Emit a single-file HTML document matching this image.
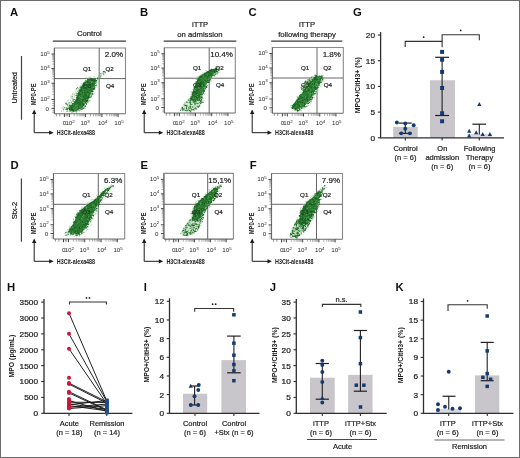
<!DOCTYPE html>
<html><head><meta charset="utf-8"><style>
html,body{margin:0;padding:0;background:#fff;}
#fig{position:absolute;left:0;top:0;width:520px;height:458px;box-sizing:border-box;border:1px solid #6c6c6c;background:#fff;overflow:hidden;}
svg{position:absolute;left:-1px;top:-1px;filter:blur(0.35px);}
text{font-family:"Liberation Sans", sans-serif;}
</style></head><body>
<div id="fig"><svg width="520" height="458" viewBox="0 0 520 458">
<text transform="translate(10.00,15.80)" font-size="11.3" text-anchor="start" font-weight="bold" fill="#111">A</text>
<text transform="translate(140.00,16.00)" font-size="11.3" text-anchor="start" font-weight="bold" fill="#111">B</text>
<text transform="translate(248.60,16.00)" font-size="11.3" text-anchor="start" font-weight="bold" fill="#111">C</text>
<text transform="translate(353.00,16.30)" font-size="11.3" text-anchor="start" font-weight="bold" fill="#111">G</text>
<text transform="translate(10.60,168.50)" font-size="11.3" text-anchor="start" font-weight="bold" fill="#111">D</text>
<text transform="translate(140.60,168.50)" font-size="11.3" text-anchor="start" font-weight="bold" fill="#111">E</text>
<text transform="translate(249.80,168.50)" font-size="11.3" text-anchor="start" font-weight="bold" fill="#111">F</text>
<text transform="translate(7.00,291.40)" font-size="11.3" text-anchor="start" font-weight="bold" fill="#111">H</text>
<text transform="translate(143.80,291.40)" font-size="11.3" text-anchor="start" font-weight="bold" fill="#111">I</text>
<text transform="translate(269.80,291.40)" font-size="11.3" text-anchor="start" font-weight="bold" fill="#111">J</text>
<text transform="translate(395.60,291.40)" font-size="11.3" text-anchor="start" font-weight="bold" fill="#111">K</text>
<path d="M54.40,113.80V48.00H125.50V113.80" fill="none" stroke="#8a8a8a" stroke-width="1.1"/>
<path d="M54.40,48.00L54.40,113.80" stroke="#6a6a6a" stroke-width="1.1"/>
<path d="M54.40,113.80L125.50,113.80" stroke="#6a6a6a" stroke-width="1.1"/>
<path d="M99.20,48.00L99.20,113.80" stroke="#666" stroke-width="1.0"/>
<path d="M54.40,78.60L125.50,78.60" stroke="#666" stroke-width="1.0"/>
<path d="M60.0,111.0L60.0,111.0L68.0,111.5L68.0,111.5L68.0,111.5L71.0,104.1L71.0,103.9L75.0,97.0L75.0,97.0L79.0,89.1L79.0,88.9L83.0,83.0L83.0,83.0L83.0,83.0L78.0,86.0L78.0,86.0L78.0,86.0L66.0,102.0L66.0,102.0L60.0,111.0L60.0,111.0Z" fill="#9ccc9c" opacity="0.12"/><path d="M95.2 84.8h0.8v0.8h-0.8zM80.8 83.2h0.8v0.8h-0.8zM67.7 105.4h0.8v0.8h-0.8zM91.4 97.5h0.8v0.8h-0.8zM71.2 103.2h0.8v0.8h-0.8zM79.1 89.2h0.8v0.8h-0.8zM84.5 105.6h0.8v0.8h-0.8zM91.2 96.5h0.8v0.8h-0.8zM67.0 111.3h0.8v0.8h-0.8zM68.6 111.3h0.8v0.8h-0.8zM84.0 81.5h0.8v0.8h-0.8zM72.5 112.0h0.8v0.8h-0.8zM88.8 76.4h0.8v0.8h-0.8zM80.9 86.6h0.8v0.8h-0.8zM92.3 93.0h0.8v0.8h-0.8zM92.9 93.2h0.8v0.8h-0.8zM90.2 100.4h0.8v0.8h-0.8zM81.5 83.8h0.8v0.8h-0.8zM71.7 112.5h0.8v0.8h-0.8zM88.3 76.8h0.8v0.8h-0.8zM69.9 103.8h0.8v0.8h-0.8zM75.6 112.0h0.8v0.8h-0.8zM81.8 109.1h0.8v0.8h-0.8zM93.0 94.1h0.8v0.8h-0.8zM86.3 77.8h0.8v0.8h-0.8zM80.6 110.4h0.8v0.8h-0.8zM94.2 89.1h0.8v0.8h-0.8zM72.8 100.1h0.8v0.8h-0.8zM86.9 77.6h0.8v0.8h-0.8zM74.0 99.1h0.8v0.8h-0.8zM85.6 80.4h0.8v0.8h-0.8zM75.9 97.0h0.8v0.8h-0.8zM93.9 93.2h0.8v0.8h-0.8zM93.4 90.8h0.8v0.8h-0.8zM71.5 104.3h0.8v0.8h-0.8zM96.1 81.9h0.8v0.8h-0.8zM67.8 106.2h0.8v0.8h-0.8zM97.0 77.8h0.8v0.8h-0.8zM79.1 87.2h0.8v0.8h-0.8zM67.8 107.8h0.8v0.8h-0.8zM71.7 111.7h0.8v0.8h-0.8zM68.3 105.8h0.8v0.8h-0.8zM94.4 89.1h0.8v0.8h-0.8zM91.4 96.2h0.8v0.8h-0.8zM82.8 82.3h0.8v0.8h-0.8zM97.9 81.2h0.8v0.8h-0.8zM80.0 85.6h0.8v0.8h-0.8zM71.0 111.9h0.8v0.8h-0.8zM86.4 106.5h0.8v0.8h-0.8zM98.3 81.4h0.8v0.8h-0.8zM75.6 93.3h0.8v0.8h-0.8zM79.7 87.4h0.8v0.8h-0.8zM87.4 102.7h0.8v0.8h-0.8zM83.3 108.5h0.8v0.8h-0.8zM76.6 94.4h0.8v0.8h-0.8zM92.3 94.6h0.8v0.8h-0.8zM89.0 77.1h0.8v0.8h-0.8zM96.8 83.4h0.8v0.8h-0.8zM97.8 78.8h0.8v0.8h-0.8zM84.1 82.1h0.8v0.8h-0.8zM96.9 80.2h0.8v0.8h-0.8zM73.5 111.2h0.8v0.8h-0.8zM74.1 101.2h0.8v0.8h-0.8zM93.3 76.3h0.8v0.8h-0.8zM76.5 112.4h0.8v0.8h-0.8zM67.4 109.6h0.8v0.8h-0.8zM88.3 102.2h0.8v0.8h-0.8zM85.2 79.4h0.8v0.8h-0.8zM79.3 86.5h0.8v0.8h-0.8zM87.3 102.3h0.8v0.8h-0.8zM82.3 83.8h0.8v0.8h-0.8zM68.5 107.4h0.8v0.8h-0.8zM84.7 80.1h0.8v0.8h-0.8zM96.9 85.0h0.8v0.8h-0.8zM73.7 100.7h0.8v0.8h-0.8zM88.1 102.4h0.8v0.8h-0.8zM69.3 105.5h0.8v0.8h-0.8zM80.2 86.7h0.8v0.8h-0.8zM69.6 111.2h0.8v0.8h-0.8zM90.9 77.5h0.8v0.8h-0.8zM94.4 76.6h0.8v0.8h-0.8zM79.0 110.6h0.8v0.8h-0.8zM84.5 81.3h0.8v0.8h-0.8zM77.9 89.1h0.8v0.8h-0.8zM94.3 87.0h0.8v0.8h-0.8zM96.4 86.8h0.8v0.8h-0.8zM88.8 77.8h0.8v0.8h-0.8zM98.1 79.0h0.8v0.8h-0.8zM78.0 90.2h0.8v0.8h-0.8zM95.9 78.1h0.8v0.8h-0.8zM88.5 100.0h0.8v0.8h-0.8zM85.4 108.1h0.8v0.8h-0.8zM88.7 100.3h0.8v0.8h-0.8zM68.9 104.5h0.8v0.8h-0.8zM80.8 110.6h0.8v0.8h-0.8zM92.9 91.1h0.8v0.8h-0.8zM67.5 110.6h0.8v0.8h-0.8zM97.5 81.8h0.8v0.8h-0.8zM77.0 110.6h0.8v0.8h-0.8zM94.7 86.8h0.8v0.8h-0.8zM76.5 111.3h0.8v0.8h-0.8zM78.9 90.5h0.8v0.8h-0.8zM78.3 87.7h0.8v0.8h-0.8zM76.1 112.1h0.8v0.8h-0.8zM68.4 104.8h0.8v0.8h-0.8zM90.3 76.4h0.8v0.8h-0.8zM84.7 80.5h0.8v0.8h-0.8zM94.3 77.5h0.8v0.8h-0.8zM95.3 86.7h0.8v0.8h-0.8zM72.2 103.0h0.8v0.8h-0.8zM74.0 93.5h0.8v0.8h-0.8zM72.9 101.1h0.8v0.8h-0.8zM66.7 105.2h0.8v0.8h-0.8zM79.6 87.5h0.8v0.8h-0.8zM64.9 109.0h0.8v0.8h-0.8zM76.2 92.0h0.8v0.8h-0.8zM73.6 94.8h0.8v0.8h-0.8zM62.8 110.6h0.8v0.8h-0.8zM66.9 111.2h0.8v0.8h-0.8zM74.0 96.2h0.8v0.8h-0.8zM68.4 103.0h0.8v0.8h-0.8zM76.8 91.1h0.8v0.8h-0.8zM79.7 86.9h0.8v0.8h-0.8zM68.2 103.2h0.8v0.8h-0.8zM70.1 100.5h0.8v0.8h-0.8zM70.4 96.6h0.8v0.8h-0.8zM74.5 95.3h0.8v0.8h-0.8zM69.7 103.2h0.8v0.8h-0.8zM75.5 89.4h0.8v0.8h-0.8zM70.6 95.6h0.8v0.8h-0.8zM68.0 99.8h0.8v0.8h-0.8zM69.5 103.3h0.8v0.8h-0.8zM77.2 90.7h0.8v0.8h-0.8zM72.2 93.9h0.8v0.8h-0.8zM61.2 111.0h0.8v0.8h-0.8zM64.8 108.0h0.8v0.8h-0.8zM64.6 108.1h0.8v0.8h-0.8zM66.0 111.0h0.8v0.8h-0.8zM63.3 109.2h0.8v0.8h-0.8zM71.9 99.8h0.8v0.8h-0.8zM77.8 88.5h0.8v0.8h-0.8zM65.8 102.5h0.8v0.8h-0.8zM72.4 93.1h0.8v0.8h-0.8zM71.0 104.3h0.8v0.8h-0.8zM71.7 101.6h0.8v0.8h-0.8zM82.8 83.7h0.8v0.8h-0.8zM61.8 107.8h0.8v0.8h-0.8zM67.5 100.1h0.8v0.8h-0.8zM60.9 110.8h0.8v0.8h-0.8zM63.6 107.7h0.8v0.8h-0.8zM75.2 91.5h0.8v0.8h-0.8zM69.2 105.0h0.8v0.8h-0.8zM73.4 94.2h0.8v0.8h-0.8zM72.2 94.4h0.8v0.8h-0.8zM78.6 88.6h0.8v0.8h-0.8zM68.8 105.3h0.8v0.8h-0.8zM63.1 110.4h0.8v0.8h-0.8zM78.8 88.3h0.8v0.8h-0.8zM66.6 106.9h0.8v0.8h-0.8zM71.3 97.8h0.8v0.8h-0.8zM77.9 89.0h0.8v0.8h-0.8zM67.2 105.5h0.8v0.8h-0.8zM80.4 85.4h0.8v0.8h-0.8zM76.1 93.6h0.8v0.8h-0.8zM62.4 107.0h0.8v0.8h-0.8zM71.6 97.4h0.8v0.8h-0.8zM68.8 102.7h0.8v0.8h-0.8zM66.4 107.7h0.8v0.8h-0.8zM65.8 104.1h0.8v0.8h-0.8zM63.4 105.9h0.8v0.8h-0.8zM97.9 75.6h0.8v0.8h-0.8zM105.0 71.8h0.8v0.8h-0.8zM102.3 73.2h0.8v0.8h-0.8zM98.7 76.1h0.8v0.8h-0.8zM101.0 73.7h0.8v0.8h-0.8zM103.9 71.6h0.8v0.8h-0.8zM101.2 74.9h0.8v0.8h-0.8zM100.3 73.8h0.8v0.8h-0.8zM96.9 78.9h0.8v0.8h-0.8zM98.0 77.5h0.8v0.8h-0.8zM102.1 72.9h0.8v0.8h-0.8zM100.0 76.3h0.8v0.8h-0.8zM96.8 79.3h0.8v0.8h-0.8zM100.3 75.1h0.8v0.8h-0.8zM102.5 71.5h0.8v0.8h-0.8zM98.1 78.0h0.8v0.8h-0.8zM101.7 73.6h0.8v0.8h-0.8zM103.7 73.9h0.8v0.8h-0.8zM98.0 74.9h0.8v0.8h-0.8zM100.3 76.0h0.8v0.8h-0.8zM96.7 79.1h0.8v0.8h-0.8zM95.6 77.8h0.8v0.8h-0.8zM97.6 77.0h0.8v0.8h-0.8zM98.3 76.8h0.8v0.8h-0.8zM96.8 78.8h0.8v0.8h-0.8zM101.9 71.8h0.8v0.8h-0.8zM99.4 77.3h0.8v0.8h-0.8zM100.5 73.6h0.8v0.8h-0.8zM98.6 77.9h0.8v0.8h-0.8zM103.1 71.5h0.8v0.8h-0.8zM100.4 74.1h0.8v0.8h-0.8zM99.9 73.7h0.8v0.8h-0.8zM97.9 75.0h0.8v0.8h-0.8zM102.9 74.6h0.8v0.8h-0.8zM99.6 75.2h0.8v0.8h-0.8z" fill="#86c286" opacity="0.75"/><path d="M68.5,108.3L69.3,110.1L75.9,110.4L82.8,107.4L87.7,99.9L87.8,99.9L91.7,91.9L91.7,91.9L94.7,85.0L94.7,85.0L96.1,79.7L93.0,78.4L88.3,78.9L84.4,82.4L80.5,88.3L75.5,100.1L75.5,100.3L75.4,100.4L75.3,100.4L71.3,105.3L71.3,105.4L68.5,108.3Z" fill="#287c2f"/><path d="M71.7 109.7h0.9v0.9h-0.9zM92.1 91.3h0.9v0.9h-0.9zM89.9 95.7h0.9v0.9h-0.9zM72.2 110.5h0.9v0.9h-0.9zM86.0 103.9h0.9v0.9h-0.9zM71.8 105.3h0.9v0.9h-0.9zM73.1 104.7h0.9v0.9h-0.9zM86.6 101.9h0.9v0.9h-0.9zM92.2 79.5h0.9v0.9h-0.9zM83.6 84.0h0.9v0.9h-0.9zM78.6 91.7h0.9v0.9h-0.9zM84.9 106.0h0.9v0.9h-0.9zM80.8 89.9h0.9v0.9h-0.9zM76.7 97.0h0.9v0.9h-0.9zM83.1 82.4h0.9v0.9h-0.9zM86.0 101.0h0.9v0.9h-0.9zM79.2 109.5h0.9v0.9h-0.9zM73.4 111.1h0.9v0.9h-0.9zM78.8 94.5h0.9v0.9h-0.9zM78.5 93.6h0.9v0.9h-0.9zM69.6 110.2h0.9v0.9h-0.9zM72.1 109.9h0.9v0.9h-0.9zM81.2 107.5h0.9v0.9h-0.9zM92.0 79.4h0.9v0.9h-0.9zM70.1 110.2h0.9v0.9h-0.9zM87.4 101.0h0.9v0.9h-0.9zM69.3 110.3h0.9v0.9h-0.9zM92.4 79.2h0.9v0.9h-0.9zM79.3 109.7h0.9v0.9h-0.9zM73.7 103.9h0.9v0.9h-0.9zM92.2 79.1h0.9v0.9h-0.9zM71.0 110.3h0.9v0.9h-0.9zM78.0 109.6h0.9v0.9h-0.9zM91.7 93.3h0.9v0.9h-0.9zM77.0 95.8h0.9v0.9h-0.9zM79.3 89.3h0.9v0.9h-0.9zM93.3 79.0h0.9v0.9h-0.9zM76.6 94.9h0.9v0.9h-0.9zM83.3 82.7h0.9v0.9h-0.9zM84.5 81.8h0.9v0.9h-0.9zM88.7 96.3h0.9v0.9h-0.9zM80.0 108.7h0.9v0.9h-0.9zM72.1 103.2h0.9v0.9h-0.9zM76.0 110.2h0.9v0.9h-0.9zM75.3 101.7h0.9v0.9h-0.9zM78.6 92.9h0.9v0.9h-0.9zM76.7 95.5h0.9v0.9h-0.9zM72.4 102.9h0.9v0.9h-0.9zM81.4 107.1h0.9v0.9h-0.9zM77.2 98.1h0.9v0.9h-0.9zM77.1 109.6h0.9v0.9h-0.9zM88.7 100.4h0.9v0.9h-0.9zM88.9 97.0h0.9v0.9h-0.9zM90.9 94.5h0.9v0.9h-0.9zM76.3 99.0h0.9v0.9h-0.9zM70.1 105.8h0.9v0.9h-0.9zM82.2 84.4h0.9v0.9h-0.9zM78.8 94.5h0.9v0.9h-0.9zM95.1 85.3h0.9v0.9h-0.9zM94.1 86.6h0.9v0.9h-0.9zM84.7 105.1h0.9v0.9h-0.9zM81.6 87.4h0.9v0.9h-0.9zM95.2 82.9h0.9v0.9h-0.9zM78.1 95.9h0.9v0.9h-0.9zM80.3 107.6h0.9v0.9h-0.9zM80.2 86.8h0.9v0.9h-0.9zM80.3 86.7h0.9v0.9h-0.9zM95.9 80.2h0.9v0.9h-0.9zM68.7 107.0h0.9v0.9h-0.9zM93.1 90.7h0.9v0.9h-0.9zM85.9 103.0h0.9v0.9h-0.9zM75.5 100.0h0.9v0.9h-0.9zM95.0 78.8h0.9v0.9h-0.9zM91.3 91.0h0.9v0.9h-0.9zM80.8 108.9h0.9v0.9h-0.9zM71.8 110.6h0.9v0.9h-0.9zM94.4 78.1h0.9v0.9h-0.9zM73.1 110.1h0.9v0.9h-0.9zM91.4 93.1h0.9v0.9h-0.9zM75.3 110.3h0.9v0.9h-0.9zM69.2 105.9h0.9v0.9h-0.9zM80.4 87.0h0.9v0.9h-0.9zM71.4 104.9h0.9v0.9h-0.9zM87.5 99.7h0.9v0.9h-0.9zM82.9 85.9h0.9v0.9h-0.9zM77.5 109.0h0.9v0.9h-0.9zM93.0 87.8h0.9v0.9h-0.9zM86.1 100.7h0.9v0.9h-0.9zM74.3 110.0h0.9v0.9h-0.9zM77.3 93.1h0.9v0.9h-0.9zM90.9 79.2h0.9v0.9h-0.9zM78.3 95.0h0.9v0.9h-0.9zM90.0 78.9h0.9v0.9h-0.9zM95.8 84.4h0.9v0.9h-0.9zM81.6 108.8h0.9v0.9h-0.9zM93.2 87.7h0.9v0.9h-0.9zM77.0 98.1h0.9v0.9h-0.9zM79.2 108.1h0.9v0.9h-0.9zM92.9 88.1h0.9v0.9h-0.9zM79.8 89.9h0.9v0.9h-0.9zM92.0 92.7h0.9v0.9h-0.9zM82.9 83.6h0.9v0.9h-0.9zM74.5 101.4h0.9v0.9h-0.9zM87.0 78.7h0.9v0.9h-0.9zM78.5 92.0h0.9v0.9h-0.9zM75.7 110.8h0.9v0.9h-0.9zM77.4 93.9h0.9v0.9h-0.9zM81.3 107.6h0.9v0.9h-0.9zM90.0 97.2h0.9v0.9h-0.9zM87.2 79.5h0.9v0.9h-0.9zM78.6 93.9h0.9v0.9h-0.9zM91.0 78.0h0.9v0.9h-0.9zM88.3 79.3h0.9v0.9h-0.9zM70.5 106.5h0.9v0.9h-0.9zM95.5 85.4h0.9v0.9h-0.9zM77.6 109.5h0.9v0.9h-0.9zM95.6 82.5h0.9v0.9h-0.9zM90.8 95.8h0.9v0.9h-0.9zM86.6 100.1h0.9v0.9h-0.9zM93.2 88.6h0.9v0.9h-0.9zM80.4 87.5h0.9v0.9h-0.9zM90.7 77.9h0.9v0.9h-0.9zM90.1 93.2h0.9v0.9h-0.9zM78.1 94.2h0.9v0.9h-0.9zM84.8 102.5h0.9v0.9h-0.9zM73.2 110.9h0.9v0.9h-0.9zM83.8 83.7h0.9v0.9h-0.9zM82.9 82.9h0.9v0.9h-0.9zM90.2 77.7h0.9v0.9h-0.9zM84.6 105.5h0.9v0.9h-0.9zM86.7 101.9h0.9v0.9h-0.9zM80.8 88.9h0.9v0.9h-0.9zM96.3 80.9h0.9v0.9h-0.9zM80.9 85.8h0.9v0.9h-0.9zM83.3 106.9h0.9v0.9h-0.9zM89.2 79.3h0.9v0.9h-0.9zM71.8 104.7h0.9v0.9h-0.9zM67.7 108.1h0.9v0.9h-0.9zM79.5 90.0h0.9v0.9h-0.9zM70.5 110.4h0.9v0.9h-0.9zM76.3 95.7h0.9v0.9h-0.9zM94.5 87.6h0.9v0.9h-0.9zM76.9 98.6h0.9v0.9h-0.9zM75.8 110.1h0.9v0.9h-0.9zM87.2 100.6h0.9v0.9h-0.9zM95.4 82.5h0.9v0.9h-0.9zM93.9 88.1h0.9v0.9h-0.9zM85.4 101.9h0.9v0.9h-0.9zM82.7 85.1h0.9v0.9h-0.9zM76.9 96.5h0.9v0.9h-0.9zM68.7 107.3h0.9v0.9h-0.9zM95.9 79.9h0.9v0.9h-0.9zM78.5 93.0h0.9v0.9h-0.9zM91.3 78.2h0.9v0.9h-0.9zM74.4 110.7h0.9v0.9h-0.9zM94.7 82.7h0.9v0.9h-0.9zM79.3 92.8h0.9v0.9h-0.9zM84.6 105.4h0.9v0.9h-0.9zM91.9 90.5h0.9v0.9h-0.9zM77.2 109.4h0.9v0.9h-0.9zM74.5 110.3h0.9v0.9h-0.9zM84.5 106.2h0.9v0.9h-0.9zM80.1 90.8h0.9v0.9h-0.9zM91.9 93.8h0.9v0.9h-0.9zM92.6 88.6h0.9v0.9h-0.9zM83.9 82.4h0.9v0.9h-0.9zM77.0 96.5h0.9v0.9h-0.9zM87.0 100.2h0.9v0.9h-0.9zM78.1 92.2h0.9v0.9h-0.9zM92.6 88.9h0.9v0.9h-0.9zM94.0 88.5h0.9v0.9h-0.9zM71.5 105.7h0.9v0.9h-0.9zM72.2 105.7h0.9v0.9h-0.9zM95.6 85.3h0.9v0.9h-0.9zM88.3 79.2h0.9v0.9h-0.9zM93.3 89.0h0.9v0.9h-0.9zM82.1 85.2h0.9v0.9h-0.9zM75.6 99.6h0.9v0.9h-0.9zM88.2 97.9h0.9v0.9h-0.9zM85.4 80.3h0.9v0.9h-0.9zM68.6 107.6h0.9v0.9h-0.9zM91.9 78.8h0.9v0.9h-0.9zM70.0 110.5h0.9v0.9h-0.9zM96.1 80.0h0.9v0.9h-0.9zM82.5 108.0h0.9v0.9h-0.9zM93.7 85.6h0.9v0.9h-0.9zM83.8 107.6h0.9v0.9h-0.9zM75.9 97.2h0.9v0.9h-0.9zM72.4 109.9h0.9v0.9h-0.9zM78.9 90.1h0.9v0.9h-0.9zM94.6 78.4h0.9v0.9h-0.9zM82.8 108.1h0.9v0.9h-0.9zM95.6 80.2h0.9v0.9h-0.9zM77.9 93.2h0.9v0.9h-0.9zM84.0 84.6h0.9v0.9h-0.9zM76.8 95.3h0.9v0.9h-0.9zM74.9 102.3h0.9v0.9h-0.9zM88.5 98.4h0.9v0.9h-0.9zM83.3 83.5h0.9v0.9h-0.9zM76.3 100.8h0.9v0.9h-0.9zM76.0 88.3h0.9v0.9h-0.9zM69.9 106.4h0.9v0.9h-0.9zM66.9 109.0h0.9v0.9h-0.9zM77.0 87.3h0.9v0.9h-0.9zM69.9 104.8h0.9v0.9h-0.9zM66.4 103.8h0.9v0.9h-0.9zM75.9 93.4h0.9v0.9h-0.9zM67.2 104.5h0.9v0.9h-0.9zM66.6 110.7h0.9v0.9h-0.9zM65.6 109.1h0.9v0.9h-0.9zM77.7 90.9h0.9v0.9h-0.9zM66.3 107.6h0.9v0.9h-0.9zM69.7 106.3h0.9v0.9h-0.9zM69.2 109.0h0.9v0.9h-0.9zM71.8 96.3h0.9v0.9h-0.9zM75.5 95.2h0.9v0.9h-0.9zM72.5 98.6h0.9v0.9h-0.9zM66.7 108.1h0.9v0.9h-0.9zM68.8 108.9h0.9v0.9h-0.9zM66.3 108.7h0.9v0.9h-0.9zM69.1 104.8h0.9v0.9h-0.9zM65.4 102.8h0.9v0.9h-0.9zM65.7 103.3h0.9v0.9h-0.9zM64.3 106.9h0.9v0.9h-0.9zM72.7 100.5h0.9v0.9h-0.9zM63.0 108.7h0.9v0.9h-0.9zM68.7 102.2h0.9v0.9h-0.9zM73.6 99.0h0.9v0.9h-0.9zM69.8 105.5h0.9v0.9h-0.9zM70.8 101.8h0.9v0.9h-0.9zM103.3 71.6h0.9v0.9h-0.9zM100.3 76.5h0.9v0.9h-0.9zM97.4 77.6h0.9v0.9h-0.9zM94.3 80.1h0.9v0.9h-0.9zM100.3 73.2h0.9v0.9h-0.9zM103.1 71.1h0.9v0.9h-0.9zM104.7 72.3h0.9v0.9h-0.9zM104.3 71.0h0.9v0.9h-0.9zM97.0 78.0h0.9v0.9h-0.9zM103.2 73.5h0.9v0.9h-0.9z" fill="#1c6523"/><path d="M86.2 94.8h1.0v1.0h-1.0zM79.2 104.2h1.0v1.0h-1.0zM92.0 83.7h1.0v1.0h-1.0zM79.8 103.5h1.0v1.0h-1.0zM82.4 103.2h1.0v1.0h-1.0zM77.8 99.1h1.0v1.0h-1.0zM71.2 109.0h1.0v1.0h-1.0zM86.4 99.9h1.0v1.0h-1.0zM88.8 93.9h1.0v1.0h-1.0zM88.7 89.7h1.0v1.0h-1.0zM76.6 99.7h1.0v1.0h-1.0zM79.2 102.9h1.0v1.0h-1.0zM83.4 90.2h1.0v1.0h-1.0zM93.7 84.6h1.0v1.0h-1.0zM94.2 79.9h1.0v1.0h-1.0zM76.4 101.4h1.0v1.0h-1.0zM84.7 86.8h1.0v1.0h-1.0zM92.7 80.8h1.0v1.0h-1.0zM77.6 106.7h1.0v1.0h-1.0zM82.8 95.8h1.0v1.0h-1.0zM86.1 100.5h1.0v1.0h-1.0zM85.4 93.5h1.0v1.0h-1.0zM84.1 85.2h1.0v1.0h-1.0zM78.1 105.9h1.0v1.0h-1.0zM91.5 79.9h1.0v1.0h-1.0zM82.3 100.0h1.0v1.0h-1.0zM94.7 80.9h1.0v1.0h-1.0zM70.7 109.3h1.0v1.0h-1.0zM87.6 82.2h1.0v1.0h-1.0zM86.5 98.9h1.0v1.0h-1.0zM88.2 96.0h1.0v1.0h-1.0zM86.8 97.3h1.0v1.0h-1.0zM70.8 108.3h1.0v1.0h-1.0zM83.7 89.2h1.0v1.0h-1.0zM78.0 97.7h1.0v1.0h-1.0zM76.7 102.9h1.0v1.0h-1.0zM81.6 91.6h1.0v1.0h-1.0zM82.8 104.9h1.0v1.0h-1.0zM82.9 104.0h1.0v1.0h-1.0zM88.2 85.2h1.0v1.0h-1.0zM89.5 82.1h1.0v1.0h-1.0zM80.5 96.3h1.0v1.0h-1.0zM83.3 98.0h1.0v1.0h-1.0zM83.4 88.5h1.0v1.0h-1.0zM84.1 88.3h1.0v1.0h-1.0zM85.4 98.7h1.0v1.0h-1.0zM86.9 81.3h1.0v1.0h-1.0zM84.1 94.5h1.0v1.0h-1.0zM93.7 80.4h1.0v1.0h-1.0zM89.3 89.9h1.0v1.0h-1.0zM76.4 103.3h1.0v1.0h-1.0zM93.5 83.0h1.0v1.0h-1.0zM89.1 83.7h1.0v1.0h-1.0zM84.2 98.8h1.0v1.0h-1.0zM85.8 99.7h1.0v1.0h-1.0zM88.3 96.6h1.0v1.0h-1.0zM89.1 93.3h1.0v1.0h-1.0zM76.1 102.9h1.0v1.0h-1.0zM84.5 95.4h1.0v1.0h-1.0zM87.9 92.6h1.0v1.0h-1.0zM84.3 92.3h1.0v1.0h-1.0zM80.3 94.6h1.0v1.0h-1.0zM83.6 96.9h1.0v1.0h-1.0zM92.1 82.4h1.0v1.0h-1.0zM90.4 87.2h1.0v1.0h-1.0zM72.2 109.0h1.0v1.0h-1.0zM78.4 101.9h1.0v1.0h-1.0zM83.4 86.3h1.0v1.0h-1.0zM82.4 102.6h1.0v1.0h-1.0zM82.8 99.2h1.0v1.0h-1.0zM91.7 84.5h1.0v1.0h-1.0zM70.2 109.3h1.0v1.0h-1.0zM90.0 89.1h1.0v1.0h-1.0zM78.5 100.1h1.0v1.0h-1.0zM84.2 100.6h1.0v1.0h-1.0zM89.8 93.2h1.0v1.0h-1.0zM81.4 105.7h1.0v1.0h-1.0zM91.7 89.8h1.0v1.0h-1.0zM92.3 83.8h1.0v1.0h-1.0zM87.9 97.0h1.0v1.0h-1.0zM71.7 107.1h1.0v1.0h-1.0zM87.1 91.8h1.0v1.0h-1.0zM92.0 79.5h1.0v1.0h-1.0zM73.1 104.9h1.0v1.0h-1.0zM77.5 102.0h1.0v1.0h-1.0zM86.1 94.3h1.0v1.0h-1.0zM80.3 100.4h1.0v1.0h-1.0zM84.6 86.2h1.0v1.0h-1.0zM79.9 98.1h1.0v1.0h-1.0zM84.1 85.1h1.0v1.0h-1.0z" fill="#15521b" opacity="0.8"/><path d="M80.9 98.2h0.9v0.9h-0.9zM79.5 106.0h0.9v0.9h-0.9zM84.0 103.1h0.9v0.9h-0.9zM74.3 106.9h0.9v0.9h-0.9zM89.3 94.2h0.9v0.9h-0.9zM78.5 99.4h0.9v0.9h-0.9zM83.7 87.4h0.9v0.9h-0.9zM84.0 101.7h0.9v0.9h-0.9zM89.6 88.5h0.9v0.9h-0.9zM85.7 87.0h0.9v0.9h-0.9zM85.7 88.0h0.9v0.9h-0.9zM82.5 89.7h0.9v0.9h-0.9zM84.3 102.1h0.9v0.9h-0.9zM81.5 105.5h0.9v0.9h-0.9zM89.3 84.7h0.9v0.9h-0.9zM80.0 97.3h0.9v0.9h-0.9zM73.0 104.6h0.9v0.9h-0.9zM88.4 93.0h0.9v0.9h-0.9zM78.6 96.1h0.9v0.9h-0.9zM83.4 94.5h0.9v0.9h-0.9zM88.4 89.3h0.9v0.9h-0.9zM91.0 82.0h0.9v0.9h-0.9zM75.0 104.8h0.9v0.9h-0.9zM87.0 94.6h0.9v0.9h-0.9zM87.6 98.8h0.9v0.9h-0.9zM88.8 90.7h0.9v0.9h-0.9zM77.0 104.8h0.9v0.9h-0.9zM75.7 107.9h0.9v0.9h-0.9zM90.5 81.2h0.9v0.9h-0.9zM80.6 107.6h0.9v0.9h-0.9zM92.0 81.6h0.9v0.9h-0.9zM91.6 87.0h0.9v0.9h-0.9zM86.1 87.1h0.9v0.9h-0.9zM81.0 93.4h0.9v0.9h-0.9zM75.6 104.9h0.9v0.9h-0.9zM91.8 81.2h0.9v0.9h-0.9zM73.2 108.1h0.9v0.9h-0.9zM83.9 99.8h0.9v0.9h-0.9zM80.8 95.7h0.9v0.9h-0.9zM79.6 96.8h0.9v0.9h-0.9zM93.6 82.5h0.9v0.9h-0.9zM86.3 83.1h0.9v0.9h-0.9zM84.0 86.5h0.9v0.9h-0.9zM82.8 101.6h0.9v0.9h-0.9zM77.3 104.6h0.9v0.9h-0.9zM80.5 91.9h0.9v0.9h-0.9zM85.1 86.0h0.9v0.9h-0.9zM76.4 102.5h0.9v0.9h-0.9zM74.7 106.9h0.9v0.9h-0.9zM80.7 100.1h0.9v0.9h-0.9zM91.3 85.4h0.9v0.9h-0.9zM81.0 97.8h0.9v0.9h-0.9zM84.5 102.4h0.9v0.9h-0.9zM80.8 95.3h0.9v0.9h-0.9zM81.4 96.7h0.9v0.9h-0.9zM90.1 93.6h0.9v0.9h-0.9zM86.7 85.9h0.9v0.9h-0.9zM81.8 96.7h0.9v0.9h-0.9zM75.7 105.9h0.9v0.9h-0.9zM90.2 92.2h0.9v0.9h-0.9zM83.0 91.1h0.9v0.9h-0.9zM82.9 92.7h0.9v0.9h-0.9zM76.9 107.0h0.9v0.9h-0.9zM79.5 106.6h0.9v0.9h-0.9zM86.6 93.5h0.9v0.9h-0.9zM83.1 102.5h0.9v0.9h-0.9zM82.7 98.1h0.9v0.9h-0.9zM75.4 109.1h0.9v0.9h-0.9zM85.9 99.0h0.9v0.9h-0.9zM83.8 89.1h0.9v0.9h-0.9z" fill="#63aa63" opacity="0.8"/>
<path d="M51.40,54.00L54.40,54.00" stroke="#444" stroke-width="1.0"/>
<path d="M51.40,68.50L54.40,68.50" stroke="#444" stroke-width="1.0"/>
<path d="M51.40,83.30L54.40,83.30" stroke="#444" stroke-width="1.0"/>
<path d="M51.40,99.50L54.40,99.50" stroke="#444" stroke-width="1.0"/>
<path d="M51.40,108.30L54.40,108.30" stroke="#444" stroke-width="1.0"/>
<path d="M52.20,64.14L54.40,64.14" stroke="#777" stroke-width="0.6"/>
<path d="M52.20,61.58L54.40,61.58" stroke="#777" stroke-width="0.6"/>
<path d="M52.20,59.77L54.40,59.77" stroke="#777" stroke-width="0.6"/>
<path d="M52.20,58.36L54.40,58.36" stroke="#777" stroke-width="0.6"/>
<path d="M52.20,57.22L54.40,57.22" stroke="#777" stroke-width="0.6"/>
<path d="M52.20,56.25L54.40,56.25" stroke="#777" stroke-width="0.6"/>
<path d="M52.20,55.41L54.40,55.41" stroke="#777" stroke-width="0.6"/>
<path d="M52.20,54.66L54.40,54.66" stroke="#777" stroke-width="0.6"/>
<path d="M52.20,78.84L54.40,78.84" stroke="#777" stroke-width="0.6"/>
<path d="M52.20,76.24L54.40,76.24" stroke="#777" stroke-width="0.6"/>
<path d="M52.20,74.39L54.40,74.39" stroke="#777" stroke-width="0.6"/>
<path d="M52.20,72.96L54.40,72.96" stroke="#777" stroke-width="0.6"/>
<path d="M52.20,71.78L54.40,71.78" stroke="#777" stroke-width="0.6"/>
<path d="M52.20,70.79L54.40,70.79" stroke="#777" stroke-width="0.6"/>
<path d="M52.20,69.93L54.40,69.93" stroke="#777" stroke-width="0.6"/>
<path d="M52.20,69.18L54.40,69.18" stroke="#777" stroke-width="0.6"/>
<path d="M52.20,94.62L54.40,94.62" stroke="#777" stroke-width="0.6"/>
<path d="M52.20,91.77L54.40,91.77" stroke="#777" stroke-width="0.6"/>
<path d="M52.20,89.75L54.40,89.75" stroke="#777" stroke-width="0.6"/>
<path d="M52.20,88.18L54.40,88.18" stroke="#777" stroke-width="0.6"/>
<path d="M52.20,86.89L54.40,86.89" stroke="#777" stroke-width="0.6"/>
<path d="M52.20,85.81L54.40,85.81" stroke="#777" stroke-width="0.6"/>
<path d="M52.20,84.87L54.40,84.87" stroke="#777" stroke-width="0.6"/>
<path d="M52.20,84.04L54.40,84.04" stroke="#777" stroke-width="0.6"/>
<path d="M52.20,101.50L54.40,101.50" stroke="#777" stroke-width="0.6"/>
<path d="M52.20,103.50L54.40,103.50" stroke="#777" stroke-width="0.6"/>
<path d="M52.20,105.50L54.40,105.50" stroke="#777" stroke-width="0.6"/>
<path d="M52.20,110.80L54.40,110.80" stroke="#777" stroke-width="0.6"/>
<path d="M52.20,112.60L54.40,112.60" stroke="#777" stroke-width="0.6"/>
<path d="M64.40,113.80L64.40,117.00" stroke="#444" stroke-width="1.0"/>
<path d="M69.40,113.80L69.40,117.00" stroke="#444" stroke-width="1.0"/>
<path d="M85.60,113.80L85.60,117.00" stroke="#444" stroke-width="1.0"/>
<path d="M101.90,113.80L101.90,117.00" stroke="#444" stroke-width="1.0"/>
<path d="M118.10,113.80L118.10,117.00" stroke="#444" stroke-width="1.0"/>
<path d="M74.28,113.80L74.28,116.40" stroke="#777" stroke-width="0.6"/>
<path d="M77.13,113.80L77.13,116.40" stroke="#777" stroke-width="0.6"/>
<path d="M79.15,113.80L79.15,116.40" stroke="#777" stroke-width="0.6"/>
<path d="M80.72,113.80L80.72,116.40" stroke="#777" stroke-width="0.6"/>
<path d="M82.01,113.80L82.01,116.40" stroke="#777" stroke-width="0.6"/>
<path d="M83.09,113.80L83.09,116.40" stroke="#777" stroke-width="0.6"/>
<path d="M84.03,113.80L84.03,116.40" stroke="#777" stroke-width="0.6"/>
<path d="M84.86,113.80L84.86,116.40" stroke="#777" stroke-width="0.6"/>
<path d="M90.51,113.80L90.51,116.40" stroke="#777" stroke-width="0.6"/>
<path d="M93.38,113.80L93.38,116.40" stroke="#777" stroke-width="0.6"/>
<path d="M95.41,113.80L95.41,116.40" stroke="#777" stroke-width="0.6"/>
<path d="M96.99,113.80L96.99,116.40" stroke="#777" stroke-width="0.6"/>
<path d="M98.28,113.80L98.28,116.40" stroke="#777" stroke-width="0.6"/>
<path d="M99.38,113.80L99.38,116.40" stroke="#777" stroke-width="0.6"/>
<path d="M100.32,113.80L100.32,116.40" stroke="#777" stroke-width="0.6"/>
<path d="M101.15,113.80L101.15,116.40" stroke="#777" stroke-width="0.6"/>
<path d="M106.78,113.80L106.78,116.40" stroke="#777" stroke-width="0.6"/>
<path d="M109.63,113.80L109.63,116.40" stroke="#777" stroke-width="0.6"/>
<path d="M111.65,113.80L111.65,116.40" stroke="#777" stroke-width="0.6"/>
<path d="M113.22,113.80L113.22,116.40" stroke="#777" stroke-width="0.6"/>
<path d="M114.51,113.80L114.51,116.40" stroke="#777" stroke-width="0.6"/>
<path d="M115.59,113.80L115.59,116.40" stroke="#777" stroke-width="0.6"/>
<path d="M116.53,113.80L116.53,116.40" stroke="#777" stroke-width="0.6"/>
<path d="M117.36,113.80L117.36,116.40" stroke="#777" stroke-width="0.6"/>
<path d="M56.30,113.80L56.30,116.40" stroke="#666" stroke-width="0.7"/>
<path d="M59.80,113.80L59.80,116.40" stroke="#666" stroke-width="0.7"/>
<path d="M66.20,113.80L66.20,116.40" stroke="#666" stroke-width="0.7"/>
<path d="M67.60,113.80L67.60,116.40" stroke="#666" stroke-width="0.7"/>
<text transform="translate(49.70,55.90) scale(1.14,1)" font-size="5.5" text-anchor="end" fill="#1e1e1e">10<tspan font-size="3.9" dy="-2.3">5</tspan></text>
<text transform="translate(49.70,70.40) scale(1.14,1)" font-size="5.5" text-anchor="end" fill="#1e1e1e">10<tspan font-size="3.9" dy="-2.3">4</tspan></text>
<text transform="translate(49.70,85.20) scale(1.14,1)" font-size="5.5" text-anchor="end" fill="#1e1e1e">10<tspan font-size="3.9" dy="-2.3">3</tspan></text>
<text transform="translate(49.70,101.40) scale(1.14,1)" font-size="5.5" text-anchor="end" fill="#1e1e1e">10<tspan font-size="3.9" dy="-2.3">2</tspan></text>
<text transform="translate(49.10,110.50) scale(1.14,1)" font-size="5.5" text-anchor="end" fill="#1e1e1e">0</text>
<text transform="translate(62.80,125.10) scale(1.14,1)" font-size="5.5" fill="#1e1e1e">0</text>
<text transform="translate(65.40,125.10) scale(1.14,1)" font-size="5.5" text-anchor="start" fill="#1e1e1e">10<tspan font-size="3.9" dy="-2.3">2</tspan></text>
<text transform="translate(80.40,125.10) scale(1.14,1)" font-size="5.5" text-anchor="start" fill="#1e1e1e">10<tspan font-size="3.9" dy="-2.3">3</tspan></text>
<text transform="translate(97.90,125.10) scale(1.14,1)" font-size="5.5" text-anchor="start" fill="#1e1e1e">10<tspan font-size="3.9" dy="-2.3">4</tspan></text>
<text transform="translate(114.20,125.10) scale(1.14,1)" font-size="5.5" text-anchor="start" fill="#1e1e1e">10<tspan font-size="3.9" dy="-2.3">5</tspan></text>
<text transform="translate(83.00,70.50) scale(1.08,1.0)" font-size="5.8" text-anchor="start" fill="#1c1c1c" stroke="#1c1c1c" stroke-width="0.2">Q1</text>
<text transform="translate(105.40,70.50) scale(1.08,1.0)" font-size="5.8" text-anchor="start" fill="#1c1c1c" stroke="#1c1c1c" stroke-width="0.2">Q2</text>
<text transform="translate(105.90,87.50) scale(1.08,1.0)" font-size="5.8" text-anchor="start" fill="#1c1c1c" stroke="#1c1c1c" stroke-width="0.2">Q4</text>
<text transform="translate(83.00,87.50) scale(1.08,1.0)" font-size="5.8" text-anchor="start" fill="#1a3d1c" stroke="#1a3d1c" stroke-width="0.2">Q3</text>
<text transform="translate(123.10,57.30)" font-size="8.0" text-anchor="end" fill="#1c1c1c" stroke="#1c1c1c" stroke-width="0.2">2.0%</text>
<path d="M34.20,112.50L34.20,132.70" stroke="#1a1a1a" stroke-width="1.0"/>
<path d="M34.20,132.70L51.30,132.70" stroke="#1a1a1a" stroke-width="1.0"/>
<path d="M32.00,113.90L34.20,109.50L36.40,113.90Z" fill="#1a1a1a"/>
<path d="M49.20,130.60L53.60,132.70L49.20,134.80Z" fill="#1a1a1a"/>
<text transform="translate(56.80,135.40) scale(0.77,1.05)" font-size="7.0" text-anchor="start" font-weight="bold" fill="#222">H3Cit-alexa488</text>
<text transform="translate(36.10,94.30) rotate(-90) scale(0.98,1.18)" font-size="6.0" text-anchor="middle" font-weight="bold" fill="#222">MP0-PE</text>
<path d="M164.40,113.00V47.80H235.30V113.00" fill="none" stroke="#8a8a8a" stroke-width="1.1"/>
<path d="M164.40,47.80L164.40,113.00" stroke="#6a6a6a" stroke-width="1.1"/>
<path d="M164.40,113.00L235.30,113.00" stroke="#6a6a6a" stroke-width="1.1"/>
<path d="M209.20,47.80L209.20,113.00" stroke="#666" stroke-width="1.0"/>
<path d="M164.40,78.20L235.30,78.20" stroke="#666" stroke-width="1.0"/>
<path d="M180.0,110.0L180.0,110.0L190.0,111.5L190.0,111.5L190.0,111.5L198.0,108.0L198.0,108.0L198.0,108.0L203.0,102.0L203.0,102.0L203.0,102.0L202.0,96.0L202.0,96.0L202.0,96.0L196.0,95.0L196.0,95.0L196.0,95.0L189.0,98.0L189.0,98.0L189.0,98.0L183.0,104.0L183.0,104.0L183.0,104.0L180.0,110.0L180.0,110.0Z" fill="#9ccc9c" opacity="0.45"/><path d="M189.3 98.6h0.8v0.8h-0.8zM204.5 93.1h0.8v0.8h-0.8zM202.3 95.3h0.8v0.8h-0.8zM190.0 96.8h0.8v0.8h-0.8zM191.5 93.8h0.8v0.8h-0.8zM195.6 101.4h0.8v0.8h-0.8zM200.8 98.0h0.8v0.8h-0.8zM199.9 74.4h0.8v0.8h-0.8zM213.7 68.1h0.8v0.8h-0.8zM189.0 100.6h0.8v0.8h-0.8zM201.2 96.7h0.8v0.8h-0.8zM190.8 96.3h0.8v0.8h-0.8zM189.9 98.7h0.8v0.8h-0.8zM211.0 80.6h0.8v0.8h-0.8zM219.6 70.4h0.8v0.8h-0.8zM192.9 101.6h0.8v0.8h-0.8zM190.1 101.1h0.8v0.8h-0.8zM194.6 82.9h0.8v0.8h-0.8zM208.5 82.9h0.8v0.8h-0.8zM209.3 82.7h0.8v0.8h-0.8zM218.0 72.3h0.8v0.8h-0.8zM194.9 101.5h0.8v0.8h-0.8zM201.1 97.3h0.8v0.8h-0.8zM199.3 99.5h0.8v0.8h-0.8zM211.0 78.3h0.8v0.8h-0.8zM191.4 101.4h0.8v0.8h-0.8zM198.0 101.4h0.8v0.8h-0.8zM216.6 73.0h0.8v0.8h-0.8zM194.9 84.3h0.8v0.8h-0.8zM192.9 102.6h0.8v0.8h-0.8zM200.3 99.1h0.8v0.8h-0.8zM191.8 93.6h0.8v0.8h-0.8zM199.5 98.1h0.8v0.8h-0.8zM197.8 76.3h0.8v0.8h-0.8zM211.3 77.3h0.8v0.8h-0.8zM191.1 95.5h0.8v0.8h-0.8zM219.5 67.5h0.8v0.8h-0.8zM214.5 74.3h0.8v0.8h-0.8zM217.2 67.1h0.8v0.8h-0.8zM202.3 72.8h0.8v0.8h-0.8zM189.0 98.6h0.8v0.8h-0.8zM214.7 75.3h0.8v0.8h-0.8zM211.3 78.6h0.8v0.8h-0.8zM190.0 96.9h0.8v0.8h-0.8zM203.8 94.2h0.8v0.8h-0.8zM207.1 86.9h0.8v0.8h-0.8zM201.4 73.4h0.8v0.8h-0.8zM214.0 74.2h0.8v0.8h-0.8zM214.7 74.3h0.8v0.8h-0.8zM217.5 71.9h0.8v0.8h-0.8zM202.5 71.8h0.8v0.8h-0.8zM198.5 100.5h0.8v0.8h-0.8zM210.3 78.6h0.8v0.8h-0.8zM212.8 75.2h0.8v0.8h-0.8zM198.6 75.0h0.8v0.8h-0.8zM211.8 76.4h0.8v0.8h-0.8zM217.2 74.1h0.8v0.8h-0.8zM208.7 81.1h0.8v0.8h-0.8zM203.0 93.5h0.8v0.8h-0.8zM215.3 66.6h0.8v0.8h-0.8zM203.3 92.3h0.8v0.8h-0.8zM196.4 78.4h0.8v0.8h-0.8zM205.5 69.7h0.8v0.8h-0.8zM199.1 74.9h0.8v0.8h-0.8zM209.9 81.3h0.8v0.8h-0.8zM215.6 68.1h0.8v0.8h-0.8zM208.7 68.9h0.8v0.8h-0.8zM218.0 72.6h0.8v0.8h-0.8zM203.9 93.8h0.8v0.8h-0.8zM194.4 81.9h0.8v0.8h-0.8zM215.7 74.1h0.8v0.8h-0.8zM192.9 101.2h0.8v0.8h-0.8zM190.5 92.3h0.8v0.8h-0.8zM189.9 96.9h0.8v0.8h-0.8zM217.4 71.7h0.8v0.8h-0.8zM201.0 99.4h0.8v0.8h-0.8zM196.8 76.3h0.8v0.8h-0.8zM216.4 66.2h0.8v0.8h-0.8zM205.6 70.2h0.8v0.8h-0.8zM200.4 75.2h0.8v0.8h-0.8zM194.9 79.3h0.8v0.8h-0.8zM198.3 101.7h0.8v0.8h-0.8zM188.7 99.7h0.8v0.8h-0.8zM216.1 72.7h0.8v0.8h-0.8zM217.5 65.9h0.8v0.8h-0.8zM199.1 99.4h0.8v0.8h-0.8zM191.8 94.0h0.8v0.8h-0.8zM190.0 94.2h0.8v0.8h-0.8zM200.3 97.6h0.8v0.8h-0.8zM217.6 67.5h0.8v0.8h-0.8zM196.3 79.1h0.8v0.8h-0.8zM202.5 94.5h0.8v0.8h-0.8zM214.5 75.8h0.8v0.8h-0.8zM208.9 82.3h0.8v0.8h-0.8zM214.3 75.1h0.8v0.8h-0.8zM212.4 76.5h0.8v0.8h-0.8zM190.7 91.3h0.8v0.8h-0.8zM213.7 76.3h0.8v0.8h-0.8zM204.4 89.5h0.8v0.8h-0.8zM203.5 91.0h0.8v0.8h-0.8zM197.8 100.0h0.8v0.8h-0.8zM211.4 80.2h0.8v0.8h-0.8zM204.1 91.5h0.8v0.8h-0.8zM217.2 73.3h0.8v0.8h-0.8zM190.6 99.6h0.8v0.8h-0.8zM192.3 89.2h0.8v0.8h-0.8zM218.9 72.0h0.8v0.8h-0.8zM195.4 82.8h0.8v0.8h-0.8zM190.8 90.7h0.8v0.8h-0.8zM194.7 102.1h0.8v0.8h-0.8zM190.2 104.7h0.8v0.8h-0.8zM196.8 102.6h0.8v0.8h-0.8zM194.6 102.4h0.8v0.8h-0.8zM190.2 107.0h0.8v0.8h-0.8zM193.5 108.4h0.8v0.8h-0.8zM183.8 109.1h0.8v0.8h-0.8zM188.6 109.6h0.8v0.8h-0.8zM189.1 102.5h0.8v0.8h-0.8zM183.0 104.2h0.8v0.8h-0.8zM191.3 99.0h0.8v0.8h-0.8zM195.4 95.0h0.8v0.8h-0.8zM190.2 104.3h0.8v0.8h-0.8zM192.2 101.9h0.8v0.8h-0.8zM200.7 99.7h0.8v0.8h-0.8zM189.0 107.7h0.8v0.8h-0.8zM199.6 104.0h0.8v0.8h-0.8zM189.8 104.2h0.8v0.8h-0.8zM188.5 110.6h0.8v0.8h-0.8zM182.3 108.2h0.8v0.8h-0.8zM193.8 110.0h0.8v0.8h-0.8zM202.5 100.6h0.8v0.8h-0.8zM191.8 97.2h0.8v0.8h-0.8zM185.7 102.0h0.8v0.8h-0.8zM197.3 104.0h0.8v0.8h-0.8zM199.8 102.3h0.8v0.8h-0.8zM187.6 106.1h0.8v0.8h-0.8zM192.6 108.9h0.8v0.8h-0.8zM188.1 100.1h0.8v0.8h-0.8zM196.4 101.9h0.8v0.8h-0.8zM192.9 105.5h0.8v0.8h-0.8zM190.1 110.4h0.8v0.8h-0.8zM196.1 107.7h0.8v0.8h-0.8zM190.0 103.5h0.8v0.8h-0.8zM184.0 106.7h0.8v0.8h-0.8zM191.6 97.4h0.8v0.8h-0.8zM198.5 101.3h0.8v0.8h-0.8zM194.9 100.7h0.8v0.8h-0.8zM195.4 104.1h0.8v0.8h-0.8zM193.3 108.1h0.8v0.8h-0.8zM197.0 100.0h0.8v0.8h-0.8zM192.3 102.1h0.8v0.8h-0.8zM192.5 96.8h0.8v0.8h-0.8zM194.5 105.4h0.8v0.8h-0.8zM197.6 105.2h0.8v0.8h-0.8zM186.6 108.2h0.8v0.8h-0.8zM197.7 100.1h0.8v0.8h-0.8zM194.6 106.7h0.8v0.8h-0.8zM194.3 105.7h0.8v0.8h-0.8zM193.3 101.6h0.8v0.8h-0.8zM193.9 108.5h0.8v0.8h-0.8zM198.2 103.1h0.8v0.8h-0.8zM181.8 109.5h0.8v0.8h-0.8zM190.3 103.0h0.8v0.8h-0.8zM188.1 107.1h0.8v0.8h-0.8zM185.2 104.4h0.8v0.8h-0.8zM191.4 102.4h0.8v0.8h-0.8zM182.8 109.0h0.8v0.8h-0.8zM198.3 102.2h0.8v0.8h-0.8zM187.7 100.3h0.8v0.8h-0.8zM192.6 102.6h0.8v0.8h-0.8zM186.6 105.3h0.8v0.8h-0.8zM196.0 96.6h0.8v0.8h-0.8zM198.0 106.0h0.8v0.8h-0.8zM184.2 102.7h0.8v0.8h-0.8zM195.9 105.4h0.8v0.8h-0.8zM198.5 100.8h0.8v0.8h-0.8zM186.3 109.2h0.8v0.8h-0.8zM196.6 95.6h0.8v0.8h-0.8zM198.9 105.6h0.8v0.8h-0.8zM188.6 103.3h0.8v0.8h-0.8zM198.4 103.0h0.8v0.8h-0.8zM193.3 109.0h0.8v0.8h-0.8zM196.8 98.5h0.8v0.8h-0.8zM195.2 97.0h0.8v0.8h-0.8zM191.4 103.7h0.8v0.8h-0.8zM189.8 111.1h0.8v0.8h-0.8zM200.1 99.9h0.8v0.8h-0.8zM184.5 102.9h0.8v0.8h-0.8zM187.7 101.9h0.8v0.8h-0.8zM187.4 107.5h0.8v0.8h-0.8zM198.8 104.6h0.8v0.8h-0.8zM183.5 108.8h0.8v0.8h-0.8zM199.6 96.8h0.8v0.8h-0.8zM194.7 104.6h0.8v0.8h-0.8zM197.2 99.4h0.8v0.8h-0.8zM200.5 96.5h0.8v0.8h-0.8zM203.0 100.4h0.8v0.8h-0.8zM203.0 102.0h0.8v0.8h-0.8zM194.7 108.1h0.8v0.8h-0.8zM190.7 99.2h0.8v0.8h-0.8z" fill="#86c286" opacity="0.75"/><path d="M191.2,100.4L195.8,100.8L199.8,97.1L204.4,88.1L204.4,88.1L210.3,76.8L210.4,76.7L210.5,76.6L210.6,76.5L210.7,76.4L216.9,71.0L217.7,69.2L216.8,68.3L212.2,69.2L206.4,72.0L198.6,77.5L193.7,88.6L191.4,97.6L191.2,100.4Z" fill="#287c2f"/><path d="M197.6 77.5h0.9v0.9h-0.9zM206.2 72.4h0.9v0.9h-0.9zM202.5 90.4h0.9v0.9h-0.9zM203.6 91.2h0.9v0.9h-0.9zM208.6 81.3h0.9v0.9h-0.9zM204.9 87.8h0.9v0.9h-0.9zM210.0 78.9h0.9v0.9h-0.9zM201.8 74.0h0.9v0.9h-0.9zM207.4 71.1h0.9v0.9h-0.9zM190.7 96.1h0.9v0.9h-0.9zM204.1 88.7h0.9v0.9h-0.9zM203.2 90.4h0.9v0.9h-0.9zM212.9 69.0h0.9v0.9h-0.9zM207.9 80.5h0.9v0.9h-0.9zM217.8 68.7h0.9v0.9h-0.9zM193.5 100.8h0.9v0.9h-0.9zM208.5 79.7h0.9v0.9h-0.9zM210.1 70.2h0.9v0.9h-0.9zM203.6 87.6h0.9v0.9h-0.9zM197.6 81.8h0.9v0.9h-0.9zM192.0 95.9h0.9v0.9h-0.9zM217.7 67.6h0.9v0.9h-0.9zM210.6 75.4h0.9v0.9h-0.9zM192.3 93.0h0.9v0.9h-0.9zM195.6 83.6h0.9v0.9h-0.9zM207.3 82.3h0.9v0.9h-0.9zM196.4 99.8h0.9v0.9h-0.9zM200.1 96.6h0.9v0.9h-0.9zM202.8 91.8h0.9v0.9h-0.9zM210.9 70.8h0.9v0.9h-0.9zM203.9 90.0h0.9v0.9h-0.9zM203.1 92.2h0.9v0.9h-0.9zM200.7 75.6h0.9v0.9h-0.9zM192.8 92.5h0.9v0.9h-0.9zM201.9 94.2h0.9v0.9h-0.9zM207.6 72.1h0.9v0.9h-0.9zM207.9 71.7h0.9v0.9h-0.9zM190.5 98.6h0.9v0.9h-0.9zM209.9 70.8h0.9v0.9h-0.9zM196.4 82.9h0.9v0.9h-0.9zM208.7 70.4h0.9v0.9h-0.9zM200.8 76.2h0.9v0.9h-0.9zM202.3 91.7h0.9v0.9h-0.9zM211.1 76.9h0.9v0.9h-0.9zM195.9 85.1h0.9v0.9h-0.9zM209.2 70.0h0.9v0.9h-0.9zM194.1 99.9h0.9v0.9h-0.9zM192.9 95.3h0.9v0.9h-0.9zM199.3 77.2h0.9v0.9h-0.9zM209.4 76.8h0.9v0.9h-0.9zM216.2 71.1h0.9v0.9h-0.9zM206.5 82.1h0.9v0.9h-0.9zM214.9 68.2h0.9v0.9h-0.9zM205.1 72.8h0.9v0.9h-0.9zM190.2 99.8h0.9v0.9h-0.9zM194.2 100.0h0.9v0.9h-0.9zM210.0 70.5h0.9v0.9h-0.9zM193.3 87.6h0.9v0.9h-0.9zM195.5 82.7h0.9v0.9h-0.9zM207.4 71.0h0.9v0.9h-0.9zM191.4 94.5h0.9v0.9h-0.9zM204.2 90.7h0.9v0.9h-0.9zM195.6 101.4h0.9v0.9h-0.9zM194.3 86.9h0.9v0.9h-0.9zM200.9 76.2h0.9v0.9h-0.9zM208.2 82.0h0.9v0.9h-0.9zM194.5 89.0h0.9v0.9h-0.9zM197.5 81.0h0.9v0.9h-0.9zM208.5 81.7h0.9v0.9h-0.9zM197.5 99.3h0.9v0.9h-0.9zM193.9 91.0h0.9v0.9h-0.9zM201.2 95.3h0.9v0.9h-0.9zM207.7 71.0h0.9v0.9h-0.9zM198.1 79.4h0.9v0.9h-0.9zM192.4 99.9h0.9v0.9h-0.9zM215.2 71.8h0.9v0.9h-0.9zM195.1 85.1h0.9v0.9h-0.9zM195.8 84.9h0.9v0.9h-0.9zM216.6 71.2h0.9v0.9h-0.9zM194.5 84.4h0.9v0.9h-0.9zM201.7 75.4h0.9v0.9h-0.9zM209.1 81.4h0.9v0.9h-0.9zM214.9 73.9h0.9v0.9h-0.9zM217.4 71.5h0.9v0.9h-0.9zM195.6 81.5h0.9v0.9h-0.9zM209.7 79.7h0.9v0.9h-0.9zM197.7 99.3h0.9v0.9h-0.9zM206.3 86.3h0.9v0.9h-0.9zM204.6 72.4h0.9v0.9h-0.9zM213.0 74.6h0.9v0.9h-0.9zM203.1 74.9h0.9v0.9h-0.9zM203.5 73.6h0.9v0.9h-0.9zM206.1 87.0h0.9v0.9h-0.9zM194.1 86.5h0.9v0.9h-0.9zM207.5 82.1h0.9v0.9h-0.9zM200.1 75.4h0.9v0.9h-0.9zM196.0 101.4h0.9v0.9h-0.9zM191.0 99.0h0.9v0.9h-0.9zM194.0 86.8h0.9v0.9h-0.9zM211.2 68.8h0.9v0.9h-0.9zM205.6 84.0h0.9v0.9h-0.9zM212.0 74.7h0.9v0.9h-0.9zM202.0 93.4h0.9v0.9h-0.9zM190.5 99.1h0.9v0.9h-0.9zM201.2 92.5h0.9v0.9h-0.9zM211.4 75.2h0.9v0.9h-0.9zM191.6 92.5h0.9v0.9h-0.9zM191.5 99.1h0.9v0.9h-0.9zM199.3 97.0h0.9v0.9h-0.9zM190.9 99.3h0.9v0.9h-0.9zM190.7 99.3h0.9v0.9h-0.9zM203.2 73.6h0.9v0.9h-0.9zM206.8 85.2h0.9v0.9h-0.9zM197.1 99.0h0.9v0.9h-0.9zM193.5 89.9h0.9v0.9h-0.9zM197.1 98.4h0.9v0.9h-0.9zM207.2 82.4h0.9v0.9h-0.9zM215.8 67.7h0.9v0.9h-0.9zM205.3 88.5h0.9v0.9h-0.9zM198.9 98.8h0.9v0.9h-0.9zM214.3 74.6h0.9v0.9h-0.9zM209.7 69.8h0.9v0.9h-0.9zM212.5 69.5h0.9v0.9h-0.9zM202.8 93.0h0.9v0.9h-0.9zM217.4 71.0h0.9v0.9h-0.9zM209.2 80.1h0.9v0.9h-0.9zM201.3 75.3h0.9v0.9h-0.9zM207.6 80.2h0.9v0.9h-0.9zM214.8 73.3h0.9v0.9h-0.9zM210.1 69.4h0.9v0.9h-0.9zM199.4 97.5h0.9v0.9h-0.9zM193.8 100.2h0.9v0.9h-0.9zM190.7 96.6h0.9v0.9h-0.9zM192.8 99.5h0.9v0.9h-0.9zM214.8 71.8h0.9v0.9h-0.9zM203.3 88.6h0.9v0.9h-0.9zM202.5 91.3h0.9v0.9h-0.9zM194.4 101.3h0.9v0.9h-0.9zM198.0 99.8h0.9v0.9h-0.9zM193.2 100.3h0.9v0.9h-0.9zM196.3 82.4h0.9v0.9h-0.9zM193.2 89.7h0.9v0.9h-0.9zM193.2 90.9h0.9v0.9h-0.9zM216.0 71.1h0.9v0.9h-0.9zM200.2 76.9h0.9v0.9h-0.9zM211.1 76.2h0.9v0.9h-0.9zM201.2 92.5h0.9v0.9h-0.9zM205.7 86.7h0.9v0.9h-0.9zM192.0 94.3h0.9v0.9h-0.9zM194.3 100.5h0.9v0.9h-0.9zM191.0 97.3h0.9v0.9h-0.9zM208.7 79.6h0.9v0.9h-0.9zM216.3 72.6h0.9v0.9h-0.9zM212.0 75.3h0.9v0.9h-0.9zM196.7 79.2h0.9v0.9h-0.9zM209.3 79.1h0.9v0.9h-0.9zM211.7 69.0h0.9v0.9h-0.9zM205.8 85.8h0.9v0.9h-0.9zM194.0 91.1h0.9v0.9h-0.9zM198.9 76.3h0.9v0.9h-0.9zM213.6 75.2h0.9v0.9h-0.9zM204.2 72.8h0.9v0.9h-0.9zM200.8 96.4h0.9v0.9h-0.9zM210.3 75.5h0.9v0.9h-0.9zM207.6 72.4h0.9v0.9h-0.9zM205.1 86.3h0.9v0.9h-0.9zM201.7 74.0h0.9v0.9h-0.9zM206.6 71.5h0.9v0.9h-0.9zM195.6 82.2h0.9v0.9h-0.9zM199.9 76.1h0.9v0.9h-0.9zM206.4 71.7h0.9v0.9h-0.9zM200.5 94.0h0.9v0.9h-0.9zM206.0 86.7h0.9v0.9h-0.9zM191.9 91.5h0.9v0.9h-0.9zM192.0 95.9h0.9v0.9h-0.9zM196.9 79.3h0.9v0.9h-0.9zM214.3 72.3h0.9v0.9h-0.9zM193.2 92.1h0.9v0.9h-0.9zM197.8 78.3h0.9v0.9h-0.9zM210.4 69.2h0.9v0.9h-0.9zM216.5 72.5h0.9v0.9h-0.9zM196.1 83.2h0.9v0.9h-0.9zM209.8 77.6h0.9v0.9h-0.9zM209.2 77.0h0.9v0.9h-0.9zM194.0 86.2h0.9v0.9h-0.9zM205.8 87.1h0.9v0.9h-0.9zM192.5 100.5h0.9v0.9h-0.9zM203.0 89.9h0.9v0.9h-0.9zM197.0 80.2h0.9v0.9h-0.9zM209.9 77.2h0.9v0.9h-0.9zM195.8 81.0h0.9v0.9h-0.9zM215.2 69.1h0.9v0.9h-0.9zM197.4 99.8h0.9v0.9h-0.9zM206.3 71.6h0.9v0.9h-0.9zM201.2 93.8h0.9v0.9h-0.9zM200.6 94.2h0.9v0.9h-0.9zM194.7 86.9h0.9v0.9h-0.9zM205.0 86.4h0.9v0.9h-0.9zM215.8 69.1h0.9v0.9h-0.9zM211.4 69.1h0.9v0.9h-0.9zM185.1 105.0h0.9v0.9h-0.9zM196.8 106.1h0.9v0.9h-0.9zM189.7 108.0h0.9v0.9h-0.9zM202.6 101.9h0.9v0.9h-0.9zM194.2 98.1h0.9v0.9h-0.9zM196.8 98.1h0.9v0.9h-0.9zM200.9 97.1h0.9v0.9h-0.9zM195.8 108.5h0.9v0.9h-0.9zM182.5 109.5h0.9v0.9h-0.9zM194.5 96.8h0.9v0.9h-0.9zM190.7 109.6h0.9v0.9h-0.9zM199.2 99.3h0.9v0.9h-0.9zM202.5 98.3h0.9v0.9h-0.9zM195.3 108.7h0.9v0.9h-0.9zM189.9 103.2h0.9v0.9h-0.9zM194.9 107.6h0.9v0.9h-0.9zM183.6 108.5h0.9v0.9h-0.9zM191.3 104.0h0.9v0.9h-0.9zM199.4 96.5h0.9v0.9h-0.9zM194.0 103.4h0.9v0.9h-0.9zM195.9 96.2h0.9v0.9h-0.9zM200.0 101.0h0.9v0.9h-0.9zM195.2 100.2h0.9v0.9h-0.9zM200.2 100.3h0.9v0.9h-0.9zM194.4 107.9h0.9v0.9h-0.9zM190.1 106.3h0.9v0.9h-0.9zM192.2 109.4h0.9v0.9h-0.9zM190.2 102.3h0.9v0.9h-0.9zM198.6 96.2h0.9v0.9h-0.9zM195.1 99.2h0.9v0.9h-0.9zM191.3 98.7h0.9v0.9h-0.9zM181.3 107.6h0.9v0.9h-0.9zM182.0 107.0h0.9v0.9h-0.9zM199.3 100.0h0.9v0.9h-0.9zM201.8 96.8h0.9v0.9h-0.9zM199.9 103.1h0.9v0.9h-0.9zM194.5 103.9h0.9v0.9h-0.9zM188.2 109.2h0.9v0.9h-0.9zM195.2 97.4h0.9v0.9h-0.9zM194.7 102.7h0.9v0.9h-0.9zM197.5 107.2h0.9v0.9h-0.9zM190.0 104.3h0.9v0.9h-0.9zM186.9 109.7h0.9v0.9h-0.9zM190.1 101.7h0.9v0.9h-0.9zM189.5 100.9h0.9v0.9h-0.9zM182.9 108.4h0.9v0.9h-0.9zM201.7 101.7h0.9v0.9h-0.9zM192.7 99.6h0.9v0.9h-0.9zM200.9 102.3h0.9v0.9h-0.9zM199.0 105.2h0.9v0.9h-0.9zM192.8 109.0h0.9v0.9h-0.9zM191.9 106.4h0.9v0.9h-0.9zM197.4 95.4h0.9v0.9h-0.9zM188.2 107.5h0.9v0.9h-0.9zM180.0 109.8h0.9v0.9h-0.9zM191.8 106.4h0.9v0.9h-0.9zM189.8 98.3h0.9v0.9h-0.9zM182.1 108.3h0.9v0.9h-0.9zM193.6 109.6h0.9v0.9h-0.9zM191.9 106.6h0.9v0.9h-0.9zM181.6 109.4h0.9v0.9h-0.9zM186.7 105.6h0.9v0.9h-0.9zM189.9 106.8h0.9v0.9h-0.9zM190.5 111.5h0.9v0.9h-0.9zM188.9 101.9h0.9v0.9h-0.9zM196.9 95.3h0.9v0.9h-0.9zM197.4 103.2h0.9v0.9h-0.9zM182.5 109.8h0.9v0.9h-0.9zM191.1 98.3h0.9v0.9h-0.9zM184.9 110.2h0.9v0.9h-0.9zM197.3 98.4h0.9v0.9h-0.9zM199.3 105.8h0.9v0.9h-0.9zM184.6 110.1h0.9v0.9h-0.9zM189.0 110.1h0.9v0.9h-0.9zM200.5 98.0h0.9v0.9h-0.9zM194.8 101.0h0.9v0.9h-0.9zM190.8 96.9h0.9v0.9h-0.9zM195.6 103.1h0.9v0.9h-0.9zM184.7 105.0h0.9v0.9h-0.9zM193.1 96.0h0.9v0.9h-0.9zM192.4 106.5h0.9v0.9h-0.9zM194.6 98.3h0.9v0.9h-0.9zM184.8 110.0h0.9v0.9h-0.9zM186.0 108.3h0.9v0.9h-0.9zM196.2 96.0h0.9v0.9h-0.9zM186.4 101.6h0.9v0.9h-0.9zM195.3 96.3h0.9v0.9h-0.9zM196.4 96.2h0.9v0.9h-0.9zM184.2 104.5h0.9v0.9h-0.9zM195.4 96.1h0.9v0.9h-0.9zM191.1 108.6h0.9v0.9h-0.9zM192.8 99.9h0.9v0.9h-0.9zM197.3 103.0h0.9v0.9h-0.9zM189.8 105.8h0.9v0.9h-0.9zM195.9 108.4h0.9v0.9h-0.9zM193.9 98.5h0.9v0.9h-0.9zM201.8 96.6h0.9v0.9h-0.9zM199.5 102.0h0.9v0.9h-0.9zM186.0 110.3h0.9v0.9h-0.9zM198.5 98.1h0.9v0.9h-0.9zM195.6 96.1h0.9v0.9h-0.9zM187.9 99.6h0.9v0.9h-0.9zM199.5 96.2h0.9v0.9h-0.9zM193.5 102.1h0.9v0.9h-0.9zM199.2 99.9h0.9v0.9h-0.9zM186.5 102.1h0.9v0.9h-0.9zM201.1 100.5h0.9v0.9h-0.9zM198.8 99.0h0.9v0.9h-0.9zM189.9 110.8h0.9v0.9h-0.9zM185.7 105.0h0.9v0.9h-0.9zM190.3 97.5h0.9v0.9h-0.9zM193.2 96.4h0.9v0.9h-0.9zM185.8 107.5h0.9v0.9h-0.9zM186.2 105.4h0.9v0.9h-0.9zM201.0 99.1h0.9v0.9h-0.9zM198.0 106.3h0.9v0.9h-0.9zM186.1 106.5h0.9v0.9h-0.9zM189.3 106.5h0.9v0.9h-0.9zM189.7 100.0h0.9v0.9h-0.9zM187.3 110.4h0.9v0.9h-0.9z" fill="#1c6523"/><path d="M203.7 75.2h1.0v1.0h-1.0zM197.4 89.5h1.0v1.0h-1.0zM203.8 75.6h1.0v1.0h-1.0zM207.1 79.7h1.0v1.0h-1.0zM213.5 71.1h1.0v1.0h-1.0zM198.5 96.6h1.0v1.0h-1.0zM197.6 87.3h1.0v1.0h-1.0zM196.3 96.5h1.0v1.0h-1.0zM208.5 74.2h1.0v1.0h-1.0zM210.6 73.7h1.0v1.0h-1.0zM204.7 80.3h1.0v1.0h-1.0zM197.9 85.1h1.0v1.0h-1.0zM195.9 96.9h1.0v1.0h-1.0zM198.4 96.6h1.0v1.0h-1.0zM216.0 69.6h1.0v1.0h-1.0zM213.8 70.8h1.0v1.0h-1.0zM208.4 72.0h1.0v1.0h-1.0zM200.1 90.3h1.0v1.0h-1.0zM212.6 72.1h1.0v1.0h-1.0zM199.8 79.0h1.0v1.0h-1.0zM196.1 90.6h1.0v1.0h-1.0zM205.6 75.3h1.0v1.0h-1.0zM201.5 81.7h1.0v1.0h-1.0zM202.5 83.5h1.0v1.0h-1.0zM210.5 73.6h1.0v1.0h-1.0zM207.3 76.8h1.0v1.0h-1.0zM199.2 95.3h1.0v1.0h-1.0zM193.9 92.1h1.0v1.0h-1.0zM203.5 85.0h1.0v1.0h-1.0zM194.1 90.6h1.0v1.0h-1.0zM203.8 85.4h1.0v1.0h-1.0zM198.6 84.7h1.0v1.0h-1.0zM204.1 74.6h1.0v1.0h-1.0zM199.8 82.1h1.0v1.0h-1.0zM197.9 96.9h1.0v1.0h-1.0zM203.9 80.2h1.0v1.0h-1.0zM207.2 76.0h1.0v1.0h-1.0zM202.7 86.1h1.0v1.0h-1.0zM195.8 96.0h1.0v1.0h-1.0zM200.0 94.1h1.0v1.0h-1.0zM206.3 77.7h1.0v1.0h-1.0zM212.6 73.3h1.0v1.0h-1.0zM194.1 93.5h1.0v1.0h-1.0zM211.8 71.2h1.0v1.0h-1.0zM198.0 82.5h1.0v1.0h-1.0zM194.5 99.0h1.0v1.0h-1.0zM193.9 97.6h1.0v1.0h-1.0zM202.4 90.0h1.0v1.0h-1.0zM195.7 93.2h1.0v1.0h-1.0zM214.6 70.0h1.0v1.0h-1.0zM195.6 93.5h1.0v1.0h-1.0zM194.2 99.6h1.0v1.0h-1.0zM197.5 94.4h1.0v1.0h-1.0zM195.6 89.7h1.0v1.0h-1.0zM206.7 75.2h1.0v1.0h-1.0zM195.2 99.3h1.0v1.0h-1.0zM204.6 79.7h1.0v1.0h-1.0zM193.9 92.7h1.0v1.0h-1.0zM199.3 94.2h1.0v1.0h-1.0zM206.3 77.8h1.0v1.0h-1.0zM198.1 80.7h1.0v1.0h-1.0zM200.7 92.0h1.0v1.0h-1.0zM214.7 69.5h1.0v1.0h-1.0zM205.5 81.1h1.0v1.0h-1.0zM201.6 87.0h1.0v1.0h-1.0zM208.1 75.1h1.0v1.0h-1.0zM199.4 81.3h1.0v1.0h-1.0zM199.3 88.1h1.0v1.0h-1.0zM196.5 93.1h1.0v1.0h-1.0zM195.0 89.7h1.0v1.0h-1.0zM206.5 77.9h1.0v1.0h-1.0zM201.0 84.4h1.0v1.0h-1.0zM194.6 92.1h1.0v1.0h-1.0zM201.2 76.8h1.0v1.0h-1.0zM202.8 89.3h1.0v1.0h-1.0zM209.3 72.5h1.0v1.0h-1.0zM199.6 88.5h1.0v1.0h-1.0zM199.8 85.4h1.0v1.0h-1.0zM199.6 79.3h1.0v1.0h-1.0zM201.2 82.7h1.0v1.0h-1.0zM194.3 95.4h1.0v1.0h-1.0zM211.0 73.7h1.0v1.0h-1.0zM196.9 90.0h1.0v1.0h-1.0zM202.2 76.4h1.0v1.0h-1.0zM201.6 76.4h1.0v1.0h-1.0zM206.6 81.0h1.0v1.0h-1.0zM201.0 85.8h1.0v1.0h-1.0zM206.9 78.9h1.0v1.0h-1.0zM202.9 81.3h1.0v1.0h-1.0zM199.5 89.0h1.0v1.0h-1.0z" fill="#15521b" opacity="0.8"/><path d="M199.0 82.4h0.9v0.9h-0.9zM192.9 97.9h0.9v0.9h-0.9zM200.6 91.5h0.9v0.9h-0.9zM194.3 89.6h0.9v0.9h-0.9zM193.1 96.5h0.9v0.9h-0.9zM212.6 73.2h0.9v0.9h-0.9zM207.0 78.7h0.9v0.9h-0.9zM207.9 77.7h0.9v0.9h-0.9zM208.4 79.0h0.9v0.9h-0.9zM198.5 81.0h0.9v0.9h-0.9zM201.6 84.9h0.9v0.9h-0.9zM198.2 84.5h0.9v0.9h-0.9zM203.3 87.0h0.9v0.9h-0.9zM194.2 89.6h0.9v0.9h-0.9zM194.9 90.0h0.9v0.9h-0.9zM202.3 86.3h0.9v0.9h-0.9zM197.1 94.1h0.9v0.9h-0.9zM196.9 96.4h0.9v0.9h-0.9zM194.4 98.7h0.9v0.9h-0.9zM194.5 98.1h0.9v0.9h-0.9zM204.9 83.3h0.9v0.9h-0.9zM196.6 84.9h0.9v0.9h-0.9zM195.4 95.2h0.9v0.9h-0.9zM204.0 81.0h0.9v0.9h-0.9zM202.7 75.5h0.9v0.9h-0.9zM195.5 98.5h0.9v0.9h-0.9zM200.6 78.6h0.9v0.9h-0.9zM198.7 88.0h0.9v0.9h-0.9zM196.0 85.2h0.9v0.9h-0.9zM194.8 90.1h0.9v0.9h-0.9zM206.4 79.2h0.9v0.9h-0.9zM200.0 90.5h0.9v0.9h-0.9zM200.5 88.9h0.9v0.9h-0.9zM202.6 77.4h0.9v0.9h-0.9zM192.8 98.4h0.9v0.9h-0.9zM192.8 98.4h0.9v0.9h-0.9zM209.4 76.8h0.9v0.9h-0.9zM205.5 82.0h0.9v0.9h-0.9zM202.0 84.8h0.9v0.9h-0.9zM202.4 87.5h0.9v0.9h-0.9zM206.9 74.7h0.9v0.9h-0.9zM196.7 96.2h0.9v0.9h-0.9zM197.7 95.8h0.9v0.9h-0.9zM206.8 80.7h0.9v0.9h-0.9zM204.8 78.5h0.9v0.9h-0.9zM204.9 84.6h0.9v0.9h-0.9zM198.9 88.0h0.9v0.9h-0.9zM203.2 80.0h0.9v0.9h-0.9zM197.9 86.9h0.9v0.9h-0.9zM201.6 77.7h0.9v0.9h-0.9zM212.6 72.3h0.9v0.9h-0.9zM203.3 75.3h0.9v0.9h-0.9zM195.7 88.7h0.9v0.9h-0.9zM195.4 86.3h0.9v0.9h-0.9zM194.0 99.9h0.9v0.9h-0.9zM205.5 77.9h0.9v0.9h-0.9zM206.0 80.4h0.9v0.9h-0.9zM200.6 93.5h0.9v0.9h-0.9zM205.9 76.5h0.9v0.9h-0.9zM195.0 88.2h0.9v0.9h-0.9zM198.3 87.2h0.9v0.9h-0.9zM200.6 89.1h0.9v0.9h-0.9zM194.8 97.1h0.9v0.9h-0.9zM203.2 75.8h0.9v0.9h-0.9zM193.9 93.4h0.9v0.9h-0.9zM203.4 79.7h0.9v0.9h-0.9zM196.0 85.4h0.9v0.9h-0.9zM202.3 89.8h0.9v0.9h-0.9zM194.1 90.0h0.9v0.9h-0.9zM207.0 74.3h0.9v0.9h-0.9z" fill="#63aa63" opacity="0.8"/>
<path d="M161.40,53.75L164.40,53.75" stroke="#444" stroke-width="1.0"/>
<path d="M161.40,68.11L164.40,68.11" stroke="#444" stroke-width="1.0"/>
<path d="M161.40,82.78L164.40,82.78" stroke="#444" stroke-width="1.0"/>
<path d="M161.40,98.83L164.40,98.83" stroke="#444" stroke-width="1.0"/>
<path d="M161.40,107.55L164.40,107.55" stroke="#444" stroke-width="1.0"/>
<path d="M162.20,63.79L164.40,63.79" stroke="#777" stroke-width="0.6"/>
<path d="M162.20,61.26L164.40,61.26" stroke="#777" stroke-width="0.6"/>
<path d="M162.20,59.46L164.40,59.46" stroke="#777" stroke-width="0.6"/>
<path d="M162.20,58.07L164.40,58.07" stroke="#777" stroke-width="0.6"/>
<path d="M162.20,56.93L164.40,56.93" stroke="#777" stroke-width="0.6"/>
<path d="M162.20,55.97L164.40,55.97" stroke="#777" stroke-width="0.6"/>
<path d="M162.20,55.14L164.40,55.14" stroke="#777" stroke-width="0.6"/>
<path d="M162.20,54.40L164.40,54.40" stroke="#777" stroke-width="0.6"/>
<path d="M162.20,78.36L164.40,78.36" stroke="#777" stroke-width="0.6"/>
<path d="M162.20,75.78L164.40,75.78" stroke="#777" stroke-width="0.6"/>
<path d="M162.20,73.95L164.40,73.95" stroke="#777" stroke-width="0.6"/>
<path d="M162.20,72.53L164.40,72.53" stroke="#777" stroke-width="0.6"/>
<path d="M162.20,71.37L164.40,71.37" stroke="#777" stroke-width="0.6"/>
<path d="M162.20,70.38L164.40,70.38" stroke="#777" stroke-width="0.6"/>
<path d="M162.20,69.53L164.40,69.53" stroke="#777" stroke-width="0.6"/>
<path d="M162.20,68.78L164.40,68.78" stroke="#777" stroke-width="0.6"/>
<path d="M162.20,94.00L164.40,94.00" stroke="#777" stroke-width="0.6"/>
<path d="M162.20,91.17L164.40,91.17" stroke="#777" stroke-width="0.6"/>
<path d="M162.20,89.17L164.40,89.17" stroke="#777" stroke-width="0.6"/>
<path d="M162.20,87.61L164.40,87.61" stroke="#777" stroke-width="0.6"/>
<path d="M162.20,86.34L164.40,86.34" stroke="#777" stroke-width="0.6"/>
<path d="M162.20,85.26L164.40,85.26" stroke="#777" stroke-width="0.6"/>
<path d="M162.20,84.33L164.40,84.33" stroke="#777" stroke-width="0.6"/>
<path d="M162.20,83.51L164.40,83.51" stroke="#777" stroke-width="0.6"/>
<path d="M162.20,100.81L164.40,100.81" stroke="#777" stroke-width="0.6"/>
<path d="M162.20,102.79L164.40,102.79" stroke="#777" stroke-width="0.6"/>
<path d="M162.20,104.78L164.40,104.78" stroke="#777" stroke-width="0.6"/>
<path d="M162.20,110.03L164.40,110.03" stroke="#777" stroke-width="0.6"/>
<path d="M162.20,111.81L164.40,111.81" stroke="#777" stroke-width="0.6"/>
<path d="M174.37,113.00L174.37,116.20" stroke="#444" stroke-width="1.0"/>
<path d="M179.36,113.00L179.36,116.20" stroke="#444" stroke-width="1.0"/>
<path d="M195.51,113.00L195.51,116.20" stroke="#444" stroke-width="1.0"/>
<path d="M211.77,113.00L211.77,116.20" stroke="#444" stroke-width="1.0"/>
<path d="M227.92,113.00L227.92,116.20" stroke="#444" stroke-width="1.0"/>
<path d="M184.22,113.00L184.22,115.60" stroke="#777" stroke-width="0.6"/>
<path d="M187.07,113.00L187.07,115.60" stroke="#777" stroke-width="0.6"/>
<path d="M189.08,113.00L189.08,115.60" stroke="#777" stroke-width="0.6"/>
<path d="M190.65,113.00L190.65,115.60" stroke="#777" stroke-width="0.6"/>
<path d="M191.93,113.00L191.93,115.60" stroke="#777" stroke-width="0.6"/>
<path d="M193.01,113.00L193.01,115.60" stroke="#777" stroke-width="0.6"/>
<path d="M193.95,113.00L193.95,115.60" stroke="#777" stroke-width="0.6"/>
<path d="M194.77,113.00L194.77,115.60" stroke="#777" stroke-width="0.6"/>
<path d="M200.41,113.00L200.41,115.60" stroke="#777" stroke-width="0.6"/>
<path d="M203.27,113.00L203.27,115.60" stroke="#777" stroke-width="0.6"/>
<path d="M205.30,113.00L205.30,115.60" stroke="#777" stroke-width="0.6"/>
<path d="M206.87,113.00L206.87,115.60" stroke="#777" stroke-width="0.6"/>
<path d="M208.16,113.00L208.16,115.60" stroke="#777" stroke-width="0.6"/>
<path d="M209.25,113.00L209.25,115.60" stroke="#777" stroke-width="0.6"/>
<path d="M210.19,113.00L210.19,115.60" stroke="#777" stroke-width="0.6"/>
<path d="M211.02,113.00L211.02,115.60" stroke="#777" stroke-width="0.6"/>
<path d="M216.63,113.00L216.63,115.60" stroke="#777" stroke-width="0.6"/>
<path d="M219.47,113.00L219.47,115.60" stroke="#777" stroke-width="0.6"/>
<path d="M221.49,113.00L221.49,115.60" stroke="#777" stroke-width="0.6"/>
<path d="M223.06,113.00L223.06,115.60" stroke="#777" stroke-width="0.6"/>
<path d="M224.34,113.00L224.34,115.60" stroke="#777" stroke-width="0.6"/>
<path d="M225.42,113.00L225.42,115.60" stroke="#777" stroke-width="0.6"/>
<path d="M226.36,113.00L226.36,115.60" stroke="#777" stroke-width="0.6"/>
<path d="M227.18,113.00L227.18,115.60" stroke="#777" stroke-width="0.6"/>
<path d="M166.29,113.00L166.29,115.60" stroke="#666" stroke-width="0.7"/>
<path d="M169.78,113.00L169.78,115.60" stroke="#666" stroke-width="0.7"/>
<path d="M176.17,113.00L176.17,115.60" stroke="#666" stroke-width="0.7"/>
<path d="M177.56,113.00L177.56,115.60" stroke="#666" stroke-width="0.7"/>
<text transform="translate(159.70,55.65) scale(1.14,1)" font-size="5.5" text-anchor="end" fill="#1e1e1e">10<tspan font-size="3.9" dy="-2.3">5</tspan></text>
<text transform="translate(159.70,70.01) scale(1.14,1)" font-size="5.5" text-anchor="end" fill="#1e1e1e">10<tspan font-size="3.9" dy="-2.3">4</tspan></text>
<text transform="translate(159.70,84.68) scale(1.14,1)" font-size="5.5" text-anchor="end" fill="#1e1e1e">10<tspan font-size="3.9" dy="-2.3">3</tspan></text>
<text transform="translate(159.70,100.73) scale(1.14,1)" font-size="5.5" text-anchor="end" fill="#1e1e1e">10<tspan font-size="3.9" dy="-2.3">2</tspan></text>
<text transform="translate(159.10,109.75) scale(1.14,1)" font-size="5.5" text-anchor="end" fill="#1e1e1e">0</text>
<text transform="translate(172.78,125.10) scale(1.14,1)" font-size="5.5" fill="#1e1e1e">0</text>
<text transform="translate(175.37,125.10) scale(1.14,1)" font-size="5.5" text-anchor="start" fill="#1e1e1e">10<tspan font-size="3.9" dy="-2.3">2</tspan></text>
<text transform="translate(190.33,125.10) scale(1.14,1)" font-size="5.5" text-anchor="start" fill="#1e1e1e">10<tspan font-size="3.9" dy="-2.3">3</tspan></text>
<text transform="translate(207.78,125.10) scale(1.14,1)" font-size="5.5" text-anchor="start" fill="#1e1e1e">10<tspan font-size="3.9" dy="-2.3">4</tspan></text>
<text transform="translate(224.03,125.10) scale(1.14,1)" font-size="5.5" text-anchor="start" fill="#1e1e1e">10<tspan font-size="3.9" dy="-2.3">5</tspan></text>
<text transform="translate(192.92,70.10) scale(1.08,1.0)" font-size="5.8" text-anchor="start" fill="#1c1c1c" stroke="#1c1c1c" stroke-width="0.2">Q1</text>
<text transform="translate(215.40,70.10) scale(1.08,1.0)" font-size="5.8" text-anchor="start" fill="#1c1c1c" stroke="#1c1c1c" stroke-width="0.2">Q2</text>
<text transform="translate(215.90,87.10) scale(1.08,1.0)" font-size="5.8" text-anchor="start" fill="#1c1c1c" stroke="#1c1c1c" stroke-width="0.2">Q4</text>
<text transform="translate(192.92,87.10) scale(1.08,1.0)" font-size="5.8" text-anchor="start" fill="#1a3d1c" stroke="#1a3d1c" stroke-width="0.2">Q3</text>
<text transform="translate(232.90,57.10)" font-size="8.0" text-anchor="end" fill="#1c1c1c" stroke="#1c1c1c" stroke-width="0.2">10.4%</text>
<path d="M144.20,112.50L144.20,132.70" stroke="#1a1a1a" stroke-width="1.0"/>
<path d="M144.20,132.70L160.90,132.70" stroke="#1a1a1a" stroke-width="1.0"/>
<path d="M142.00,113.90L144.20,109.50L146.40,113.90Z" fill="#1a1a1a"/>
<path d="M158.80,130.60L163.20,132.70L158.80,134.80Z" fill="#1a1a1a"/>
<text transform="translate(166.40,135.40) scale(0.77,1.05)" font-size="7.0" text-anchor="start" font-weight="bold" fill="#222">H3Cit-alexa488</text>
<text transform="translate(146.10,94.30) rotate(-90) scale(0.98,1.18)" font-size="6.0" text-anchor="middle" font-weight="bold" fill="#222">MP0-PE</text>
<path d="M272.40,113.30V47.50H343.30V113.30" fill="none" stroke="#8a8a8a" stroke-width="1.1"/>
<path d="M272.40,47.50L272.40,113.30" stroke="#6a6a6a" stroke-width="1.1"/>
<path d="M272.40,113.30L343.30,113.30" stroke="#6a6a6a" stroke-width="1.1"/>
<path d="M317.00,47.50L317.00,113.30" stroke="#666" stroke-width="1.0"/>
<path d="M272.40,78.00L343.30,78.00" stroke="#666" stroke-width="1.0"/>
<path d="M300.5,88.0L300.5,88.0L303.0,91.0L303.0,91.0L303.0,91.0L307.5,85.5L307.5,85.5L313.0,79.5L313.0,79.5L313.0,79.5L316.0,75.0L316.0,75.0L316.0,75.0L311.0,76.5L311.0,76.5L311.0,76.5L305.0,81.0L305.0,81.0L305.0,81.0L300.5,88.0L300.5,88.0Z" fill="#9ccc9c" opacity="0.5"/><path d="M310.2 80.2h0.8v0.8h-0.8zM301.9 90.2h0.8v0.8h-0.8zM313.8 76.8h0.8v0.8h-0.8zM307.5 105.2h0.8v0.8h-0.8zM311.2 101.2h0.8v0.8h-0.8zM315.4 74.9h0.8v0.8h-0.8zM316.0 91.2h0.8v0.8h-0.8zM311.8 99.1h0.8v0.8h-0.8zM296.1 97.7h0.8v0.8h-0.8zM308.3 104.9h0.8v0.8h-0.8zM310.9 79.0h0.8v0.8h-0.8zM291.5 104.5h0.8v0.8h-0.8zM322.3 81.3h0.8v0.8h-0.8zM299.1 95.7h0.8v0.8h-0.8zM308.8 80.7h0.8v0.8h-0.8zM294.1 109.8h0.8v0.8h-0.8zM302.7 107.8h0.8v0.8h-0.8zM299.1 94.4h0.8v0.8h-0.8zM314.0 96.9h0.8v0.8h-0.8zM292.4 110.0h0.8v0.8h-0.8zM304.6 87.9h0.8v0.8h-0.8zM312.0 79.0h0.8v0.8h-0.8zM297.5 97.3h0.8v0.8h-0.8zM297.7 96.6h0.8v0.8h-0.8zM296.9 97.2h0.8v0.8h-0.8zM300.8 90.7h0.8v0.8h-0.8zM314.6 74.8h0.8v0.8h-0.8zM319.8 85.9h0.8v0.8h-0.8zM304.1 89.0h0.8v0.8h-0.8zM314.3 74.6h0.8v0.8h-0.8zM300.7 109.3h0.8v0.8h-0.8zM304.3 108.5h0.8v0.8h-0.8zM300.7 109.4h0.8v0.8h-0.8zM291.7 104.4h0.8v0.8h-0.8zM320.9 84.0h0.8v0.8h-0.8zM294.8 110.5h0.8v0.8h-0.8zM296.8 95.9h0.8v0.8h-0.8zM300.5 91.7h0.8v0.8h-0.8zM298.8 94.7h0.8v0.8h-0.8zM293.2 103.0h0.8v0.8h-0.8zM303.1 90.4h0.8v0.8h-0.8zM290.2 106.8h0.8v0.8h-0.8zM294.4 110.1h0.8v0.8h-0.8zM314.1 77.2h0.8v0.8h-0.8zM299.1 95.0h0.8v0.8h-0.8zM304.7 85.1h0.8v0.8h-0.8zM304.2 88.7h0.8v0.8h-0.8zM316.4 91.3h0.8v0.8h-0.8zM291.7 106.7h0.8v0.8h-0.8zM322.8 75.0h0.8v0.8h-0.8zM292.7 101.8h0.8v0.8h-0.8zM291.5 108.8h0.8v0.8h-0.8zM302.5 89.2h0.8v0.8h-0.8zM315.2 76.3h0.8v0.8h-0.8zM304.9 87.8h0.8v0.8h-0.8zM303.4 107.4h0.8v0.8h-0.8zM315.2 74.2h0.8v0.8h-0.8zM291.9 104.5h0.8v0.8h-0.8zM318.0 87.7h0.8v0.8h-0.8zM320.7 85.8h0.8v0.8h-0.8zM301.0 110.3h0.8v0.8h-0.8zM297.1 111.5h0.8v0.8h-0.8zM315.8 94.4h0.8v0.8h-0.8zM317.5 91.3h0.8v0.8h-0.8zM310.6 101.8h0.8v0.8h-0.8zM297.9 110.8h0.8v0.8h-0.8zM312.3 77.0h0.8v0.8h-0.8zM318.1 89.5h0.8v0.8h-0.8zM315.4 76.1h0.8v0.8h-0.8zM308.4 81.7h0.8v0.8h-0.8zM296.6 112.2h0.8v0.8h-0.8zM305.0 85.9h0.8v0.8h-0.8zM305.8 106.5h0.8v0.8h-0.8zM310.5 102.3h0.8v0.8h-0.8zM290.5 105.2h0.8v0.8h-0.8zM291.5 106.0h0.8v0.8h-0.8zM322.9 80.8h0.8v0.8h-0.8zM296.7 96.7h0.8v0.8h-0.8zM302.1 89.8h0.8v0.8h-0.8zM307.3 106.0h0.8v0.8h-0.8zM297.7 95.8h0.8v0.8h-0.8zM307.8 105.3h0.8v0.8h-0.8zM316.7 74.6h0.8v0.8h-0.8zM298.5 96.3h0.8v0.8h-0.8zM313.9 97.4h0.8v0.8h-0.8zM321.1 74.6h0.8v0.8h-0.8zM290.7 105.1h0.8v0.8h-0.8zM300.9 93.9h0.8v0.8h-0.8zM308.5 81.4h0.8v0.8h-0.8zM296.1 99.1h0.8v0.8h-0.8zM306.5 106.3h0.8v0.8h-0.8zM309.9 103.6h0.8v0.8h-0.8zM311.9 98.4h0.8v0.8h-0.8zM308.6 81.5h0.8v0.8h-0.8zM311.0 101.8h0.8v0.8h-0.8zM315.2 93.6h0.8v0.8h-0.8zM294.1 109.3h0.8v0.8h-0.8zM305.1 87.2h0.8v0.8h-0.8zM316.3 91.4h0.8v0.8h-0.8zM315.0 74.9h0.8v0.8h-0.8zM319.5 84.1h0.8v0.8h-0.8zM312.7 96.8h0.8v0.8h-0.8zM319.5 87.3h0.8v0.8h-0.8zM323.6 78.9h0.8v0.8h-0.8zM316.5 92.8h0.8v0.8h-0.8zM322.1 77.5h0.8v0.8h-0.8zM301.5 92.0h0.8v0.8h-0.8zM323.4 80.3h0.8v0.8h-0.8zM316.6 93.4h0.8v0.8h-0.8zM303.5 108.5h0.8v0.8h-0.8zM312.0 76.7h0.8v0.8h-0.8zM308.7 79.9h0.8v0.8h-0.8zM302.8 89.2h0.8v0.8h-0.8zM306.5 83.7h0.8v0.8h-0.8zM312.5 77.3h0.8v0.8h-0.8zM308.6 79.7h0.8v0.8h-0.8zM301.5 87.6h0.8v0.8h-0.8zM310.1 78.6h0.8v0.8h-0.8zM311.6 80.3h0.8v0.8h-0.8zM304.6 82.2h0.8v0.8h-0.8zM309.0 84.0h0.8v0.8h-0.8zM309.6 83.6h0.8v0.8h-0.8zM304.7 82.3h0.8v0.8h-0.8zM304.8 83.6h0.8v0.8h-0.8zM313.5 78.9h0.8v0.8h-0.8zM312.3 76.8h0.8v0.8h-0.8zM302.2 87.6h0.8v0.8h-0.8zM304.4 83.8h0.8v0.8h-0.8zM306.3 87.1h0.8v0.8h-0.8zM314.4 77.0h0.8v0.8h-0.8zM308.0 80.2h0.8v0.8h-0.8zM312.8 76.6h0.8v0.8h-0.8zM310.7 81.5h0.8v0.8h-0.8zM308.0 80.8h0.8v0.8h-0.8zM300.8 87.1h0.8v0.8h-0.8zM310.8 78.2h0.8v0.8h-0.8zM306.4 84.7h0.8v0.8h-0.8zM306.3 80.7h0.8v0.8h-0.8zM305.2 83.2h0.8v0.8h-0.8zM303.9 82.9h0.8v0.8h-0.8zM306.0 85.5h0.8v0.8h-0.8zM309.0 83.4h0.8v0.8h-0.8zM310.1 82.1h0.8v0.8h-0.8zM302.5 90.7h0.8v0.8h-0.8zM306.9 86.4h0.8v0.8h-0.8zM311.2 78.4h0.8v0.8h-0.8zM309.9 77.6h0.8v0.8h-0.8zM304.1 85.5h0.8v0.8h-0.8zM302.3 90.5h0.8v0.8h-0.8zM313.7 78.5h0.8v0.8h-0.8z" fill="#86c286" opacity="0.75"/><path d="M292.1,107.1L297.1,109.9L304.4,106.2L309.4,100.4L313.4,93.8L313.4,93.7L316.7,88.0L316.7,88.0L320.1,81.4L320.1,81.4L321.7,78.1L321.0,76.0L315.5,76.8L311.4,80.8L311.4,80.8L306.5,86.6L306.5,86.6L302.3,92.5L298.3,98.2L298.2,98.3L294.1,103.2L292.1,107.1Z" fill="#2b8232"/><path d="M314.3 79.0h0.9v0.9h-0.9zM297.6 97.6h0.9v0.9h-0.9zM318.7 84.9h0.9v0.9h-0.9zM310.5 82.0h0.9v0.9h-0.9zM320.3 82.3h0.9v0.9h-0.9zM309.7 99.1h0.9v0.9h-0.9zM312.3 93.8h0.9v0.9h-0.9zM315.6 89.1h0.9v0.9h-0.9zM308.9 101.7h0.9v0.9h-0.9zM306.3 87.3h0.9v0.9h-0.9zM299.3 95.5h0.9v0.9h-0.9zM305.1 89.0h0.9v0.9h-0.9zM313.5 78.1h0.9v0.9h-0.9zM304.2 105.5h0.9v0.9h-0.9zM298.5 99.0h0.9v0.9h-0.9zM306.7 103.2h0.9v0.9h-0.9zM305.1 106.4h0.9v0.9h-0.9zM312.3 97.1h0.9v0.9h-0.9zM293.5 106.1h0.9v0.9h-0.9zM312.0 80.8h0.9v0.9h-0.9zM319.4 82.1h0.9v0.9h-0.9zM314.5 91.2h0.9v0.9h-0.9zM311.3 99.0h0.9v0.9h-0.9zM309.3 100.1h0.9v0.9h-0.9zM307.3 87.1h0.9v0.9h-0.9zM308.3 83.2h0.9v0.9h-0.9zM296.9 110.7h0.9v0.9h-0.9zM319.0 83.3h0.9v0.9h-0.9zM294.8 108.9h0.9v0.9h-0.9zM291.9 105.0h0.9v0.9h-0.9zM298.1 98.4h0.9v0.9h-0.9zM315.1 92.8h0.9v0.9h-0.9zM315.2 77.4h0.9v0.9h-0.9zM299.7 96.1h0.9v0.9h-0.9zM293.8 103.5h0.9v0.9h-0.9zM312.2 94.0h0.9v0.9h-0.9zM298.7 98.2h0.9v0.9h-0.9zM315.8 88.3h0.9v0.9h-0.9zM321.2 76.8h0.9v0.9h-0.9zM312.6 95.4h0.9v0.9h-0.9zM293.7 104.2h0.9v0.9h-0.9zM316.0 76.3h0.9v0.9h-0.9zM320.6 76.7h0.9v0.9h-0.9zM311.6 79.2h0.9v0.9h-0.9zM313.9 77.1h0.9v0.9h-0.9zM303.4 89.3h0.9v0.9h-0.9zM322.2 77.4h0.9v0.9h-0.9zM303.8 106.4h0.9v0.9h-0.9zM307.0 87.5h0.9v0.9h-0.9zM307.9 84.0h0.9v0.9h-0.9zM316.6 88.1h0.9v0.9h-0.9zM307.8 103.2h0.9v0.9h-0.9zM306.1 105.7h0.9v0.9h-0.9zM311.5 82.0h0.9v0.9h-0.9zM294.4 103.9h0.9v0.9h-0.9zM292.8 106.7h0.9v0.9h-0.9zM294.8 101.8h0.9v0.9h-0.9zM295.7 109.5h0.9v0.9h-0.9zM313.6 94.0h0.9v0.9h-0.9zM318.0 86.9h0.9v0.9h-0.9zM319.8 81.6h0.9v0.9h-0.9zM292.2 108.2h0.9v0.9h-0.9zM311.2 96.6h0.9v0.9h-0.9zM311.6 96.5h0.9v0.9h-0.9zM313.9 79.7h0.9v0.9h-0.9zM318.6 84.5h0.9v0.9h-0.9zM311.5 97.8h0.9v0.9h-0.9zM311.9 79.2h0.9v0.9h-0.9zM321.1 77.5h0.9v0.9h-0.9zM303.5 91.6h0.9v0.9h-0.9zM316.3 76.9h0.9v0.9h-0.9zM296.2 109.4h0.9v0.9h-0.9zM293.5 108.6h0.9v0.9h-0.9zM318.8 83.5h0.9v0.9h-0.9zM291.8 106.7h0.9v0.9h-0.9zM311.6 81.8h0.9v0.9h-0.9zM300.1 95.7h0.9v0.9h-0.9zM308.9 102.0h0.9v0.9h-0.9zM303.1 90.9h0.9v0.9h-0.9zM294.0 107.7h0.9v0.9h-0.9zM299.1 108.4h0.9v0.9h-0.9zM302.7 90.2h0.9v0.9h-0.9zM321.2 76.5h0.9v0.9h-0.9zM298.0 110.2h0.9v0.9h-0.9zM305.6 87.1h0.9v0.9h-0.9zM319.2 81.7h0.9v0.9h-0.9zM293.6 105.0h0.9v0.9h-0.9zM296.0 101.7h0.9v0.9h-0.9zM319.0 82.8h0.9v0.9h-0.9zM301.1 95.3h0.9v0.9h-0.9zM298.4 97.6h0.9v0.9h-0.9zM295.0 109.3h0.9v0.9h-0.9zM320.7 78.0h0.9v0.9h-0.9zM315.0 76.5h0.9v0.9h-0.9zM311.9 96.9h0.9v0.9h-0.9zM310.7 99.6h0.9v0.9h-0.9zM308.0 103.0h0.9v0.9h-0.9zM303.3 92.1h0.9v0.9h-0.9zM319.6 80.7h0.9v0.9h-0.9zM298.5 110.0h0.9v0.9h-0.9zM308.6 82.8h0.9v0.9h-0.9zM294.9 102.5h0.9v0.9h-0.9zM300.8 107.0h0.9v0.9h-0.9zM304.1 105.2h0.9v0.9h-0.9zM315.1 76.8h0.9v0.9h-0.9zM308.9 83.8h0.9v0.9h-0.9zM310.7 81.4h0.9v0.9h-0.9zM307.9 102.6h0.9v0.9h-0.9zM299.2 95.5h0.9v0.9h-0.9zM319.2 75.5h0.9v0.9h-0.9zM305.1 87.8h0.9v0.9h-0.9zM296.5 99.8h0.9v0.9h-0.9zM317.6 85.0h0.9v0.9h-0.9zM321.5 76.4h0.9v0.9h-0.9zM321.0 81.8h0.9v0.9h-0.9zM315.1 78.0h0.9v0.9h-0.9zM317.5 76.2h0.9v0.9h-0.9zM300.9 108.2h0.9v0.9h-0.9zM320.1 79.6h0.9v0.9h-0.9zM321.0 79.7h0.9v0.9h-0.9zM295.7 100.3h0.9v0.9h-0.9zM306.9 103.2h0.9v0.9h-0.9zM312.6 94.3h0.9v0.9h-0.9zM300.5 96.6h0.9v0.9h-0.9zM299.1 109.1h0.9v0.9h-0.9zM297.4 97.9h0.9v0.9h-0.9zM298.9 95.7h0.9v0.9h-0.9zM298.2 110.4h0.9v0.9h-0.9zM312.2 80.3h0.9v0.9h-0.9zM301.6 107.8h0.9v0.9h-0.9zM304.4 88.5h0.9v0.9h-0.9zM293.4 108.3h0.9v0.9h-0.9zM308.3 101.2h0.9v0.9h-0.9zM313.7 77.9h0.9v0.9h-0.9zM307.1 103.4h0.9v0.9h-0.9zM300.2 94.1h0.9v0.9h-0.9zM295.8 109.6h0.9v0.9h-0.9zM318.6 75.6h0.9v0.9h-0.9zM291.4 106.9h0.9v0.9h-0.9zM294.4 108.0h0.9v0.9h-0.9zM314.6 76.9h0.9v0.9h-0.9zM320.8 75.5h0.9v0.9h-0.9zM313.7 92.8h0.9v0.9h-0.9zM295.2 102.1h0.9v0.9h-0.9zM317.1 87.3h0.9v0.9h-0.9zM313.0 92.7h0.9v0.9h-0.9zM319.7 75.9h0.9v0.9h-0.9zM301.3 95.2h0.9v0.9h-0.9zM299.2 108.2h0.9v0.9h-0.9zM299.9 109.4h0.9v0.9h-0.9zM317.1 86.6h0.9v0.9h-0.9zM302.5 106.8h0.9v0.9h-0.9zM297.5 99.0h0.9v0.9h-0.9zM315.7 91.3h0.9v0.9h-0.9zM309.2 84.2h0.9v0.9h-0.9zM321.8 75.6h0.9v0.9h-0.9zM294.0 105.1h0.9v0.9h-0.9zM297.3 109.8h0.9v0.9h-0.9zM304.4 90.5h0.9v0.9h-0.9zM317.7 85.8h0.9v0.9h-0.9zM312.1 97.6h0.9v0.9h-0.9zM293.9 105.0h0.9v0.9h-0.9zM297.0 110.1h0.9v0.9h-0.9zM310.5 97.7h0.9v0.9h-0.9zM322.5 78.5h0.9v0.9h-0.9zM322.1 79.6h0.9v0.9h-0.9zM309.2 82.8h0.9v0.9h-0.9zM309.7 82.0h0.9v0.9h-0.9zM310.1 99.0h0.9v0.9h-0.9zM321.3 77.1h0.9v0.9h-0.9zM308.4 85.8h0.9v0.9h-0.9zM298.6 110.3h0.9v0.9h-0.9zM292.1 107.8h0.9v0.9h-0.9zM293.6 104.1h0.9v0.9h-0.9zM314.4 92.9h0.9v0.9h-0.9zM309.0 83.8h0.9v0.9h-0.9zM295.4 108.4h0.9v0.9h-0.9zM296.8 101.4h0.9v0.9h-0.9zM291.7 107.8h0.9v0.9h-0.9zM291.6 107.8h0.9v0.9h-0.9zM292.9 104.3h0.9v0.9h-0.9zM321.1 81.6h0.9v0.9h-0.9zM296.4 101.5h0.9v0.9h-0.9zM321.7 79.3h0.9v0.9h-0.9zM316.3 75.9h0.9v0.9h-0.9zM299.3 95.0h0.9v0.9h-0.9zM313.3 77.5h0.9v0.9h-0.9zM313.6 93.6h0.9v0.9h-0.9zM293.2 107.5h0.9v0.9h-0.9zM304.7 106.5h0.9v0.9h-0.9zM303.0 90.2h0.9v0.9h-0.9zM321.0 77.4h0.9v0.9h-0.9zM291.8 105.2h0.9v0.9h-0.9zM310.4 100.8h0.9v0.9h-0.9zM292.4 106.0h0.9v0.9h-0.9zM312.3 94.1h0.9v0.9h-0.9zM292.1 107.7h0.9v0.9h-0.9zM292.6 106.6h0.9v0.9h-0.9zM312.2 94.9h0.9v0.9h-0.9zM304.4 89.1h0.9v0.9h-0.9zM310.0 83.1h0.9v0.9h-0.9zM303.0 85.7h0.9v0.9h-0.9zM314.8 75.3h0.9v0.9h-0.9zM305.8 81.7h0.9v0.9h-0.9zM314.6 75.4h0.9v0.9h-0.9zM306.3 81.5h0.9v0.9h-0.9zM304.7 81.8h0.9v0.9h-0.9zM311.3 81.8h0.9v0.9h-0.9zM306.8 82.0h0.9v0.9h-0.9zM309.4 80.8h0.9v0.9h-0.9zM303.8 84.9h0.9v0.9h-0.9zM304.9 82.2h0.9v0.9h-0.9zM315.4 75.3h0.9v0.9h-0.9zM307.1 82.1h0.9v0.9h-0.9zM307.8 82.5h0.9v0.9h-0.9zM313.6 78.5h0.9v0.9h-0.9zM302.9 88.3h0.9v0.9h-0.9zM304.0 86.9h0.9v0.9h-0.9zM305.0 86.6h0.9v0.9h-0.9zM306.5 82.8h0.9v0.9h-0.9zM301.1 88.8h0.9v0.9h-0.9zM304.4 81.8h0.9v0.9h-0.9zM313.7 77.4h0.9v0.9h-0.9zM305.6 87.9h0.9v0.9h-0.9zM302.5 85.2h0.9v0.9h-0.9zM316.2 75.1h0.9v0.9h-0.9zM301.9 88.4h0.9v0.9h-0.9zM309.4 82.0h0.9v0.9h-0.9zM302.9 85.7h0.9v0.9h-0.9zM307.5 81.6h0.9v0.9h-0.9zM313.8 77.6h0.9v0.9h-0.9zM303.5 82.9h0.9v0.9h-0.9zM310.4 80.8h0.9v0.9h-0.9zM302.5 85.3h0.9v0.9h-0.9zM300.7 87.4h0.9v0.9h-0.9zM307.4 81.1h0.9v0.9h-0.9zM301.1 88.4h0.9v0.9h-0.9zM307.6 79.3h0.9v0.9h-0.9zM304.9 80.8h0.9v0.9h-0.9zM309.3 78.5h0.9v0.9h-0.9zM309.1 79.8h0.9v0.9h-0.9zM304.9 82.3h0.9v0.9h-0.9zM311.9 79.1h0.9v0.9h-0.9zM306.5 83.3h0.9v0.9h-0.9zM314.1 78.0h0.9v0.9h-0.9zM311.0 76.8h0.9v0.9h-0.9zM310.0 80.4h0.9v0.9h-0.9zM303.4 87.1h0.9v0.9h-0.9zM306.0 83.8h0.9v0.9h-0.9zM310.9 81.4h0.9v0.9h-0.9z" fill="#1c6523"/><path d="M301.9 97.2h1.0v1.0h-1.0zM313.1 86.3h1.0v1.0h-1.0zM298.9 100.0h1.0v1.0h-1.0zM307.0 94.5h1.0v1.0h-1.0zM319.7 78.6h1.0v1.0h-1.0zM303.6 96.8h1.0v1.0h-1.0zM303.1 100.0h1.0v1.0h-1.0zM295.8 104.5h1.0v1.0h-1.0zM312.5 83.1h1.0v1.0h-1.0zM296.8 102.6h1.0v1.0h-1.0zM304.0 104.3h1.0v1.0h-1.0zM297.2 106.6h1.0v1.0h-1.0zM299.2 100.8h1.0v1.0h-1.0zM295.4 108.0h1.0v1.0h-1.0zM308.8 93.3h1.0v1.0h-1.0zM299.7 102.0h1.0v1.0h-1.0zM302.1 99.9h1.0v1.0h-1.0zM312.0 83.7h1.0v1.0h-1.0zM294.5 104.3h1.0v1.0h-1.0zM318.3 82.5h1.0v1.0h-1.0zM315.9 86.9h1.0v1.0h-1.0zM307.0 100.3h1.0v1.0h-1.0zM303.5 97.1h1.0v1.0h-1.0zM305.6 92.8h1.0v1.0h-1.0zM316.0 79.5h1.0v1.0h-1.0zM313.1 86.9h1.0v1.0h-1.0zM305.2 91.0h1.0v1.0h-1.0zM317.9 80.4h1.0v1.0h-1.0zM315.1 86.7h1.0v1.0h-1.0zM314.2 83.1h1.0v1.0h-1.0zM317.8 83.4h1.0v1.0h-1.0zM309.5 96.5h1.0v1.0h-1.0zM315.1 78.8h1.0v1.0h-1.0zM302.7 95.2h1.0v1.0h-1.0zM308.5 88.4h1.0v1.0h-1.0zM312.4 90.4h1.0v1.0h-1.0zM300.1 100.3h1.0v1.0h-1.0zM310.5 85.3h1.0v1.0h-1.0zM311.2 86.4h1.0v1.0h-1.0zM316.8 78.5h1.0v1.0h-1.0zM304.2 103.0h1.0v1.0h-1.0zM297.8 101.6h1.0v1.0h-1.0zM303.0 98.9h1.0v1.0h-1.0zM307.0 99.1h1.0v1.0h-1.0zM303.8 103.7h1.0v1.0h-1.0zM313.1 83.0h1.0v1.0h-1.0zM299.2 103.6h1.0v1.0h-1.0zM297.9 103.1h1.0v1.0h-1.0zM311.0 95.2h1.0v1.0h-1.0zM297.2 104.5h1.0v1.0h-1.0zM307.5 90.6h1.0v1.0h-1.0zM310.8 87.2h1.0v1.0h-1.0zM309.1 86.0h1.0v1.0h-1.0zM304.2 96.5h1.0v1.0h-1.0zM305.9 97.1h1.0v1.0h-1.0zM300.7 97.9h1.0v1.0h-1.0zM303.2 105.2h1.0v1.0h-1.0zM302.0 102.0h1.0v1.0h-1.0zM301.2 96.4h1.0v1.0h-1.0zM305.9 94.1h1.0v1.0h-1.0zM316.6 77.8h1.0v1.0h-1.0zM308.6 90.1h1.0v1.0h-1.0zM317.2 78.9h1.0v1.0h-1.0zM315.2 88.8h1.0v1.0h-1.0zM299.8 97.9h1.0v1.0h-1.0zM297.8 103.4h1.0v1.0h-1.0zM317.5 82.2h1.0v1.0h-1.0zM306.8 96.3h1.0v1.0h-1.0zM306.2 98.1h1.0v1.0h-1.0zM300.8 102.4h1.0v1.0h-1.0zM309.8 95.2h1.0v1.0h-1.0zM306.1 94.2h1.0v1.0h-1.0zM309.0 94.1h1.0v1.0h-1.0zM303.8 98.9h1.0v1.0h-1.0zM314.5 87.0h1.0v1.0h-1.0zM298.8 105.1h1.0v1.0h-1.0zM294.0 107.0h1.0v1.0h-1.0zM312.2 84.3h1.0v1.0h-1.0zM311.1 94.2h1.0v1.0h-1.0zM296.8 101.9h1.0v1.0h-1.0zM311.4 91.2h1.0v1.0h-1.0zM300.1 106.9h1.0v1.0h-1.0zM314.6 81.4h1.0v1.0h-1.0zM306.0 90.7h1.0v1.0h-1.0zM298.9 105.8h1.0v1.0h-1.0zM311.0 91.7h1.0v1.0h-1.0zM314.1 84.3h1.0v1.0h-1.0zM297.7 104.6h1.0v1.0h-1.0zM305.3 98.5h1.0v1.0h-1.0zM314.1 90.3h1.0v1.0h-1.0z" fill="#15521b" opacity="0.8"/><path d="M305.0 96.0h0.9v0.9h-0.9zM306.3 92.7h0.9v0.9h-0.9zM307.7 92.3h0.9v0.9h-0.9zM294.1 107.5h0.9v0.9h-0.9zM318.2 80.0h0.9v0.9h-0.9zM300.3 104.8h0.9v0.9h-0.9zM300.7 103.0h0.9v0.9h-0.9zM317.2 77.7h0.9v0.9h-0.9zM308.0 87.2h0.9v0.9h-0.9zM301.1 106.5h0.9v0.9h-0.9zM312.5 94.0h0.9v0.9h-0.9zM315.3 83.0h0.9v0.9h-0.9zM309.8 88.4h0.9v0.9h-0.9zM306.0 101.7h0.9v0.9h-0.9zM316.4 81.3h0.9v0.9h-0.9zM296.0 101.8h0.9v0.9h-0.9zM315.1 84.6h0.9v0.9h-0.9zM315.9 86.6h0.9v0.9h-0.9zM309.1 94.0h0.9v0.9h-0.9zM315.3 84.3h0.9v0.9h-0.9zM306.2 89.3h0.9v0.9h-0.9zM310.1 92.9h0.9v0.9h-0.9zM296.3 105.0h0.9v0.9h-0.9zM306.1 94.7h0.9v0.9h-0.9zM299.5 104.0h0.9v0.9h-0.9zM317.7 78.0h0.9v0.9h-0.9zM317.1 84.6h0.9v0.9h-0.9zM316.5 85.8h0.9v0.9h-0.9zM301.7 95.6h0.9v0.9h-0.9zM310.4 89.9h0.9v0.9h-0.9zM315.5 85.8h0.9v0.9h-0.9zM311.7 95.3h0.9v0.9h-0.9zM311.3 82.4h0.9v0.9h-0.9zM304.9 102.6h0.9v0.9h-0.9zM312.2 92.5h0.9v0.9h-0.9zM299.5 100.0h0.9v0.9h-0.9zM303.7 100.7h0.9v0.9h-0.9zM303.3 104.0h0.9v0.9h-0.9zM317.2 83.6h0.9v0.9h-0.9zM311.8 82.1h0.9v0.9h-0.9zM302.9 99.4h0.9v0.9h-0.9zM298.9 107.6h0.9v0.9h-0.9zM303.8 97.2h0.9v0.9h-0.9zM300.5 98.6h0.9v0.9h-0.9zM298.4 99.9h0.9v0.9h-0.9zM306.7 87.8h0.9v0.9h-0.9zM314.4 90.5h0.9v0.9h-0.9zM297.6 108.5h0.9v0.9h-0.9zM300.0 107.2h0.9v0.9h-0.9zM320.1 77.0h0.9v0.9h-0.9zM309.8 95.0h0.9v0.9h-0.9zM313.0 86.0h0.9v0.9h-0.9zM298.6 103.0h0.9v0.9h-0.9zM313.0 83.3h0.9v0.9h-0.9zM312.6 87.5h0.9v0.9h-0.9zM318.0 79.7h0.9v0.9h-0.9zM319.0 77.4h0.9v0.9h-0.9zM310.6 93.8h0.9v0.9h-0.9zM302.7 95.6h0.9v0.9h-0.9zM296.7 108.8h0.9v0.9h-0.9zM308.2 86.6h0.9v0.9h-0.9zM307.9 98.4h0.9v0.9h-0.9zM309.5 93.1h0.9v0.9h-0.9zM305.0 97.5h0.9v0.9h-0.9zM311.8 85.1h0.9v0.9h-0.9zM311.8 93.3h0.9v0.9h-0.9zM316.1 83.3h0.9v0.9h-0.9zM308.7 96.2h0.9v0.9h-0.9zM301.7 95.3h0.9v0.9h-0.9zM305.9 89.9h0.9v0.9h-0.9z" fill="#63aa63" opacity="0.8"/>
<path d="M269.40,53.50L272.40,53.50" stroke="#444" stroke-width="1.0"/>
<path d="M269.40,68.00L272.40,68.00" stroke="#444" stroke-width="1.0"/>
<path d="M269.40,82.80L272.40,82.80" stroke="#444" stroke-width="1.0"/>
<path d="M269.40,99.00L272.40,99.00" stroke="#444" stroke-width="1.0"/>
<path d="M269.40,107.80L272.40,107.80" stroke="#444" stroke-width="1.0"/>
<path d="M270.20,63.64L272.40,63.64" stroke="#777" stroke-width="0.6"/>
<path d="M270.20,61.08L272.40,61.08" stroke="#777" stroke-width="0.6"/>
<path d="M270.20,59.27L272.40,59.27" stroke="#777" stroke-width="0.6"/>
<path d="M270.20,57.86L272.40,57.86" stroke="#777" stroke-width="0.6"/>
<path d="M270.20,56.72L272.40,56.72" stroke="#777" stroke-width="0.6"/>
<path d="M270.20,55.75L272.40,55.75" stroke="#777" stroke-width="0.6"/>
<path d="M270.20,54.91L272.40,54.91" stroke="#777" stroke-width="0.6"/>
<path d="M270.20,54.16L272.40,54.16" stroke="#777" stroke-width="0.6"/>
<path d="M270.20,78.34L272.40,78.34" stroke="#777" stroke-width="0.6"/>
<path d="M270.20,75.74L272.40,75.74" stroke="#777" stroke-width="0.6"/>
<path d="M270.20,73.89L272.40,73.89" stroke="#777" stroke-width="0.6"/>
<path d="M270.20,72.46L272.40,72.46" stroke="#777" stroke-width="0.6"/>
<path d="M270.20,71.28L272.40,71.28" stroke="#777" stroke-width="0.6"/>
<path d="M270.20,70.29L272.40,70.29" stroke="#777" stroke-width="0.6"/>
<path d="M270.20,69.43L272.40,69.43" stroke="#777" stroke-width="0.6"/>
<path d="M270.20,68.68L272.40,68.68" stroke="#777" stroke-width="0.6"/>
<path d="M270.20,94.12L272.40,94.12" stroke="#777" stroke-width="0.6"/>
<path d="M270.20,91.27L272.40,91.27" stroke="#777" stroke-width="0.6"/>
<path d="M270.20,89.25L272.40,89.25" stroke="#777" stroke-width="0.6"/>
<path d="M270.20,87.68L272.40,87.68" stroke="#777" stroke-width="0.6"/>
<path d="M270.20,86.39L272.40,86.39" stroke="#777" stroke-width="0.6"/>
<path d="M270.20,85.31L272.40,85.31" stroke="#777" stroke-width="0.6"/>
<path d="M270.20,84.37L272.40,84.37" stroke="#777" stroke-width="0.6"/>
<path d="M270.20,83.54L272.40,83.54" stroke="#777" stroke-width="0.6"/>
<path d="M270.20,101.00L272.40,101.00" stroke="#777" stroke-width="0.6"/>
<path d="M270.20,103.00L272.40,103.00" stroke="#777" stroke-width="0.6"/>
<path d="M270.20,105.00L272.40,105.00" stroke="#777" stroke-width="0.6"/>
<path d="M270.20,110.30L272.40,110.30" stroke="#777" stroke-width="0.6"/>
<path d="M270.20,112.10L272.40,112.10" stroke="#777" stroke-width="0.6"/>
<path d="M282.37,113.30L282.37,116.50" stroke="#444" stroke-width="1.0"/>
<path d="M287.36,113.30L287.36,116.50" stroke="#444" stroke-width="1.0"/>
<path d="M303.51,113.30L303.51,116.50" stroke="#444" stroke-width="1.0"/>
<path d="M319.77,113.30L319.77,116.50" stroke="#444" stroke-width="1.0"/>
<path d="M335.92,113.30L335.92,116.50" stroke="#444" stroke-width="1.0"/>
<path d="M292.22,113.30L292.22,115.90" stroke="#777" stroke-width="0.6"/>
<path d="M295.07,113.30L295.07,115.90" stroke="#777" stroke-width="0.6"/>
<path d="M297.08,113.30L297.08,115.90" stroke="#777" stroke-width="0.6"/>
<path d="M298.65,113.30L298.65,115.90" stroke="#777" stroke-width="0.6"/>
<path d="M299.93,113.30L299.93,115.90" stroke="#777" stroke-width="0.6"/>
<path d="M301.01,113.30L301.01,115.90" stroke="#777" stroke-width="0.6"/>
<path d="M301.95,113.30L301.95,115.90" stroke="#777" stroke-width="0.6"/>
<path d="M302.77,113.30L302.77,115.90" stroke="#777" stroke-width="0.6"/>
<path d="M308.41,113.30L308.41,115.90" stroke="#777" stroke-width="0.6"/>
<path d="M311.27,113.30L311.27,115.90" stroke="#777" stroke-width="0.6"/>
<path d="M313.30,113.30L313.30,115.90" stroke="#777" stroke-width="0.6"/>
<path d="M314.87,113.30L314.87,115.90" stroke="#777" stroke-width="0.6"/>
<path d="M316.16,113.30L316.16,115.90" stroke="#777" stroke-width="0.6"/>
<path d="M317.25,113.30L317.25,115.90" stroke="#777" stroke-width="0.6"/>
<path d="M318.19,113.30L318.19,115.90" stroke="#777" stroke-width="0.6"/>
<path d="M319.02,113.30L319.02,115.90" stroke="#777" stroke-width="0.6"/>
<path d="M324.63,113.30L324.63,115.90" stroke="#777" stroke-width="0.6"/>
<path d="M327.47,113.30L327.47,115.90" stroke="#777" stroke-width="0.6"/>
<path d="M329.49,113.30L329.49,115.90" stroke="#777" stroke-width="0.6"/>
<path d="M331.06,113.30L331.06,115.90" stroke="#777" stroke-width="0.6"/>
<path d="M332.34,113.30L332.34,115.90" stroke="#777" stroke-width="0.6"/>
<path d="M333.42,113.30L333.42,115.90" stroke="#777" stroke-width="0.6"/>
<path d="M334.36,113.30L334.36,115.90" stroke="#777" stroke-width="0.6"/>
<path d="M335.18,113.30L335.18,115.90" stroke="#777" stroke-width="0.6"/>
<path d="M274.29,113.30L274.29,115.90" stroke="#666" stroke-width="0.7"/>
<path d="M277.78,113.30L277.78,115.90" stroke="#666" stroke-width="0.7"/>
<path d="M284.17,113.30L284.17,115.90" stroke="#666" stroke-width="0.7"/>
<path d="M285.56,113.30L285.56,115.90" stroke="#666" stroke-width="0.7"/>
<text transform="translate(267.70,55.40) scale(1.14,1)" font-size="5.5" text-anchor="end" fill="#1e1e1e">10<tspan font-size="3.9" dy="-2.3">5</tspan></text>
<text transform="translate(267.70,69.90) scale(1.14,1)" font-size="5.5" text-anchor="end" fill="#1e1e1e">10<tspan font-size="3.9" dy="-2.3">4</tspan></text>
<text transform="translate(267.70,84.70) scale(1.14,1)" font-size="5.5" text-anchor="end" fill="#1e1e1e">10<tspan font-size="3.9" dy="-2.3">3</tspan></text>
<text transform="translate(267.70,100.90) scale(1.14,1)" font-size="5.5" text-anchor="end" fill="#1e1e1e">10<tspan font-size="3.9" dy="-2.3">2</tspan></text>
<text transform="translate(267.10,110.00) scale(1.14,1)" font-size="5.5" text-anchor="end" fill="#1e1e1e">0</text>
<text transform="translate(280.78,125.10) scale(1.14,1)" font-size="5.5" fill="#1e1e1e">0</text>
<text transform="translate(283.37,125.10) scale(1.14,1)" font-size="5.5" text-anchor="start" fill="#1e1e1e">10<tspan font-size="3.9" dy="-2.3">2</tspan></text>
<text transform="translate(298.33,125.10) scale(1.14,1)" font-size="5.5" text-anchor="start" fill="#1e1e1e">10<tspan font-size="3.9" dy="-2.3">3</tspan></text>
<text transform="translate(315.78,125.10) scale(1.14,1)" font-size="5.5" text-anchor="start" fill="#1e1e1e">10<tspan font-size="3.9" dy="-2.3">4</tspan></text>
<text transform="translate(332.03,125.10) scale(1.14,1)" font-size="5.5" text-anchor="start" fill="#1e1e1e">10<tspan font-size="3.9" dy="-2.3">5</tspan></text>
<text transform="translate(300.92,69.90) scale(1.08,1.0)" font-size="5.8" text-anchor="start" fill="#1c1c1c" stroke="#1c1c1c" stroke-width="0.2">Q1</text>
<text transform="translate(323.20,69.90) scale(1.08,1.0)" font-size="5.8" text-anchor="start" fill="#1c1c1c" stroke="#1c1c1c" stroke-width="0.2">Q2</text>
<text transform="translate(323.70,86.90) scale(1.08,1.0)" font-size="5.8" text-anchor="start" fill="#1c1c1c" stroke="#1c1c1c" stroke-width="0.2">Q4</text>
<text transform="translate(300.92,86.90) scale(1.08,1.0)" font-size="5.8" text-anchor="start" fill="#1a3d1c" stroke="#1a3d1c" stroke-width="0.2">Q3</text>
<text transform="translate(340.90,56.80)" font-size="8.0" text-anchor="end" fill="#1c1c1c" stroke="#1c1c1c" stroke-width="0.2">1.8%</text>
<path d="M252.20,112.50L252.20,132.70" stroke="#1a1a1a" stroke-width="1.0"/>
<path d="M252.20,132.70L269.60,132.70" stroke="#1a1a1a" stroke-width="1.0"/>
<path d="M250.00,113.90L252.20,109.50L254.40,113.90Z" fill="#1a1a1a"/>
<path d="M267.50,130.60L271.90,132.70L267.50,134.80Z" fill="#1a1a1a"/>
<text transform="translate(275.10,135.40) scale(0.77,1.05)" font-size="7.0" text-anchor="start" font-weight="bold" fill="#222">H3Cit-alexa488</text>
<text transform="translate(254.10,94.30) rotate(-90) scale(0.98,1.18)" font-size="6.0" text-anchor="middle" font-weight="bold" fill="#222">MP0-PE</text>
<path d="M53.50,239.00V173.50H124.70V239.00" fill="none" stroke="#8a8a8a" stroke-width="1.1"/>
<path d="M53.50,173.50L53.50,239.00" stroke="#6a6a6a" stroke-width="1.1"/>
<path d="M53.50,239.00L124.70,239.00" stroke="#6a6a6a" stroke-width="1.1"/>
<path d="M98.30,173.50L98.30,239.00" stroke="#666" stroke-width="1.0"/>
<path d="M53.50,204.30L124.70,204.30" stroke="#666" stroke-width="1.0"/>
<path d="M72.7 235.7h0.8v0.8h-0.8zM108.5 187.4h0.8v0.8h-0.8zM93.0 218.7h0.8v0.8h-0.8zM73.8 221.4h0.8v0.8h-0.8zM74.6 214.6h0.8v0.8h-0.8zM77.0 234.5h0.8v0.8h-0.8zM97.4 194.4h0.8v0.8h-0.8zM81.4 206.6h0.8v0.8h-0.8zM91.5 221.3h0.8v0.8h-0.8zM71.6 225.3h0.8v0.8h-0.8zM104.2 187.6h0.8v0.8h-0.8zM92.2 199.0h0.8v0.8h-0.8zM94.8 198.6h0.8v0.8h-0.8zM87.5 202.6h0.8v0.8h-0.8zM104.1 196.4h0.8v0.8h-0.8zM104.3 190.0h0.8v0.8h-0.8zM99.0 202.8h0.8v0.8h-0.8zM88.4 226.4h0.8v0.8h-0.8zM73.3 219.5h0.8v0.8h-0.8zM108.5 186.0h0.8v0.8h-0.8zM106.8 187.6h0.8v0.8h-0.8zM67.5 233.3h0.8v0.8h-0.8zM71.7 234.6h0.8v0.8h-0.8zM109.4 190.4h0.8v0.8h-0.8zM103.8 189.4h0.8v0.8h-0.8zM84.5 232.1h0.8v0.8h-0.8zM109.3 191.0h0.8v0.8h-0.8zM68.6 233.3h0.8v0.8h-0.8zM70.5 223.4h0.8v0.8h-0.8zM73.2 218.5h0.8v0.8h-0.8zM90.4 222.3h0.8v0.8h-0.8zM67.0 229.8h0.8v0.8h-0.8zM67.5 229.0h0.8v0.8h-0.8zM74.0 235.9h0.8v0.8h-0.8zM102.5 189.6h0.8v0.8h-0.8zM108.8 187.7h0.8v0.8h-0.8zM72.5 221.7h0.8v0.8h-0.8zM66.9 232.6h0.8v0.8h-0.8zM67.0 230.0h0.8v0.8h-0.8zM79.4 210.3h0.8v0.8h-0.8zM107.5 192.1h0.8v0.8h-0.8zM80.1 234.1h0.8v0.8h-0.8zM90.9 223.9h0.8v0.8h-0.8zM86.6 204.5h0.8v0.8h-0.8zM66.6 229.8h0.8v0.8h-0.8zM91.6 221.8h0.8v0.8h-0.8zM67.9 232.7h0.8v0.8h-0.8zM91.9 219.5h0.8v0.8h-0.8zM77.5 235.7h0.8v0.8h-0.8zM87.1 202.4h0.8v0.8h-0.8zM102.2 200.3h0.8v0.8h-0.8zM97.0 210.6h0.8v0.8h-0.8zM81.6 208.6h0.8v0.8h-0.8zM101.0 202.0h0.8v0.8h-0.8zM71.2 234.3h0.8v0.8h-0.8zM99.6 191.8h0.8v0.8h-0.8zM83.3 232.5h0.8v0.8h-0.8zM83.6 232.2h0.8v0.8h-0.8zM84.5 232.1h0.8v0.8h-0.8zM95.1 213.6h0.8v0.8h-0.8zM99.9 205.4h0.8v0.8h-0.8zM78.8 236.0h0.8v0.8h-0.8zM80.5 233.7h0.8v0.8h-0.8zM81.4 207.8h0.8v0.8h-0.8zM94.8 212.8h0.8v0.8h-0.8zM85.9 204.3h0.8v0.8h-0.8zM104.5 194.4h0.8v0.8h-0.8zM69.2 226.4h0.8v0.8h-0.8zM90.5 199.9h0.8v0.8h-0.8zM74.0 216.2h0.8v0.8h-0.8zM82.5 207.5h0.8v0.8h-0.8zM88.9 201.9h0.8v0.8h-0.8zM72.9 219.6h0.8v0.8h-0.8zM69.8 226.8h0.8v0.8h-0.8zM76.0 213.3h0.8v0.8h-0.8zM102.1 197.2h0.8v0.8h-0.8zM100.6 203.5h0.8v0.8h-0.8zM92.0 198.7h0.8v0.8h-0.8zM73.3 222.2h0.8v0.8h-0.8zM103.8 188.0h0.8v0.8h-0.8zM108.0 190.5h0.8v0.8h-0.8zM72.9 219.2h0.8v0.8h-0.8zM69.2 225.4h0.8v0.8h-0.8zM109.4 186.7h0.8v0.8h-0.8zM86.0 230.5h0.8v0.8h-0.8zM96.0 213.4h0.8v0.8h-0.8zM90.2 224.9h0.8v0.8h-0.8zM76.8 210.7h0.8v0.8h-0.8zM104.2 195.0h0.8v0.8h-0.8zM70.6 226.5h0.8v0.8h-0.8zM76.2 236.4h0.8v0.8h-0.8zM97.0 207.6h0.8v0.8h-0.8zM82.7 207.0h0.8v0.8h-0.8zM88.6 201.3h0.8v0.8h-0.8zM87.1 229.1h0.8v0.8h-0.8zM76.0 213.1h0.8v0.8h-0.8zM96.3 195.1h0.8v0.8h-0.8zM75.8 236.7h0.8v0.8h-0.8zM90.9 199.2h0.8v0.8h-0.8zM102.9 197.0h0.8v0.8h-0.8zM93.4 199.1h0.8v0.8h-0.8zM81.0 208.5h0.8v0.8h-0.8zM100.9 202.2h0.8v0.8h-0.8zM95.0 196.9h0.8v0.8h-0.8zM103.4 198.7h0.8v0.8h-0.8zM86.3 204.3h0.8v0.8h-0.8zM110.0 187.6h0.8v0.8h-0.8zM93.4 217.9h0.8v0.8h-0.8zM81.5 232.9h0.8v0.8h-0.8zM110.2 186.7h0.8v0.8h-0.8zM65.8 231.9h0.8v0.8h-0.8zM67.1 231.5h0.8v0.8h-0.8zM66.8 233.0h0.8v0.8h-0.8zM68.3 230.8h0.8v0.8h-0.8zM67.0 231.7h0.8v0.8h-0.8zM69.6 230.2h0.8v0.8h-0.8zM66.1 234.4h0.8v0.8h-0.8zM69.8 228.0h0.8v0.8h-0.8zM64.8 233.6h0.8v0.8h-0.8zM64.5 233.1h0.8v0.8h-0.8zM67.9 232.9h0.8v0.8h-0.8zM70.2 231.6h0.8v0.8h-0.8zM68.2 228.9h0.8v0.8h-0.8zM67.8 233.4h0.8v0.8h-0.8zM65.8 232.5h0.8v0.8h-0.8zM68.2 234.3h0.8v0.8h-0.8zM66.5 231.9h0.8v0.8h-0.8zM67.6 232.4h0.8v0.8h-0.8zM70.2 228.4h0.8v0.8h-0.8zM70.0 232.8h0.8v0.8h-0.8zM66.0 234.5h0.8v0.8h-0.8zM70.1 235.6h0.8v0.8h-0.8zM65.6 234.7h0.8v0.8h-0.8zM66.3 235.2h0.8v0.8h-0.8zM67.5 233.8h0.8v0.8h-0.8zM108.0 187.3h0.8v0.8h-0.8zM111.9 184.9h0.8v0.8h-0.8zM106.9 187.8h0.8v0.8h-0.8zM109.0 188.5h0.8v0.8h-0.8zM111.6 186.4h0.8v0.8h-0.8zM111.7 186.3h0.8v0.8h-0.8zM108.5 186.4h0.8v0.8h-0.8zM107.7 190.0h0.8v0.8h-0.8zM109.3 188.0h0.8v0.8h-0.8zM111.4 187.2h0.8v0.8h-0.8zM111.1 184.3h0.8v0.8h-0.8zM106.0 189.2h0.8v0.8h-0.8zM111.5 186.9h0.8v0.8h-0.8zM110.3 188.1h0.8v0.8h-0.8zM110.8 184.9h0.8v0.8h-0.8zM110.0 185.6h0.8v0.8h-0.8zM112.5 185.1h0.8v0.8h-0.8zM111.2 184.9h0.8v0.8h-0.8zM108.9 189.0h0.8v0.8h-0.8zM107.8 188.0h0.8v0.8h-0.8zM111.7 186.8h0.8v0.8h-0.8zM107.1 190.3h0.8v0.8h-0.8zM108.8 186.3h0.8v0.8h-0.8zM110.3 185.6h0.8v0.8h-0.8zM109.3 188.8h0.8v0.8h-0.8zM106.8 188.7h0.8v0.8h-0.8zM105.7 189.0h0.8v0.8h-0.8zM108.0 188.1h0.8v0.8h-0.8zM106.5 189.4h0.8v0.8h-0.8zM111.7 186.2h0.8v0.8h-0.8zM106.4 188.6h0.8v0.8h-0.8zM112.7 184.7h0.8v0.8h-0.8zM112.2 186.6h0.8v0.8h-0.8zM108.3 189.0h0.8v0.8h-0.8zM108.5 187.3h0.8v0.8h-0.8z" fill="#86c286" opacity="0.75"/><path d="M68.4,231.5L71.7,233.7L78.7,234.3L84.6,229.6L88.7,222.5L88.7,222.4L93.5,212.9L93.5,212.9L97.1,205.1L97.1,205.0L101.3,197.3L101.4,197.2L101.4,197.2L106.1,191.2L106.2,191.2L108.8,188.5L107.7,188.1L101.8,192.8L101.8,192.8L95.9,198.8L95.8,198.8L95.7,198.9L88.6,203.6L88.6,203.6L82.6,208.4L82.6,208.4L77.9,213.2L73.7,222.7L73.6,222.8L70.1,228.8L68.4,231.5Z" fill="#287c2f"/><path d="M101.5 195.5h0.9v0.9h-0.9zM76.7 233.6h0.9v0.9h-0.9zM89.8 221.1h0.9v0.9h-0.9zM91.5 216.9h0.9v0.9h-0.9zM95.8 210.6h0.9v0.9h-0.9zM70.9 232.5h0.9v0.9h-0.9zM77.6 233.6h0.9v0.9h-0.9zM77.2 212.9h0.9v0.9h-0.9zM79.3 210.2h0.9v0.9h-0.9zM107.1 188.0h0.9v0.9h-0.9zM93.9 199.5h0.9v0.9h-0.9zM105.5 193.5h0.9v0.9h-0.9zM90.3 219.5h0.9v0.9h-0.9zM79.8 209.9h0.9v0.9h-0.9zM84.4 207.3h0.9v0.9h-0.9zM99.2 202.0h0.9v0.9h-0.9zM106.3 192.1h0.9v0.9h-0.9zM69.2 230.9h0.9v0.9h-0.9zM82.6 231.8h0.9v0.9h-0.9zM107.4 189.9h0.9v0.9h-0.9zM80.7 231.8h0.9v0.9h-0.9zM77.3 215.5h0.9v0.9h-0.9zM94.8 209.2h0.9v0.9h-0.9zM96.1 208.1h0.9v0.9h-0.9zM82.9 209.4h0.9v0.9h-0.9zM107.2 191.4h0.9v0.9h-0.9zM76.7 234.9h0.9v0.9h-0.9zM96.2 205.3h0.9v0.9h-0.9zM68.5 230.7h0.9v0.9h-0.9zM95.6 209.7h0.9v0.9h-0.9zM100.5 200.2h0.9v0.9h-0.9zM100.6 192.4h0.9v0.9h-0.9zM89.3 203.6h0.9v0.9h-0.9zM79.4 234.5h0.9v0.9h-0.9zM108.2 188.8h0.9v0.9h-0.9zM94.4 210.4h0.9v0.9h-0.9zM96.5 204.4h0.9v0.9h-0.9zM97.4 204.5h0.9v0.9h-0.9zM102.3 191.3h0.9v0.9h-0.9zM98.9 203.2h0.9v0.9h-0.9zM93.4 212.0h0.9v0.9h-0.9zM103.2 195.6h0.9v0.9h-0.9zM76.4 213.9h0.9v0.9h-0.9zM92.6 201.5h0.9v0.9h-0.9zM73.9 221.3h0.9v0.9h-0.9zM103.6 192.9h0.9v0.9h-0.9zM73.3 233.9h0.9v0.9h-0.9zM99.4 195.9h0.9v0.9h-0.9zM76.6 235.0h0.9v0.9h-0.9zM85.8 207.0h0.9v0.9h-0.9zM95.3 206.8h0.9v0.9h-0.9zM101.1 199.2h0.9v0.9h-0.9zM104.4 193.1h0.9v0.9h-0.9zM81.9 209.1h0.9v0.9h-0.9zM103.7 190.9h0.9v0.9h-0.9zM78.6 234.7h0.9v0.9h-0.9zM87.2 223.5h0.9v0.9h-0.9zM69.6 227.4h0.9v0.9h-0.9zM103.5 195.1h0.9v0.9h-0.9zM81.7 232.7h0.9v0.9h-0.9zM101.6 192.8h0.9v0.9h-0.9zM91.9 215.1h0.9v0.9h-0.9zM75.5 234.9h0.9v0.9h-0.9zM86.9 226.3h0.9v0.9h-0.9zM99.9 199.2h0.9v0.9h-0.9zM101.1 192.8h0.9v0.9h-0.9zM78.9 233.7h0.9v0.9h-0.9zM73.2 225.2h0.9v0.9h-0.9zM101.1 199.3h0.9v0.9h-0.9zM86.6 205.5h0.9v0.9h-0.9zM75.7 219.7h0.9v0.9h-0.9zM100.2 201.0h0.9v0.9h-0.9zM75.9 215.5h0.9v0.9h-0.9zM88.0 224.3h0.9v0.9h-0.9zM69.2 228.4h0.9v0.9h-0.9zM78.9 210.7h0.9v0.9h-0.9zM89.0 220.2h0.9v0.9h-0.9zM99.0 200.7h0.9v0.9h-0.9zM101.7 192.9h0.9v0.9h-0.9zM101.4 198.7h0.9v0.9h-0.9zM85.6 228.2h0.9v0.9h-0.9zM78.4 213.9h0.9v0.9h-0.9zM101.7 197.9h0.9v0.9h-0.9zM71.5 233.7h0.9v0.9h-0.9zM75.8 234.5h0.9v0.9h-0.9zM69.4 230.9h0.9v0.9h-0.9zM70.8 226.3h0.9v0.9h-0.9zM102.7 192.3h0.9v0.9h-0.9zM85.4 227.3h0.9v0.9h-0.9zM82.0 230.7h0.9v0.9h-0.9zM84.0 207.8h0.9v0.9h-0.9zM100.2 200.3h0.9v0.9h-0.9zM91.0 217.6h0.9v0.9h-0.9zM87.9 222.4h0.9v0.9h-0.9zM84.4 206.5h0.9v0.9h-0.9zM99.7 199.8h0.9v0.9h-0.9zM102.6 194.6h0.9v0.9h-0.9zM81.0 210.4h0.9v0.9h-0.9zM90.4 202.7h0.9v0.9h-0.9zM74.8 234.4h0.9v0.9h-0.9zM102.8 193.1h0.9v0.9h-0.9zM73.2 222.4h0.9v0.9h-0.9zM98.2 204.8h0.9v0.9h-0.9zM103.0 191.0h0.9v0.9h-0.9zM99.6 200.3h0.9v0.9h-0.9zM108.1 190.2h0.9v0.9h-0.9zM94.1 209.7h0.9v0.9h-0.9zM100.0 199.7h0.9v0.9h-0.9zM88.5 223.7h0.9v0.9h-0.9zM97.7 205.8h0.9v0.9h-0.9zM101.5 196.9h0.9v0.9h-0.9zM96.7 207.9h0.9v0.9h-0.9zM84.7 207.7h0.9v0.9h-0.9zM91.6 218.0h0.9v0.9h-0.9zM105.0 189.2h0.9v0.9h-0.9zM79.8 209.7h0.9v0.9h-0.9zM77.0 217.2h0.9v0.9h-0.9zM105.2 191.5h0.9v0.9h-0.9zM96.1 205.6h0.9v0.9h-0.9zM87.1 224.4h0.9v0.9h-0.9zM72.3 233.9h0.9v0.9h-0.9zM71.1 232.7h0.9v0.9h-0.9zM85.6 226.7h0.9v0.9h-0.9zM101.2 193.5h0.9v0.9h-0.9zM88.5 223.5h0.9v0.9h-0.9zM104.6 189.9h0.9v0.9h-0.9zM73.2 225.3h0.9v0.9h-0.9zM76.3 214.2h0.9v0.9h-0.9zM101.3 197.0h0.9v0.9h-0.9zM87.3 225.9h0.9v0.9h-0.9zM77.5 212.3h0.9v0.9h-0.9zM78.4 213.1h0.9v0.9h-0.9zM98.3 202.6h0.9v0.9h-0.9zM75.5 220.2h0.9v0.9h-0.9zM91.5 202.3h0.9v0.9h-0.9zM81.3 232.4h0.9v0.9h-0.9zM98.7 201.1h0.9v0.9h-0.9zM77.4 214.5h0.9v0.9h-0.9zM78.8 233.3h0.9v0.9h-0.9zM96.1 205.6h0.9v0.9h-0.9zM108.2 188.3h0.9v0.9h-0.9zM76.2 233.4h0.9v0.9h-0.9zM81.2 233.3h0.9v0.9h-0.9zM69.0 228.5h0.9v0.9h-0.9zM93.6 214.4h0.9v0.9h-0.9zM95.0 198.8h0.9v0.9h-0.9zM70.7 232.7h0.9v0.9h-0.9zM73.6 221.7h0.9v0.9h-0.9zM75.0 217.4h0.9v0.9h-0.9zM95.6 208.6h0.9v0.9h-0.9zM107.3 190.3h0.9v0.9h-0.9zM90.6 219.7h0.9v0.9h-0.9zM96.0 207.8h0.9v0.9h-0.9zM79.5 212.7h0.9v0.9h-0.9zM90.8 217.1h0.9v0.9h-0.9zM98.6 204.1h0.9v0.9h-0.9zM73.2 221.4h0.9v0.9h-0.9zM104.2 189.9h0.9v0.9h-0.9zM97.7 204.6h0.9v0.9h-0.9zM99.6 200.4h0.9v0.9h-0.9zM94.4 200.4h0.9v0.9h-0.9zM89.8 219.0h0.9v0.9h-0.9zM70.5 233.7h0.9v0.9h-0.9zM87.1 205.7h0.9v0.9h-0.9zM100.0 195.2h0.9v0.9h-0.9zM76.3 215.7h0.9v0.9h-0.9zM71.5 226.8h0.9v0.9h-0.9zM86.2 226.8h0.9v0.9h-0.9zM78.4 213.1h0.9v0.9h-0.9zM101.3 193.2h0.9v0.9h-0.9zM76.9 214.4h0.9v0.9h-0.9zM87.6 204.4h0.9v0.9h-0.9zM70.5 229.6h0.9v0.9h-0.9zM108.0 189.7h0.9v0.9h-0.9zM95.0 199.3h0.9v0.9h-0.9zM84.6 207.6h0.9v0.9h-0.9zM93.1 215.5h0.9v0.9h-0.9zM68.9 229.7h0.9v0.9h-0.9zM93.0 214.7h0.9v0.9h-0.9zM100.6 193.8h0.9v0.9h-0.9zM95.4 199.6h0.9v0.9h-0.9zM75.3 216.5h0.9v0.9h-0.9zM81.5 208.9h0.9v0.9h-0.9zM71.3 233.1h0.9v0.9h-0.9zM106.6 188.3h0.9v0.9h-0.9zM70.8 232.6h0.9v0.9h-0.9zM74.6 221.5h0.9v0.9h-0.9zM68.0 231.3h0.9v0.9h-0.9zM73.8 221.2h0.9v0.9h-0.9zM94.0 200.7h0.9v0.9h-0.9zM97.3 196.1h0.9v0.9h-0.9zM78.1 213.5h0.9v0.9h-0.9zM83.8 208.7h0.9v0.9h-0.9zM77.3 215.2h0.9v0.9h-0.9zM75.8 217.0h0.9v0.9h-0.9zM98.5 195.9h0.9v0.9h-0.9zM77.4 212.6h0.9v0.9h-0.9zM80.6 209.8h0.9v0.9h-0.9zM74.7 221.8h0.9v0.9h-0.9zM96.8 196.9h0.9v0.9h-0.9zM65.6 231.7h0.9v0.9h-0.9zM65.0 231.9h0.9v0.9h-0.9zM66.4 234.5h0.9v0.9h-0.9zM67.7 234.3h0.9v0.9h-0.9zM68.6 232.4h0.9v0.9h-0.9zM69.8 234.4h0.9v0.9h-0.9zM69.9 232.8h0.9v0.9h-0.9zM64.8 234.9h0.9v0.9h-0.9zM68.4 231.5h0.9v0.9h-0.9zM70.2 228.7h0.9v0.9h-0.9zM110.8 185.9h0.9v0.9h-0.9zM109.7 187.0h0.9v0.9h-0.9zM109.1 187.9h0.9v0.9h-0.9zM112.7 186.1h0.9v0.9h-0.9zM112.5 185.1h0.9v0.9h-0.9zM109.2 187.4h0.9v0.9h-0.9zM108.4 188.3h0.9v0.9h-0.9zM110.5 186.4h0.9v0.9h-0.9zM107.6 189.4h0.9v0.9h-0.9zM109.3 188.7h0.9v0.9h-0.9z" fill="#1c6523"/><path d="M78.1 221.5h1.0v1.0h-1.0zM87.5 221.2h1.0v1.0h-1.0zM101.8 195.0h1.0v1.0h-1.0zM81.4 230.7h1.0v1.0h-1.0zM75.2 227.2h1.0v1.0h-1.0zM82.9 223.5h1.0v1.0h-1.0zM75.5 222.2h1.0v1.0h-1.0zM95.9 203.6h1.0v1.0h-1.0zM75.0 230.9h1.0v1.0h-1.0zM72.1 229.0h1.0v1.0h-1.0zM103.1 193.7h1.0v1.0h-1.0zM103.1 193.6h1.0v1.0h-1.0zM82.8 223.9h1.0v1.0h-1.0zM89.2 217.3h1.0v1.0h-1.0zM87.2 207.6h1.0v1.0h-1.0zM80.4 215.2h1.0v1.0h-1.0zM80.1 226.4h1.0v1.0h-1.0zM95.1 204.6h1.0v1.0h-1.0zM97.5 198.9h1.0v1.0h-1.0zM93.2 206.5h1.0v1.0h-1.0zM85.4 208.4h1.0v1.0h-1.0zM87.4 220.8h1.0v1.0h-1.0zM91.4 211.0h1.0v1.0h-1.0zM94.3 204.5h1.0v1.0h-1.0zM89.0 207.7h1.0v1.0h-1.0zM86.6 220.2h1.0v1.0h-1.0zM97.8 201.9h1.0v1.0h-1.0zM88.7 211.3h1.0v1.0h-1.0zM89.8 209.5h1.0v1.0h-1.0zM78.5 223.9h1.0v1.0h-1.0zM81.8 212.9h1.0v1.0h-1.0zM84.3 223.6h1.0v1.0h-1.0zM77.4 230.7h1.0v1.0h-1.0zM85.5 224.4h1.0v1.0h-1.0zM90.8 215.6h1.0v1.0h-1.0zM96.0 201.3h1.0v1.0h-1.0zM89.7 207.2h1.0v1.0h-1.0zM96.0 200.6h1.0v1.0h-1.0zM79.0 228.2h1.0v1.0h-1.0zM78.5 214.5h1.0v1.0h-1.0zM97.2 198.8h1.0v1.0h-1.0zM79.3 219.9h1.0v1.0h-1.0zM79.0 227.3h1.0v1.0h-1.0zM91.4 204.5h1.0v1.0h-1.0zM85.8 223.0h1.0v1.0h-1.0zM74.7 225.6h1.0v1.0h-1.0zM83.1 220.3h1.0v1.0h-1.0zM88.3 208.3h1.0v1.0h-1.0zM87.4 211.1h1.0v1.0h-1.0zM71.1 231.5h1.0v1.0h-1.0zM92.7 210.2h1.0v1.0h-1.0zM96.6 201.6h1.0v1.0h-1.0zM87.3 216.4h1.0v1.0h-1.0zM84.3 208.2h1.0v1.0h-1.0zM87.6 218.9h1.0v1.0h-1.0zM85.4 212.8h1.0v1.0h-1.0zM82.0 214.4h1.0v1.0h-1.0zM79.3 219.0h1.0v1.0h-1.0zM86.0 211.6h1.0v1.0h-1.0zM77.8 232.7h1.0v1.0h-1.0zM74.0 227.6h1.0v1.0h-1.0zM94.0 201.4h1.0v1.0h-1.0zM79.4 226.4h1.0v1.0h-1.0zM91.1 211.5h1.0v1.0h-1.0zM75.0 230.6h1.0v1.0h-1.0zM82.4 220.1h1.0v1.0h-1.0zM80.7 211.8h1.0v1.0h-1.0zM90.8 207.2h1.0v1.0h-1.0zM78.2 233.3h1.0v1.0h-1.0zM79.1 219.4h1.0v1.0h-1.0zM83.5 211.2h1.0v1.0h-1.0zM93.5 203.0h1.0v1.0h-1.0zM85.6 216.9h1.0v1.0h-1.0zM85.1 223.3h1.0v1.0h-1.0zM88.4 206.5h1.0v1.0h-1.0zM93.9 205.1h1.0v1.0h-1.0zM74.9 232.3h1.0v1.0h-1.0zM84.0 209.3h1.0v1.0h-1.0zM97.8 200.2h1.0v1.0h-1.0zM86.4 212.1h1.0v1.0h-1.0zM89.5 204.9h1.0v1.0h-1.0zM82.0 221.2h1.0v1.0h-1.0zM87.2 209.7h1.0v1.0h-1.0zM76.6 219.8h1.0v1.0h-1.0zM84.1 222.1h1.0v1.0h-1.0zM86.9 215.6h1.0v1.0h-1.0zM91.2 207.3h1.0v1.0h-1.0zM82.0 226.5h1.0v1.0h-1.0zM74.9 226.5h1.0v1.0h-1.0zM86.3 212.8h1.0v1.0h-1.0z" fill="#15521b" opacity="0.8"/><path d="M84.2 213.2h0.9v0.9h-0.9zM89.5 209.6h0.9v0.9h-0.9zM84.0 228.1h0.9v0.9h-0.9zM88.0 216.3h0.9v0.9h-0.9zM99.3 199.1h0.9v0.9h-0.9zM72.0 226.8h0.9v0.9h-0.9zM85.6 207.6h0.9v0.9h-0.9zM89.9 208.1h0.9v0.9h-0.9zM83.3 215.0h0.9v0.9h-0.9zM97.1 201.7h0.9v0.9h-0.9zM81.8 223.6h0.9v0.9h-0.9zM75.0 225.7h0.9v0.9h-0.9zM89.6 209.4h0.9v0.9h-0.9zM85.7 206.8h0.9v0.9h-0.9zM81.4 218.7h0.9v0.9h-0.9zM93.3 204.3h0.9v0.9h-0.9zM86.2 207.6h0.9v0.9h-0.9zM79.9 226.8h0.9v0.9h-0.9zM85.3 212.5h0.9v0.9h-0.9zM81.2 218.5h0.9v0.9h-0.9zM83.5 227.5h0.9v0.9h-0.9zM88.2 219.3h0.9v0.9h-0.9zM83.1 213.2h0.9v0.9h-0.9zM71.8 233.0h0.9v0.9h-0.9zM93.4 205.5h0.9v0.9h-0.9zM80.2 230.4h0.9v0.9h-0.9zM89.8 213.3h0.9v0.9h-0.9zM82.9 215.3h0.9v0.9h-0.9zM72.6 231.6h0.9v0.9h-0.9zM87.1 212.3h0.9v0.9h-0.9zM87.0 219.0h0.9v0.9h-0.9zM92.1 205.2h0.9v0.9h-0.9zM93.0 208.6h0.9v0.9h-0.9zM85.9 213.1h0.9v0.9h-0.9zM76.8 223.1h0.9v0.9h-0.9zM84.3 228.6h0.9v0.9h-0.9zM94.1 204.7h0.9v0.9h-0.9zM83.0 220.5h0.9v0.9h-0.9zM86.8 211.3h0.9v0.9h-0.9zM86.4 207.0h0.9v0.9h-0.9zM71.5 231.7h0.9v0.9h-0.9zM90.4 209.9h0.9v0.9h-0.9zM83.3 214.8h0.9v0.9h-0.9zM69.8 231.6h0.9v0.9h-0.9zM82.9 217.2h0.9v0.9h-0.9zM78.6 224.4h0.9v0.9h-0.9zM84.3 213.9h0.9v0.9h-0.9zM92.0 204.4h0.9v0.9h-0.9zM83.6 223.0h0.9v0.9h-0.9zM88.6 207.4h0.9v0.9h-0.9zM81.4 218.0h0.9v0.9h-0.9zM74.1 232.9h0.9v0.9h-0.9zM78.2 221.2h0.9v0.9h-0.9zM75.6 231.8h0.9v0.9h-0.9zM99.0 198.9h0.9v0.9h-0.9zM86.1 222.1h0.9v0.9h-0.9zM92.7 212.6h0.9v0.9h-0.9zM95.9 199.7h0.9v0.9h-0.9zM91.2 214.7h0.9v0.9h-0.9zM81.9 216.1h0.9v0.9h-0.9zM91.2 213.6h0.9v0.9h-0.9zM91.9 213.1h0.9v0.9h-0.9zM78.7 220.2h0.9v0.9h-0.9zM75.5 228.5h0.9v0.9h-0.9zM78.6 222.2h0.9v0.9h-0.9zM82.0 219.6h0.9v0.9h-0.9zM76.7 219.4h0.9v0.9h-0.9zM83.7 228.6h0.9v0.9h-0.9zM94.6 206.5h0.9v0.9h-0.9zM93.6 208.9h0.9v0.9h-0.9z" fill="#63aa63" opacity="0.8"/>
<path d="M50.50,179.47L53.50,179.47" stroke="#444" stroke-width="1.0"/>
<path d="M50.50,193.91L53.50,193.91" stroke="#444" stroke-width="1.0"/>
<path d="M50.50,208.64L53.50,208.64" stroke="#444" stroke-width="1.0"/>
<path d="M50.50,224.77L53.50,224.77" stroke="#444" stroke-width="1.0"/>
<path d="M50.50,233.53L53.50,233.53" stroke="#444" stroke-width="1.0"/>
<path d="M51.30,189.56L53.50,189.56" stroke="#777" stroke-width="0.6"/>
<path d="M51.30,187.02L53.50,187.02" stroke="#777" stroke-width="0.6"/>
<path d="M51.30,185.22L53.50,185.22" stroke="#777" stroke-width="0.6"/>
<path d="M51.30,183.82L53.50,183.82" stroke="#777" stroke-width="0.6"/>
<path d="M51.30,182.67L53.50,182.67" stroke="#777" stroke-width="0.6"/>
<path d="M51.30,181.71L53.50,181.71" stroke="#777" stroke-width="0.6"/>
<path d="M51.30,180.87L53.50,180.87" stroke="#777" stroke-width="0.6"/>
<path d="M51.30,180.13L53.50,180.13" stroke="#777" stroke-width="0.6"/>
<path d="M51.30,204.20L53.50,204.20" stroke="#777" stroke-width="0.6"/>
<path d="M51.30,201.61L53.50,201.61" stroke="#777" stroke-width="0.6"/>
<path d="M51.30,199.77L53.50,199.77" stroke="#777" stroke-width="0.6"/>
<path d="M51.30,198.34L53.50,198.34" stroke="#777" stroke-width="0.6"/>
<path d="M51.30,197.17L53.50,197.17" stroke="#777" stroke-width="0.6"/>
<path d="M51.30,196.19L53.50,196.19" stroke="#777" stroke-width="0.6"/>
<path d="M51.30,195.33L53.50,195.33" stroke="#777" stroke-width="0.6"/>
<path d="M51.30,194.58L53.50,194.58" stroke="#777" stroke-width="0.6"/>
<path d="M51.30,219.91L53.50,219.91" stroke="#777" stroke-width="0.6"/>
<path d="M51.30,217.07L53.50,217.07" stroke="#777" stroke-width="0.6"/>
<path d="M51.30,215.06L53.50,215.06" stroke="#777" stroke-width="0.6"/>
<path d="M51.30,213.49L53.50,213.49" stroke="#777" stroke-width="0.6"/>
<path d="M51.30,212.22L53.50,212.22" stroke="#777" stroke-width="0.6"/>
<path d="M51.30,211.14L53.50,211.14" stroke="#777" stroke-width="0.6"/>
<path d="M51.30,210.20L53.50,210.20" stroke="#777" stroke-width="0.6"/>
<path d="M51.30,209.38L53.50,209.38" stroke="#777" stroke-width="0.6"/>
<path d="M51.30,226.76L53.50,226.76" stroke="#777" stroke-width="0.6"/>
<path d="M51.30,228.75L53.50,228.75" stroke="#777" stroke-width="0.6"/>
<path d="M51.30,230.74L53.50,230.74" stroke="#777" stroke-width="0.6"/>
<path d="M51.30,236.01L53.50,236.01" stroke="#777" stroke-width="0.6"/>
<path d="M51.30,237.81L53.50,237.81" stroke="#777" stroke-width="0.6"/>
<path d="M63.51,239.00L63.51,242.20" stroke="#444" stroke-width="1.0"/>
<path d="M68.52,239.00L68.52,242.20" stroke="#444" stroke-width="1.0"/>
<path d="M84.74,239.00L84.74,242.20" stroke="#444" stroke-width="1.0"/>
<path d="M101.07,239.00L101.07,242.20" stroke="#444" stroke-width="1.0"/>
<path d="M117.29,239.00L117.29,242.20" stroke="#444" stroke-width="1.0"/>
<path d="M73.40,239.00L73.40,241.60" stroke="#777" stroke-width="0.6"/>
<path d="M76.26,239.00L76.26,241.60" stroke="#777" stroke-width="0.6"/>
<path d="M78.29,239.00L78.29,241.60" stroke="#777" stroke-width="0.6"/>
<path d="M79.86,239.00L79.86,241.60" stroke="#777" stroke-width="0.6"/>
<path d="M81.14,239.00L81.14,241.60" stroke="#777" stroke-width="0.6"/>
<path d="M82.23,239.00L82.23,241.60" stroke="#777" stroke-width="0.6"/>
<path d="M83.17,239.00L83.17,241.60" stroke="#777" stroke-width="0.6"/>
<path d="M84.00,239.00L84.00,241.60" stroke="#777" stroke-width="0.6"/>
<path d="M89.66,239.00L89.66,241.60" stroke="#777" stroke-width="0.6"/>
<path d="M92.53,239.00L92.53,241.60" stroke="#777" stroke-width="0.6"/>
<path d="M94.57,239.00L94.57,241.60" stroke="#777" stroke-width="0.6"/>
<path d="M96.15,239.00L96.15,241.60" stroke="#777" stroke-width="0.6"/>
<path d="M97.45,239.00L97.45,241.60" stroke="#777" stroke-width="0.6"/>
<path d="M98.54,239.00L98.54,241.60" stroke="#777" stroke-width="0.6"/>
<path d="M99.48,239.00L99.48,241.60" stroke="#777" stroke-width="0.6"/>
<path d="M100.32,239.00L100.32,241.60" stroke="#777" stroke-width="0.6"/>
<path d="M105.95,239.00L105.95,241.60" stroke="#777" stroke-width="0.6"/>
<path d="M108.81,239.00L108.81,241.60" stroke="#777" stroke-width="0.6"/>
<path d="M110.83,239.00L110.83,241.60" stroke="#777" stroke-width="0.6"/>
<path d="M112.41,239.00L112.41,241.60" stroke="#777" stroke-width="0.6"/>
<path d="M113.69,239.00L113.69,241.60" stroke="#777" stroke-width="0.6"/>
<path d="M114.78,239.00L114.78,241.60" stroke="#777" stroke-width="0.6"/>
<path d="M115.72,239.00L115.72,241.60" stroke="#777" stroke-width="0.6"/>
<path d="M116.55,239.00L116.55,241.60" stroke="#777" stroke-width="0.6"/>
<path d="M55.40,239.00L55.40,241.60" stroke="#666" stroke-width="0.7"/>
<path d="M58.91,239.00L58.91,241.60" stroke="#666" stroke-width="0.7"/>
<path d="M65.32,239.00L65.32,241.60" stroke="#666" stroke-width="0.7"/>
<path d="M66.72,239.00L66.72,241.60" stroke="#666" stroke-width="0.7"/>
<text transform="translate(48.80,181.37) scale(1.14,1)" font-size="5.5" text-anchor="end" fill="#1e1e1e">10<tspan font-size="3.9" dy="-2.3">5</tspan></text>
<text transform="translate(48.80,195.81) scale(1.14,1)" font-size="5.5" text-anchor="end" fill="#1e1e1e">10<tspan font-size="3.9" dy="-2.3">4</tspan></text>
<text transform="translate(48.80,210.54) scale(1.14,1)" font-size="5.5" text-anchor="end" fill="#1e1e1e">10<tspan font-size="3.9" dy="-2.3">3</tspan></text>
<text transform="translate(48.80,226.67) scale(1.14,1)" font-size="5.5" text-anchor="end" fill="#1e1e1e">10<tspan font-size="3.9" dy="-2.3">2</tspan></text>
<text transform="translate(48.20,236.21) scale(1.14,1)" font-size="5.5" text-anchor="end" fill="#1e1e1e">0</text>
<text transform="translate(61.91,252.40) scale(1.14,1)" font-size="5.5" fill="#1e1e1e">0</text>
<text transform="translate(64.52,252.40) scale(1.14,1)" font-size="5.5" text-anchor="start" fill="#1e1e1e">10<tspan font-size="3.9" dy="-2.3">2</tspan></text>
<text transform="translate(79.54,252.40) scale(1.14,1)" font-size="5.5" text-anchor="start" fill="#1e1e1e">10<tspan font-size="3.9" dy="-2.3">3</tspan></text>
<text transform="translate(97.06,252.40) scale(1.14,1)" font-size="5.5" text-anchor="start" fill="#1e1e1e">10<tspan font-size="3.9" dy="-2.3">4</tspan></text>
<text transform="translate(113.38,252.40) scale(1.14,1)" font-size="5.5" text-anchor="start" fill="#1e1e1e">10<tspan font-size="3.9" dy="-2.3">5</tspan></text>
<text transform="translate(82.14,197.00) scale(1.08,1.0)" font-size="5.8" text-anchor="start" fill="#1c1c1c" stroke="#1c1c1c" stroke-width="0.2">Q1</text>
<text transform="translate(104.50,197.00) scale(1.08,1.0)" font-size="5.8" text-anchor="start" fill="#1c1c1c" stroke="#1c1c1c" stroke-width="0.2">Q2</text>
<text transform="translate(105.00,214.00) scale(1.08,1.0)" font-size="5.8" text-anchor="start" fill="#1c1c1c" stroke="#1c1c1c" stroke-width="0.2">Q4</text>
<text transform="translate(82.14,214.00) scale(1.08,1.0)" font-size="5.8" text-anchor="start" fill="#1a3d1c" stroke="#1a3d1c" stroke-width="0.2">Q3</text>
<text transform="translate(122.30,182.80)" font-size="8.0" text-anchor="end" fill="#1c1c1c" stroke="#1c1c1c" stroke-width="0.2">6.3%</text>
<path d="M34.20,241.60L34.20,261.30" stroke="#1a1a1a" stroke-width="1.0"/>
<path d="M34.20,261.30L51.30,261.30" stroke="#1a1a1a" stroke-width="1.0"/>
<path d="M32.00,243.00L34.20,238.60L36.40,243.00Z" fill="#1a1a1a"/>
<path d="M49.20,259.20L53.60,261.30L49.20,263.40Z" fill="#1a1a1a"/>
<text transform="translate(56.80,264.00) scale(0.77,1.05)" font-size="7.0" text-anchor="start" font-weight="bold" fill="#222">H3Cit-alexa488</text>
<text transform="translate(36.10,223.40) rotate(-90) scale(0.98,1.18)" font-size="6.0" text-anchor="middle" font-weight="bold" fill="#222">MP0-PE</text>
<path d="M163.90,239.10V173.40H233.40V239.10" fill="none" stroke="#8a8a8a" stroke-width="1.1"/>
<path d="M163.90,173.40L163.90,239.10" stroke="#6a6a6a" stroke-width="1.1"/>
<path d="M163.90,239.10L233.40,239.10" stroke="#6a6a6a" stroke-width="1.1"/>
<path d="M207.70,173.40L207.70,239.10" stroke="#666" stroke-width="1.0"/>
<path d="M163.90,204.30L233.40,204.30" stroke="#666" stroke-width="1.0"/>
<path d="M180.0,234.0L180.0,234.0L188.0,236.0L188.0,236.0L188.0,236.0L197.0,230.0L197.0,230.0L197.0,230.0L203.0,220.0L203.0,220.0L203.0,220.0L204.0,212.0L204.0,212.0L204.0,212.0L196.0,214.0L196.0,214.0L196.0,214.0L189.0,220.0L189.0,220.0L189.0,220.0L183.0,228.0L183.0,228.0L183.0,228.0L180.0,234.0L180.0,234.0Z" fill="#9ccc9c" opacity="0.55"/><path d="M211.5 188.1h0.8v0.8h-0.8zM213.0 186.8h0.8v0.8h-0.8zM191.7 214.5h0.8v0.8h-0.8zM201.3 198.0h0.8v0.8h-0.8zM211.6 202.7h0.8v0.8h-0.8zM195.6 202.0h0.8v0.8h-0.8zM211.6 202.1h0.8v0.8h-0.8zM217.5 186.2h0.8v0.8h-0.8zM209.4 206.3h0.8v0.8h-0.8zM191.8 211.6h0.8v0.8h-0.8zM215.7 196.2h0.8v0.8h-0.8zM205.5 209.6h0.8v0.8h-0.8zM206.3 191.9h0.8v0.8h-0.8zM208.9 206.1h0.8v0.8h-0.8zM192.0 218.4h0.8v0.8h-0.8zM210.7 189.3h0.8v0.8h-0.8zM195.0 203.3h0.8v0.8h-0.8zM213.0 186.4h0.8v0.8h-0.8zM217.0 193.1h0.8v0.8h-0.8zM218.8 190.8h0.8v0.8h-0.8zM192.2 208.5h0.8v0.8h-0.8zM219.6 188.3h0.8v0.8h-0.8zM207.1 193.1h0.8v0.8h-0.8zM205.0 211.8h0.8v0.8h-0.8zM193.1 209.0h0.8v0.8h-0.8zM218.1 189.2h0.8v0.8h-0.8zM190.8 211.2h0.8v0.8h-0.8zM200.6 218.6h0.8v0.8h-0.8zM195.2 203.0h0.8v0.8h-0.8zM191.4 216.0h0.8v0.8h-0.8zM190.5 215.4h0.8v0.8h-0.8zM211.8 202.2h0.8v0.8h-0.8zM211.6 201.5h0.8v0.8h-0.8zM217.9 190.6h0.8v0.8h-0.8zM194.8 220.9h0.8v0.8h-0.8zM203.6 211.6h0.8v0.8h-0.8zM195.1 202.1h0.8v0.8h-0.8zM191.9 217.0h0.8v0.8h-0.8zM198.2 220.9h0.8v0.8h-0.8zM196.0 201.0h0.8v0.8h-0.8zM209.0 207.3h0.8v0.8h-0.8zM193.3 219.9h0.8v0.8h-0.8zM192.8 220.0h0.8v0.8h-0.8zM191.1 213.1h0.8v0.8h-0.8zM190.7 212.0h0.8v0.8h-0.8zM193.0 208.3h0.8v0.8h-0.8zM200.6 198.9h0.8v0.8h-0.8zM208.5 206.6h0.8v0.8h-0.8zM209.1 189.0h0.8v0.8h-0.8zM208.5 190.4h0.8v0.8h-0.8zM215.3 185.8h0.8v0.8h-0.8zM206.9 193.0h0.8v0.8h-0.8zM197.0 219.8h0.8v0.8h-0.8zM196.1 220.9h0.8v0.8h-0.8zM203.5 196.3h0.8v0.8h-0.8zM210.1 205.7h0.8v0.8h-0.8zM217.1 194.3h0.8v0.8h-0.8zM192.3 205.7h0.8v0.8h-0.8zM218.6 189.3h0.8v0.8h-0.8zM200.9 198.1h0.8v0.8h-0.8zM219.8 188.1h0.8v0.8h-0.8zM207.5 209.1h0.8v0.8h-0.8zM214.6 198.3h0.8v0.8h-0.8zM194.3 219.5h0.8v0.8h-0.8zM195.3 201.6h0.8v0.8h-0.8zM209.4 189.6h0.8v0.8h-0.8zM218.2 189.2h0.8v0.8h-0.8zM191.5 220.5h0.8v0.8h-0.8zM198.9 198.2h0.8v0.8h-0.8zM197.5 220.0h0.8v0.8h-0.8zM190.6 214.1h0.8v0.8h-0.8zM219.1 190.7h0.8v0.8h-0.8zM205.3 211.2h0.8v0.8h-0.8zM202.1 218.9h0.8v0.8h-0.8zM217.4 193.7h0.8v0.8h-0.8zM190.2 213.0h0.8v0.8h-0.8zM205.2 211.2h0.8v0.8h-0.8zM218.6 187.2h0.8v0.8h-0.8zM198.5 220.6h0.8v0.8h-0.8zM217.8 186.3h0.8v0.8h-0.8zM218.4 186.3h0.8v0.8h-0.8zM207.4 208.9h0.8v0.8h-0.8zM194.7 220.1h0.8v0.8h-0.8zM200.7 199.2h0.8v0.8h-0.8zM207.1 206.8h0.8v0.8h-0.8zM212.0 187.0h0.8v0.8h-0.8zM214.9 186.0h0.8v0.8h-0.8zM214.2 187.5h0.8v0.8h-0.8zM210.7 204.0h0.8v0.8h-0.8zM213.3 200.5h0.8v0.8h-0.8zM208.3 206.3h0.8v0.8h-0.8zM219.0 186.9h0.8v0.8h-0.8zM212.9 200.1h0.8v0.8h-0.8zM194.3 205.8h0.8v0.8h-0.8zM208.1 189.8h0.8v0.8h-0.8zM192.0 208.6h0.8v0.8h-0.8zM205.4 208.8h0.8v0.8h-0.8zM209.6 203.7h0.8v0.8h-0.8zM215.3 196.9h0.8v0.8h-0.8zM219.1 188.3h0.8v0.8h-0.8zM197.6 200.0h0.8v0.8h-0.8zM191.9 216.5h0.8v0.8h-0.8zM205.7 210.0h0.8v0.8h-0.8zM193.8 220.4h0.8v0.8h-0.8zM192.1 219.6h0.8v0.8h-0.8zM205.9 193.9h0.8v0.8h-0.8zM205.0 192.9h0.8v0.8h-0.8zM217.2 193.9h0.8v0.8h-0.8zM199.6 220.0h0.8v0.8h-0.8zM207.6 191.8h0.8v0.8h-0.8zM192.2 227.7h0.8v0.8h-0.8zM191.6 227.9h0.8v0.8h-0.8zM188.5 234.4h0.8v0.8h-0.8zM190.3 221.9h0.8v0.8h-0.8zM199.6 212.8h0.8v0.8h-0.8zM203.1 218.6h0.8v0.8h-0.8zM191.5 228.6h0.8v0.8h-0.8zM186.0 224.1h0.8v0.8h-0.8zM187.1 232.4h0.8v0.8h-0.8zM186.2 228.6h0.8v0.8h-0.8zM197.9 225.9h0.8v0.8h-0.8zM183.7 228.4h0.8v0.8h-0.8zM196.8 215.7h0.8v0.8h-0.8zM197.8 228.7h0.8v0.8h-0.8zM187.8 223.6h0.8v0.8h-0.8zM197.8 217.0h0.8v0.8h-0.8zM192.9 218.9h0.8v0.8h-0.8zM201.2 220.5h0.8v0.8h-0.8zM202.7 217.6h0.8v0.8h-0.8zM193.2 226.3h0.8v0.8h-0.8zM189.9 223.1h0.8v0.8h-0.8zM188.0 230.0h0.8v0.8h-0.8zM190.7 218.6h0.8v0.8h-0.8zM196.7 225.0h0.8v0.8h-0.8zM196.1 228.5h0.8v0.8h-0.8zM201.7 214.1h0.8v0.8h-0.8zM198.2 224.4h0.8v0.8h-0.8zM180.2 233.0h0.8v0.8h-0.8zM203.6 213.9h0.8v0.8h-0.8zM180.4 233.8h0.8v0.8h-0.8zM201.3 221.4h0.8v0.8h-0.8zM187.7 234.8h0.8v0.8h-0.8zM198.2 216.9h0.8v0.8h-0.8zM191.6 218.5h0.8v0.8h-0.8zM195.8 216.3h0.8v0.8h-0.8zM195.8 214.2h0.8v0.8h-0.8zM193.7 232.2h0.8v0.8h-0.8zM189.3 224.2h0.8v0.8h-0.8zM198.7 223.9h0.8v0.8h-0.8zM188.9 232.0h0.8v0.8h-0.8zM192.3 218.0h0.8v0.8h-0.8zM193.5 227.9h0.8v0.8h-0.8zM182.5 231.6h0.8v0.8h-0.8zM200.2 214.8h0.8v0.8h-0.8zM190.2 230.3h0.8v0.8h-0.8zM194.1 218.1h0.8v0.8h-0.8zM188.4 222.6h0.8v0.8h-0.8zM196.8 218.2h0.8v0.8h-0.8zM201.4 217.6h0.8v0.8h-0.8zM183.6 233.7h0.8v0.8h-0.8zM197.3 226.6h0.8v0.8h-0.8zM183.4 232.6h0.8v0.8h-0.8zM195.2 217.5h0.8v0.8h-0.8zM195.1 225.8h0.8v0.8h-0.8zM182.7 229.4h0.8v0.8h-0.8zM191.3 231.9h0.8v0.8h-0.8zM203.9 213.3h0.8v0.8h-0.8zM188.9 224.2h0.8v0.8h-0.8zM184.6 234.7h0.8v0.8h-0.8zM200.0 213.4h0.8v0.8h-0.8zM186.7 228.3h0.8v0.8h-0.8zM191.1 226.8h0.8v0.8h-0.8zM187.0 224.0h0.8v0.8h-0.8zM194.4 222.9h0.8v0.8h-0.8zM183.3 230.1h0.8v0.8h-0.8zM186.1 227.1h0.8v0.8h-0.8zM196.9 230.1h0.8v0.8h-0.8zM192.3 232.1h0.8v0.8h-0.8zM201.3 214.7h0.8v0.8h-0.8zM190.7 226.9h0.8v0.8h-0.8zM186.4 228.1h0.8v0.8h-0.8zM182.8 233.8h0.8v0.8h-0.8zM196.3 219.4h0.8v0.8h-0.8zM193.1 228.8h0.8v0.8h-0.8zM201.0 222.7h0.8v0.8h-0.8zM196.5 219.7h0.8v0.8h-0.8zM188.0 230.7h0.8v0.8h-0.8zM194.2 217.3h0.8v0.8h-0.8zM182.9 230.2h0.8v0.8h-0.8zM195.1 216.9h0.8v0.8h-0.8zM200.9 216.0h0.8v0.8h-0.8zM184.9 232.3h0.8v0.8h-0.8zM188.4 233.3h0.8v0.8h-0.8zM197.8 226.2h0.8v0.8h-0.8zM199.0 222.1h0.8v0.8h-0.8zM192.7 225.0h0.8v0.8h-0.8zM202.8 214.0h0.8v0.8h-0.8zM191.4 226.7h0.8v0.8h-0.8zM202.8 212.9h0.8v0.8h-0.8zM196.3 219.2h0.8v0.8h-0.8zM214.6 187.5h0.8v0.8h-0.8zM218.0 186.3h0.8v0.8h-0.8zM215.7 188.3h0.8v0.8h-0.8zM221.2 185.5h0.8v0.8h-0.8zM214.5 189.3h0.8v0.8h-0.8zM214.9 189.3h0.8v0.8h-0.8zM220.0 186.0h0.8v0.8h-0.8zM218.7 185.4h0.8v0.8h-0.8zM217.9 187.3h0.8v0.8h-0.8zM218.7 185.5h0.8v0.8h-0.8zM216.8 186.9h0.8v0.8h-0.8zM216.5 188.8h0.8v0.8h-0.8zM218.6 186.4h0.8v0.8h-0.8zM216.2 186.9h0.8v0.8h-0.8zM217.7 187.4h0.8v0.8h-0.8zM220.6 186.0h0.8v0.8h-0.8zM216.4 188.8h0.8v0.8h-0.8zM218.6 184.7h0.8v0.8h-0.8zM220.8 185.1h0.8v0.8h-0.8zM216.0 189.1h0.8v0.8h-0.8zM217.2 187.7h0.8v0.8h-0.8zM219.5 184.2h0.8v0.8h-0.8zM216.1 187.0h0.8v0.8h-0.8zM220.4 185.1h0.8v0.8h-0.8zM216.2 186.0h0.8v0.8h-0.8zM218.2 184.7h0.8v0.8h-0.8zM215.5 186.7h0.8v0.8h-0.8zM216.1 186.9h0.8v0.8h-0.8zM219.1 185.6h0.8v0.8h-0.8zM220.7 184.3h0.8v0.8h-0.8zM217.7 185.9h0.8v0.8h-0.8zM217.8 187.6h0.8v0.8h-0.8zM220.4 184.3h0.8v0.8h-0.8zM214.8 188.5h0.8v0.8h-0.8zM216.8 188.4h0.8v0.8h-0.8z" fill="#86c286" opacity="0.75"/><path d="M192.5,218.3L199.4,218.8L203.8,210.0L203.8,209.9L203.9,209.8L208.8,203.4L208.9,203.3L214.3,197.3L215.8,192.6L215.8,192.5L217.3,188.6L215.7,187.7L212.1,189.7L212.1,189.7L212.1,189.7L208.6,192.7L208.6,192.8L204.2,197.1L204.1,197.2L199.1,201.1L199.1,201.1L199.1,201.1L194.7,206.1L192.7,213.0L192.7,213.0L192.7,213.0L192.5,218.3Z" fill="#287c2f"/><path d="M205.3 196.1h0.9v0.9h-0.9zM206.4 195.7h0.9v0.9h-0.9zM215.1 188.8h0.9v0.9h-0.9zM214.9 187.2h0.9v0.9h-0.9zM213.1 197.2h0.9v0.9h-0.9zM191.8 217.7h0.9v0.9h-0.9zM206.4 194.6h0.9v0.9h-0.9zM209.8 202.1h0.9v0.9h-0.9zM194.3 209.7h0.9v0.9h-0.9zM201.9 213.2h0.9v0.9h-0.9zM200.0 200.0h0.9v0.9h-0.9zM195.2 204.2h0.9v0.9h-0.9zM198.4 203.0h0.9v0.9h-0.9zM214.7 195.9h0.9v0.9h-0.9zM200.6 217.5h0.9v0.9h-0.9zM203.7 208.8h0.9v0.9h-0.9zM214.5 197.8h0.9v0.9h-0.9zM212.8 199.9h0.9v0.9h-0.9zM204.9 209.6h0.9v0.9h-0.9zM200.8 198.8h0.9v0.9h-0.9zM196.6 219.6h0.9v0.9h-0.9zM199.3 201.4h0.9v0.9h-0.9zM209.7 203.3h0.9v0.9h-0.9zM198.8 202.9h0.9v0.9h-0.9zM216.3 193.3h0.9v0.9h-0.9zM193.9 217.7h0.9v0.9h-0.9zM215.4 194.7h0.9v0.9h-0.9zM202.1 212.6h0.9v0.9h-0.9zM201.5 198.7h0.9v0.9h-0.9zM216.2 191.1h0.9v0.9h-0.9zM193.2 217.6h0.9v0.9h-0.9zM200.4 201.3h0.9v0.9h-0.9zM206.4 206.8h0.9v0.9h-0.9zM217.3 191.2h0.9v0.9h-0.9zM213.4 199.9h0.9v0.9h-0.9zM209.1 193.0h0.9v0.9h-0.9zM193.0 217.6h0.9v0.9h-0.9zM196.9 219.1h0.9v0.9h-0.9zM204.6 208.4h0.9v0.9h-0.9zM207.3 192.7h0.9v0.9h-0.9zM207.2 194.7h0.9v0.9h-0.9zM205.4 194.6h0.9v0.9h-0.9zM215.9 189.6h0.9v0.9h-0.9zM212.6 199.7h0.9v0.9h-0.9zM196.6 218.4h0.9v0.9h-0.9zM206.6 205.8h0.9v0.9h-0.9zM215.5 196.5h0.9v0.9h-0.9zM201.6 198.0h0.9v0.9h-0.9zM207.6 204.7h0.9v0.9h-0.9zM211.1 202.1h0.9v0.9h-0.9zM194.2 209.3h0.9v0.9h-0.9zM215.5 191.8h0.9v0.9h-0.9zM214.8 198.4h0.9v0.9h-0.9zM213.6 189.1h0.9v0.9h-0.9zM210.5 200.7h0.9v0.9h-0.9zM213.9 198.5h0.9v0.9h-0.9zM199.3 217.5h0.9v0.9h-0.9zM215.4 191.7h0.9v0.9h-0.9zM211.1 200.7h0.9v0.9h-0.9zM204.8 209.2h0.9v0.9h-0.9zM193.1 212.0h0.9v0.9h-0.9zM214.3 187.7h0.9v0.9h-0.9zM207.2 206.9h0.9v0.9h-0.9zM209.3 193.5h0.9v0.9h-0.9zM213.1 200.3h0.9v0.9h-0.9zM198.3 201.8h0.9v0.9h-0.9zM210.9 201.8h0.9v0.9h-0.9zM209.0 202.9h0.9v0.9h-0.9zM197.2 219.5h0.9v0.9h-0.9zM200.8 214.4h0.9v0.9h-0.9zM195.0 207.3h0.9v0.9h-0.9zM204.5 210.8h0.9v0.9h-0.9zM201.1 214.7h0.9v0.9h-0.9zM192.4 211.8h0.9v0.9h-0.9zM215.5 191.5h0.9v0.9h-0.9zM213.2 188.0h0.9v0.9h-0.9zM208.0 205.3h0.9v0.9h-0.9zM203.6 196.8h0.9v0.9h-0.9zM191.6 213.0h0.9v0.9h-0.9zM194.1 208.9h0.9v0.9h-0.9zM201.8 198.0h0.9v0.9h-0.9zM216.1 188.6h0.9v0.9h-0.9zM215.9 191.1h0.9v0.9h-0.9zM193.7 207.1h0.9v0.9h-0.9zM203.1 210.2h0.9v0.9h-0.9zM195.0 208.1h0.9v0.9h-0.9zM216.6 190.3h0.9v0.9h-0.9zM192.9 211.6h0.9v0.9h-0.9zM203.9 195.8h0.9v0.9h-0.9zM194.2 206.8h0.9v0.9h-0.9zM216.2 189.3h0.9v0.9h-0.9zM202.8 198.9h0.9v0.9h-0.9zM197.9 218.6h0.9v0.9h-0.9zM194.7 207.7h0.9v0.9h-0.9zM196.1 205.1h0.9v0.9h-0.9zM214.6 195.6h0.9v0.9h-0.9zM206.7 205.5h0.9v0.9h-0.9zM200.0 216.6h0.9v0.9h-0.9zM199.0 202.0h0.9v0.9h-0.9zM216.0 189.0h0.9v0.9h-0.9zM196.6 204.5h0.9v0.9h-0.9zM206.4 205.6h0.9v0.9h-0.9zM196.7 219.3h0.9v0.9h-0.9zM214.8 188.5h0.9v0.9h-0.9zM193.4 208.2h0.9v0.9h-0.9zM215.8 195.3h0.9v0.9h-0.9zM216.2 193.7h0.9v0.9h-0.9zM216.2 192.8h0.9v0.9h-0.9zM216.6 193.1h0.9v0.9h-0.9zM203.7 209.5h0.9v0.9h-0.9zM195.1 208.2h0.9v0.9h-0.9zM194.2 219.5h0.9v0.9h-0.9zM211.9 189.7h0.9v0.9h-0.9zM202.9 214.1h0.9v0.9h-0.9zM193.1 218.2h0.9v0.9h-0.9zM192.6 218.4h0.9v0.9h-0.9zM205.3 195.6h0.9v0.9h-0.9zM198.3 200.6h0.9v0.9h-0.9zM215.1 195.3h0.9v0.9h-0.9zM217.1 190.6h0.9v0.9h-0.9zM211.2 199.7h0.9v0.9h-0.9zM215.9 191.9h0.9v0.9h-0.9zM200.6 214.3h0.9v0.9h-0.9zM213.7 199.6h0.9v0.9h-0.9zM209.1 191.7h0.9v0.9h-0.9zM197.1 219.2h0.9v0.9h-0.9zM202.4 198.0h0.9v0.9h-0.9zM193.9 209.0h0.9v0.9h-0.9zM200.4 216.3h0.9v0.9h-0.9zM211.7 190.3h0.9v0.9h-0.9zM213.7 199.1h0.9v0.9h-0.9zM216.5 189.1h0.9v0.9h-0.9zM203.4 209.1h0.9v0.9h-0.9zM208.5 205.2h0.9v0.9h-0.9zM206.7 207.8h0.9v0.9h-0.9zM192.3 217.1h0.9v0.9h-0.9zM202.8 210.9h0.9v0.9h-0.9zM199.5 200.1h0.9v0.9h-0.9zM211.6 199.9h0.9v0.9h-0.9zM196.0 205.4h0.9v0.9h-0.9zM206.0 208.6h0.9v0.9h-0.9zM216.9 188.3h0.9v0.9h-0.9zM205.5 196.6h0.9v0.9h-0.9zM194.9 218.3h0.9v0.9h-0.9zM201.6 200.1h0.9v0.9h-0.9zM199.4 219.0h0.9v0.9h-0.9zM206.0 195.8h0.9v0.9h-0.9zM217.1 191.0h0.9v0.9h-0.9zM207.1 206.6h0.9v0.9h-0.9zM213.6 197.9h0.9v0.9h-0.9zM201.5 214.0h0.9v0.9h-0.9zM213.1 200.1h0.9v0.9h-0.9zM198.1 218.0h0.9v0.9h-0.9zM211.0 190.6h0.9v0.9h-0.9zM199.2 219.9h0.9v0.9h-0.9zM208.8 202.2h0.9v0.9h-0.9zM215.0 192.3h0.9v0.9h-0.9zM197.8 203.1h0.9v0.9h-0.9zM196.0 203.4h0.9v0.9h-0.9zM215.5 188.5h0.9v0.9h-0.9zM192.6 219.0h0.9v0.9h-0.9zM194.4 206.1h0.9v0.9h-0.9zM194.0 205.6h0.9v0.9h-0.9zM204.0 209.4h0.9v0.9h-0.9zM193.6 211.0h0.9v0.9h-0.9zM196.5 203.2h0.9v0.9h-0.9zM215.2 194.0h0.9v0.9h-0.9zM207.4 193.8h0.9v0.9h-0.9zM193.5 215.8h0.9v0.9h-0.9zM195.3 219.4h0.9v0.9h-0.9zM202.5 198.8h0.9v0.9h-0.9zM197.6 203.2h0.9v0.9h-0.9zM214.0 188.0h0.9v0.9h-0.9zM206.2 205.3h0.9v0.9h-0.9zM205.9 196.1h0.9v0.9h-0.9zM213.7 198.6h0.9v0.9h-0.9zM192.6 212.1h0.9v0.9h-0.9zM210.2 201.8h0.9v0.9h-0.9zM191.8 217.1h0.9v0.9h-0.9zM217.0 187.6h0.9v0.9h-0.9zM211.0 201.0h0.9v0.9h-0.9zM192.6 213.1h0.9v0.9h-0.9zM204.8 208.3h0.9v0.9h-0.9zM191.7 219.1h0.9v0.9h-0.9zM197.0 219.2h0.9v0.9h-0.9zM204.2 196.0h0.9v0.9h-0.9zM215.3 192.9h0.9v0.9h-0.9zM203.8 212.1h0.9v0.9h-0.9zM209.9 202.4h0.9v0.9h-0.9zM205.1 209.6h0.9v0.9h-0.9zM216.1 189.5h0.9v0.9h-0.9zM204.6 210.2h0.9v0.9h-0.9zM209.2 204.5h0.9v0.9h-0.9zM206.7 193.9h0.9v0.9h-0.9zM210.1 201.5h0.9v0.9h-0.9zM206.2 207.8h0.9v0.9h-0.9zM202.3 215.1h0.9v0.9h-0.9zM201.4 199.2h0.9v0.9h-0.9zM217.1 189.2h0.9v0.9h-0.9zM203.3 210.1h0.9v0.9h-0.9zM198.7 224.0h0.9v0.9h-0.9zM183.4 228.3h0.9v0.9h-0.9zM191.8 220.3h0.9v0.9h-0.9zM195.6 220.2h0.9v0.9h-0.9zM189.6 227.9h0.9v0.9h-0.9zM194.3 230.6h0.9v0.9h-0.9zM194.1 219.0h0.9v0.9h-0.9zM185.1 227.4h0.9v0.9h-0.9zM188.8 224.8h0.9v0.9h-0.9zM192.1 218.1h0.9v0.9h-0.9zM198.4 227.4h0.9v0.9h-0.9zM186.5 234.5h0.9v0.9h-0.9zM199.6 214.2h0.9v0.9h-0.9zM186.4 235.2h0.9v0.9h-0.9zM189.5 220.4h0.9v0.9h-0.9zM194.8 231.0h0.9v0.9h-0.9zM185.3 231.0h0.9v0.9h-0.9zM187.2 233.5h0.9v0.9h-0.9zM203.0 217.3h0.9v0.9h-0.9zM195.2 216.1h0.9v0.9h-0.9zM192.8 220.1h0.9v0.9h-0.9zM191.5 224.0h0.9v0.9h-0.9zM196.4 228.1h0.9v0.9h-0.9zM190.9 233.4h0.9v0.9h-0.9zM186.5 230.8h0.9v0.9h-0.9zM191.7 224.9h0.9v0.9h-0.9zM185.5 225.5h0.9v0.9h-0.9zM195.7 215.9h0.9v0.9h-0.9zM190.5 231.3h0.9v0.9h-0.9zM183.5 229.9h0.9v0.9h-0.9zM198.1 220.5h0.9v0.9h-0.9zM193.1 225.0h0.9v0.9h-0.9zM186.3 231.7h0.9v0.9h-0.9zM196.6 224.1h0.9v0.9h-0.9zM192.3 225.0h0.9v0.9h-0.9zM199.1 214.9h0.9v0.9h-0.9zM187.0 231.2h0.9v0.9h-0.9zM184.9 234.8h0.9v0.9h-0.9zM189.3 219.7h0.9v0.9h-0.9zM195.0 229.2h0.9v0.9h-0.9zM193.4 232.7h0.9v0.9h-0.9zM201.1 218.0h0.9v0.9h-0.9zM202.0 215.0h0.9v0.9h-0.9zM197.8 216.4h0.9v0.9h-0.9zM185.2 230.6h0.9v0.9h-0.9zM199.9 219.9h0.9v0.9h-0.9zM195.0 230.5h0.9v0.9h-0.9zM199.9 220.9h0.9v0.9h-0.9zM195.6 217.6h0.9v0.9h-0.9zM193.8 231.3h0.9v0.9h-0.9zM188.8 225.2h0.9v0.9h-0.9zM190.0 219.5h0.9v0.9h-0.9zM195.7 223.6h0.9v0.9h-0.9zM199.2 215.1h0.9v0.9h-0.9zM203.2 214.3h0.9v0.9h-0.9zM183.8 231.5h0.9v0.9h-0.9zM196.8 220.4h0.9v0.9h-0.9zM194.6 218.6h0.9v0.9h-0.9zM195.4 227.9h0.9v0.9h-0.9zM190.1 224.7h0.9v0.9h-0.9zM194.5 221.6h0.9v0.9h-0.9zM185.9 232.3h0.9v0.9h-0.9zM195.7 231.1h0.9v0.9h-0.9zM198.2 215.0h0.9v0.9h-0.9zM198.9 226.3h0.9v0.9h-0.9zM196.4 226.3h0.9v0.9h-0.9zM192.5 232.3h0.9v0.9h-0.9zM196.9 220.5h0.9v0.9h-0.9zM189.0 232.5h0.9v0.9h-0.9zM193.9 219.8h0.9v0.9h-0.9zM185.4 227.3h0.9v0.9h-0.9zM203.2 214.6h0.9v0.9h-0.9zM195.4 223.1h0.9v0.9h-0.9zM197.9 226.8h0.9v0.9h-0.9zM192.6 223.4h0.9v0.9h-0.9zM193.1 227.4h0.9v0.9h-0.9zM182.8 234.6h0.9v0.9h-0.9zM189.9 232.1h0.9v0.9h-0.9zM196.1 219.5h0.9v0.9h-0.9zM186.7 234.9h0.9v0.9h-0.9zM193.9 225.0h0.9v0.9h-0.9zM200.8 216.1h0.9v0.9h-0.9zM195.2 221.2h0.9v0.9h-0.9zM199.8 221.2h0.9v0.9h-0.9zM192.7 219.1h0.9v0.9h-0.9zM195.1 220.7h0.9v0.9h-0.9zM185.5 231.8h0.9v0.9h-0.9zM191.0 225.4h0.9v0.9h-0.9zM186.3 233.7h0.9v0.9h-0.9zM186.0 234.8h0.9v0.9h-0.9zM188.6 225.0h0.9v0.9h-0.9zM187.5 223.2h0.9v0.9h-0.9zM186.6 226.8h0.9v0.9h-0.9zM202.1 216.8h0.9v0.9h-0.9zM193.5 216.0h0.9v0.9h-0.9zM197.9 226.1h0.9v0.9h-0.9zM184.9 229.0h0.9v0.9h-0.9zM183.8 232.5h0.9v0.9h-0.9zM194.7 216.0h0.9v0.9h-0.9zM186.5 224.5h0.9v0.9h-0.9zM197.2 220.6h0.9v0.9h-0.9zM186.7 233.6h0.9v0.9h-0.9zM189.9 233.8h0.9v0.9h-0.9zM188.7 221.7h0.9v0.9h-0.9zM192.9 223.5h0.9v0.9h-0.9zM194.3 218.4h0.9v0.9h-0.9zM183.1 234.5h0.9v0.9h-0.9zM191.9 223.5h0.9v0.9h-0.9zM191.5 229.3h0.9v0.9h-0.9zM199.6 222.5h0.9v0.9h-0.9zM189.8 226.0h0.9v0.9h-0.9zM204.0 211.7h0.9v0.9h-0.9zM193.4 218.3h0.9v0.9h-0.9zM200.6 219.6h0.9v0.9h-0.9zM201.9 221.3h0.9v0.9h-0.9zM196.8 215.7h0.9v0.9h-0.9zM190.3 232.9h0.9v0.9h-0.9zM199.4 225.0h0.9v0.9h-0.9zM198.1 227.8h0.9v0.9h-0.9zM186.5 234.5h0.9v0.9h-0.9zM190.7 230.1h0.9v0.9h-0.9zM194.1 227.3h0.9v0.9h-0.9zM188.0 224.6h0.9v0.9h-0.9zM186.8 222.7h0.9v0.9h-0.9zM191.8 231.7h0.9v0.9h-0.9zM199.0 214.5h0.9v0.9h-0.9zM200.2 219.3h0.9v0.9h-0.9zM198.9 216.5h0.9v0.9h-0.9zM197.9 225.6h0.9v0.9h-0.9zM192.9 229.3h0.9v0.9h-0.9zM186.8 234.5h0.9v0.9h-0.9zM195.4 224.0h0.9v0.9h-0.9zM186.9 233.1h0.9v0.9h-0.9zM185.2 232.1h0.9v0.9h-0.9zM192.5 226.6h0.9v0.9h-0.9zM202.1 218.9h0.9v0.9h-0.9zM193.0 230.1h0.9v0.9h-0.9zM182.8 230.1h0.9v0.9h-0.9zM197.3 229.3h0.9v0.9h-0.9zM182.1 230.7h0.9v0.9h-0.9zM183.9 234.8h0.9v0.9h-0.9zM183.0 229.9h0.9v0.9h-0.9zM185.3 225.1h0.9v0.9h-0.9zM194.2 223.6h0.9v0.9h-0.9zM191.6 233.7h0.9v0.9h-0.9zM190.7 227.4h0.9v0.9h-0.9zM197.1 218.3h0.9v0.9h-0.9zM194.4 230.4h0.9v0.9h-0.9zM187.7 231.9h0.9v0.9h-0.9zM195.9 218.5h0.9v0.9h-0.9zM213.7 189.0h0.9v0.9h-0.9zM218.3 187.3h0.9v0.9h-0.9zM217.4 185.9h0.9v0.9h-0.9zM220.5 186.3h0.9v0.9h-0.9zM218.4 187.8h0.9v0.9h-0.9zM219.0 186.5h0.9v0.9h-0.9zM216.7 186.8h0.9v0.9h-0.9zM220.8 186.0h0.9v0.9h-0.9zM213.7 188.0h0.9v0.9h-0.9zM219.8 185.3h0.9v0.9h-0.9z" fill="#1c6523"/><path d="M205.5 201.4h1.0v1.0h-1.0zM195.9 212.7h1.0v1.0h-1.0zM213.2 192.9h1.0v1.0h-1.0zM196.8 209.7h1.0v1.0h-1.0zM207.7 196.8h1.0v1.0h-1.0zM207.6 201.3h1.0v1.0h-1.0zM202.3 201.6h1.0v1.0h-1.0zM197.5 204.3h1.0v1.0h-1.0zM209.6 200.3h1.0v1.0h-1.0zM205.8 205.2h1.0v1.0h-1.0zM196.7 212.1h1.0v1.0h-1.0zM205.6 204.9h1.0v1.0h-1.0zM195.9 209.0h1.0v1.0h-1.0zM196.5 213.8h1.0v1.0h-1.0zM204.0 204.0h1.0v1.0h-1.0zM204.4 200.4h1.0v1.0h-1.0zM202.6 208.8h1.0v1.0h-1.0zM196.1 212.5h1.0v1.0h-1.0zM200.2 213.3h1.0v1.0h-1.0zM211.2 191.6h1.0v1.0h-1.0zM198.3 207.8h1.0v1.0h-1.0zM200.8 204.3h1.0v1.0h-1.0zM211.2 198.6h1.0v1.0h-1.0zM198.4 211.2h1.0v1.0h-1.0zM205.6 201.1h1.0v1.0h-1.0zM195.3 209.8h1.0v1.0h-1.0zM195.5 216.6h1.0v1.0h-1.0zM209.3 196.5h1.0v1.0h-1.0zM211.9 195.6h1.0v1.0h-1.0zM194.9 210.2h1.0v1.0h-1.0zM198.4 215.9h1.0v1.0h-1.0zM201.7 210.0h1.0v1.0h-1.0zM210.9 191.9h1.0v1.0h-1.0zM206.5 199.4h1.0v1.0h-1.0zM211.1 198.3h1.0v1.0h-1.0zM212.7 191.4h1.0v1.0h-1.0zM195.6 213.1h1.0v1.0h-1.0zM210.9 197.3h1.0v1.0h-1.0zM197.5 211.6h1.0v1.0h-1.0zM198.8 204.2h1.0v1.0h-1.0zM204.2 200.1h1.0v1.0h-1.0zM195.6 210.9h1.0v1.0h-1.0zM208.3 201.1h1.0v1.0h-1.0zM201.5 208.0h1.0v1.0h-1.0zM199.7 214.2h1.0v1.0h-1.0zM210.2 197.3h1.0v1.0h-1.0zM205.5 197.1h1.0v1.0h-1.0zM205.3 198.2h1.0v1.0h-1.0zM214.4 191.4h1.0v1.0h-1.0zM213.0 191.6h1.0v1.0h-1.0zM214.4 193.1h1.0v1.0h-1.0zM202.3 208.6h1.0v1.0h-1.0zM208.3 200.6h1.0v1.0h-1.0zM196.4 213.0h1.0v1.0h-1.0zM198.8 210.0h1.0v1.0h-1.0zM207.9 195.6h1.0v1.0h-1.0zM212.0 193.2h1.0v1.0h-1.0zM195.0 215.7h1.0v1.0h-1.0zM207.9 202.6h1.0v1.0h-1.0zM194.3 211.4h1.0v1.0h-1.0zM200.7 209.2h1.0v1.0h-1.0zM204.4 202.8h1.0v1.0h-1.0zM213.8 191.2h1.0v1.0h-1.0zM199.8 204.3h1.0v1.0h-1.0zM200.2 207.5h1.0v1.0h-1.0zM196.8 216.9h1.0v1.0h-1.0zM195.7 216.6h1.0v1.0h-1.0zM199.0 206.7h1.0v1.0h-1.0zM201.3 211.3h1.0v1.0h-1.0zM198.2 206.7h1.0v1.0h-1.0zM194.7 215.2h1.0v1.0h-1.0zM193.8 213.9h1.0v1.0h-1.0zM209.7 193.8h1.0v1.0h-1.0zM209.0 197.5h1.0v1.0h-1.0zM203.9 202.9h1.0v1.0h-1.0zM205.9 201.8h1.0v1.0h-1.0zM202.3 202.6h1.0v1.0h-1.0zM197.3 209.5h1.0v1.0h-1.0zM213.5 194.0h1.0v1.0h-1.0zM196.5 213.9h1.0v1.0h-1.0zM203.0 199.2h1.0v1.0h-1.0zM198.5 212.2h1.0v1.0h-1.0zM209.7 199.3h1.0v1.0h-1.0zM197.0 205.2h1.0v1.0h-1.0zM205.8 197.7h1.0v1.0h-1.0zM194.9 214.4h1.0v1.0h-1.0zM197.7 214.5h1.0v1.0h-1.0zM197.9 210.2h1.0v1.0h-1.0zM202.2 204.3h1.0v1.0h-1.0zM200.9 201.2h1.0v1.0h-1.0z" fill="#15521b" opacity="0.8"/><path d="M212.1 198.2h0.9v0.9h-0.9zM193.8 217.5h0.9v0.9h-0.9zM198.2 207.0h0.9v0.9h-0.9zM206.2 204.8h0.9v0.9h-0.9zM197.5 215.6h0.9v0.9h-0.9zM207.7 196.6h0.9v0.9h-0.9zM200.4 202.5h0.9v0.9h-0.9zM212.8 192.9h0.9v0.9h-0.9zM214.4 194.7h0.9v0.9h-0.9zM207.3 197.9h0.9v0.9h-0.9zM208.3 200.2h0.9v0.9h-0.9zM212.5 193.9h0.9v0.9h-0.9zM199.5 202.6h0.9v0.9h-0.9zM209.1 197.2h0.9v0.9h-0.9zM200.8 204.7h0.9v0.9h-0.9zM211.9 191.2h0.9v0.9h-0.9zM211.1 195.4h0.9v0.9h-0.9zM194.9 207.7h0.9v0.9h-0.9zM213.4 190.8h0.9v0.9h-0.9zM207.0 203.9h0.9v0.9h-0.9zM205.4 204.7h0.9v0.9h-0.9zM213.9 195.7h0.9v0.9h-0.9zM197.1 212.8h0.9v0.9h-0.9zM209.0 200.1h0.9v0.9h-0.9zM208.3 195.8h0.9v0.9h-0.9zM209.5 193.1h0.9v0.9h-0.9zM207.3 204.1h0.9v0.9h-0.9zM204.6 197.8h0.9v0.9h-0.9zM208.3 194.7h0.9v0.9h-0.9zM202.9 207.2h0.9v0.9h-0.9zM196.5 216.3h0.9v0.9h-0.9zM212.7 191.5h0.9v0.9h-0.9zM209.9 200.5h0.9v0.9h-0.9zM211.6 190.9h0.9v0.9h-0.9zM215.4 191.1h0.9v0.9h-0.9zM202.0 209.3h0.9v0.9h-0.9zM200.7 201.0h0.9v0.9h-0.9zM214.1 192.8h0.9v0.9h-0.9zM212.9 190.5h0.9v0.9h-0.9zM195.1 208.6h0.9v0.9h-0.9zM209.3 199.9h0.9v0.9h-0.9zM196.2 213.5h0.9v0.9h-0.9zM213.0 190.3h0.9v0.9h-0.9zM198.8 206.2h0.9v0.9h-0.9zM206.4 200.7h0.9v0.9h-0.9zM199.8 210.3h0.9v0.9h-0.9zM210.6 196.7h0.9v0.9h-0.9zM195.6 217.4h0.9v0.9h-0.9zM205.1 203.6h0.9v0.9h-0.9zM208.1 197.0h0.9v0.9h-0.9zM198.7 210.8h0.9v0.9h-0.9zM198.3 209.8h0.9v0.9h-0.9zM196.5 216.5h0.9v0.9h-0.9zM198.2 209.2h0.9v0.9h-0.9zM197.1 215.8h0.9v0.9h-0.9zM200.3 203.8h0.9v0.9h-0.9zM211.2 195.9h0.9v0.9h-0.9zM200.5 214.3h0.9v0.9h-0.9zM197.2 211.4h0.9v0.9h-0.9zM213.1 191.0h0.9v0.9h-0.9zM196.0 214.0h0.9v0.9h-0.9zM210.0 195.1h0.9v0.9h-0.9zM214.2 195.4h0.9v0.9h-0.9zM212.4 190.7h0.9v0.9h-0.9zM200.5 207.4h0.9v0.9h-0.9zM203.9 199.5h0.9v0.9h-0.9zM198.8 206.0h0.9v0.9h-0.9zM211.7 198.4h0.9v0.9h-0.9zM207.2 202.0h0.9v0.9h-0.9zM200.0 203.6h0.9v0.9h-0.9z" fill="#63aa63" opacity="0.8"/>
<path d="M160.90,179.39L163.90,179.39" stroke="#444" stroke-width="1.0"/>
<path d="M160.90,193.87L163.90,193.87" stroke="#444" stroke-width="1.0"/>
<path d="M160.90,208.65L163.90,208.65" stroke="#444" stroke-width="1.0"/>
<path d="M160.90,224.82L163.90,224.82" stroke="#444" stroke-width="1.0"/>
<path d="M160.90,233.61L163.90,233.61" stroke="#444" stroke-width="1.0"/>
<path d="M161.70,189.51L163.90,189.51" stroke="#777" stroke-width="0.6"/>
<path d="M161.70,186.96L163.90,186.96" stroke="#777" stroke-width="0.6"/>
<path d="M161.70,185.15L163.90,185.15" stroke="#777" stroke-width="0.6"/>
<path d="M161.70,183.75L163.90,183.75" stroke="#777" stroke-width="0.6"/>
<path d="M161.70,182.60L163.90,182.60" stroke="#777" stroke-width="0.6"/>
<path d="M161.70,181.63L163.90,181.63" stroke="#777" stroke-width="0.6"/>
<path d="M161.70,180.79L163.90,180.79" stroke="#777" stroke-width="0.6"/>
<path d="M161.70,180.05L163.90,180.05" stroke="#777" stroke-width="0.6"/>
<path d="M161.70,204.20L163.90,204.20" stroke="#777" stroke-width="0.6"/>
<path d="M161.70,201.60L163.90,201.60" stroke="#777" stroke-width="0.6"/>
<path d="M161.70,199.75L163.90,199.75" stroke="#777" stroke-width="0.6"/>
<path d="M161.70,198.32L163.90,198.32" stroke="#777" stroke-width="0.6"/>
<path d="M161.70,197.15L163.90,197.15" stroke="#777" stroke-width="0.6"/>
<path d="M161.70,196.16L163.90,196.16" stroke="#777" stroke-width="0.6"/>
<path d="M161.70,195.30L163.90,195.30" stroke="#777" stroke-width="0.6"/>
<path d="M161.70,194.55L163.90,194.55" stroke="#777" stroke-width="0.6"/>
<path d="M161.70,219.95L163.90,219.95" stroke="#777" stroke-width="0.6"/>
<path d="M161.70,217.10L163.90,217.10" stroke="#777" stroke-width="0.6"/>
<path d="M161.70,215.08L163.90,215.08" stroke="#777" stroke-width="0.6"/>
<path d="M161.70,213.52L163.90,213.52" stroke="#777" stroke-width="0.6"/>
<path d="M161.70,212.23L163.90,212.23" stroke="#777" stroke-width="0.6"/>
<path d="M161.70,211.15L163.90,211.15" stroke="#777" stroke-width="0.6"/>
<path d="M161.70,210.21L163.90,210.21" stroke="#777" stroke-width="0.6"/>
<path d="M161.70,209.39L163.90,209.39" stroke="#777" stroke-width="0.6"/>
<path d="M161.70,226.82L163.90,226.82" stroke="#777" stroke-width="0.6"/>
<path d="M161.70,228.82L163.90,228.82" stroke="#777" stroke-width="0.6"/>
<path d="M161.70,230.81L163.90,230.81" stroke="#777" stroke-width="0.6"/>
<path d="M161.70,236.10L163.90,236.10" stroke="#777" stroke-width="0.6"/>
<path d="M161.70,237.90L163.90,237.90" stroke="#777" stroke-width="0.6"/>
<path d="M173.67,239.10L173.67,242.30" stroke="#444" stroke-width="1.0"/>
<path d="M178.56,239.10L178.56,242.30" stroke="#444" stroke-width="1.0"/>
<path d="M194.40,239.10L194.40,242.30" stroke="#444" stroke-width="1.0"/>
<path d="M210.33,239.10L210.33,242.30" stroke="#444" stroke-width="1.0"/>
<path d="M226.17,239.10L226.17,242.30" stroke="#444" stroke-width="1.0"/>
<path d="M183.33,239.10L183.33,241.70" stroke="#777" stroke-width="0.6"/>
<path d="M186.12,239.10L186.12,241.70" stroke="#777" stroke-width="0.6"/>
<path d="M188.10,239.10L188.10,241.70" stroke="#777" stroke-width="0.6"/>
<path d="M189.63,239.10L189.63,241.70" stroke="#777" stroke-width="0.6"/>
<path d="M190.88,239.10L190.88,241.70" stroke="#777" stroke-width="0.6"/>
<path d="M191.94,239.10L191.94,241.70" stroke="#777" stroke-width="0.6"/>
<path d="M192.86,239.10L192.86,241.70" stroke="#777" stroke-width="0.6"/>
<path d="M193.67,239.10L193.67,241.70" stroke="#777" stroke-width="0.6"/>
<path d="M199.19,239.10L199.19,241.70" stroke="#777" stroke-width="0.6"/>
<path d="M202.00,239.10L202.00,241.70" stroke="#777" stroke-width="0.6"/>
<path d="M203.99,239.10L203.99,241.70" stroke="#777" stroke-width="0.6"/>
<path d="M205.53,239.10L205.53,241.70" stroke="#777" stroke-width="0.6"/>
<path d="M206.80,239.10L206.80,241.70" stroke="#777" stroke-width="0.6"/>
<path d="M207.86,239.10L207.86,241.70" stroke="#777" stroke-width="0.6"/>
<path d="M208.79,239.10L208.79,241.70" stroke="#777" stroke-width="0.6"/>
<path d="M209.60,239.10L209.60,241.70" stroke="#777" stroke-width="0.6"/>
<path d="M215.10,239.10L215.10,241.70" stroke="#777" stroke-width="0.6"/>
<path d="M217.89,239.10L217.89,241.70" stroke="#777" stroke-width="0.6"/>
<path d="M219.86,239.10L219.86,241.70" stroke="#777" stroke-width="0.6"/>
<path d="M221.40,239.10L221.40,241.70" stroke="#777" stroke-width="0.6"/>
<path d="M222.65,239.10L222.65,241.70" stroke="#777" stroke-width="0.6"/>
<path d="M223.71,239.10L223.71,241.70" stroke="#777" stroke-width="0.6"/>
<path d="M224.63,239.10L224.63,241.70" stroke="#777" stroke-width="0.6"/>
<path d="M225.44,239.10L225.44,241.70" stroke="#777" stroke-width="0.6"/>
<path d="M165.76,239.10L165.76,241.70" stroke="#666" stroke-width="0.7"/>
<path d="M169.18,239.10L169.18,241.70" stroke="#666" stroke-width="0.7"/>
<path d="M175.43,239.10L175.43,241.70" stroke="#666" stroke-width="0.7"/>
<path d="M176.80,239.10L176.80,241.70" stroke="#666" stroke-width="0.7"/>
<text transform="translate(159.20,181.29) scale(1.14,1)" font-size="5.5" text-anchor="end" fill="#1e1e1e">10<tspan font-size="3.9" dy="-2.3">5</tspan></text>
<text transform="translate(159.20,195.77) scale(1.14,1)" font-size="5.5" text-anchor="end" fill="#1e1e1e">10<tspan font-size="3.9" dy="-2.3">4</tspan></text>
<text transform="translate(159.20,210.55) scale(1.14,1)" font-size="5.5" text-anchor="end" fill="#1e1e1e">10<tspan font-size="3.9" dy="-2.3">3</tspan></text>
<text transform="translate(159.20,226.72) scale(1.14,1)" font-size="5.5" text-anchor="end" fill="#1e1e1e">10<tspan font-size="3.9" dy="-2.3">2</tspan></text>
<text transform="translate(158.60,236.29) scale(1.14,1)" font-size="5.5" text-anchor="end" fill="#1e1e1e">0</text>
<text transform="translate(172.11,252.40) scale(1.14,1)" font-size="5.5" fill="#1e1e1e">0</text>
<text transform="translate(174.65,252.40) scale(1.14,1)" font-size="5.5" text-anchor="start" fill="#1e1e1e">10<tspan font-size="3.9" dy="-2.3">2</tspan></text>
<text transform="translate(189.31,252.40) scale(1.14,1)" font-size="5.5" text-anchor="start" fill="#1e1e1e">10<tspan font-size="3.9" dy="-2.3">3</tspan></text>
<text transform="translate(206.42,252.40) scale(1.14,1)" font-size="5.5" text-anchor="start" fill="#1e1e1e">10<tspan font-size="3.9" dy="-2.3">4</tspan></text>
<text transform="translate(222.35,252.40) scale(1.14,1)" font-size="5.5" text-anchor="start" fill="#1e1e1e">10<tspan font-size="3.9" dy="-2.3">5</tspan></text>
<text transform="translate(191.86,197.00) scale(1.08,1.0)" font-size="5.8" text-anchor="start" fill="#1c1c1c" stroke="#1c1c1c" stroke-width="0.2">Q1</text>
<text transform="translate(213.90,197.00) scale(1.08,1.0)" font-size="5.8" text-anchor="start" fill="#1c1c1c" stroke="#1c1c1c" stroke-width="0.2">Q2</text>
<text transform="translate(214.40,214.00) scale(1.08,1.0)" font-size="5.8" text-anchor="start" fill="#1c1c1c" stroke="#1c1c1c" stroke-width="0.2">Q4</text>
<text transform="translate(191.86,214.00) scale(1.08,1.0)" font-size="5.8" text-anchor="start" fill="#1a3d1c" stroke="#1a3d1c" stroke-width="0.2">Q3</text>
<text transform="translate(231.00,182.70)" font-size="8.0" text-anchor="end" fill="#1c1c1c" stroke="#1c1c1c" stroke-width="0.2">15,1%</text>
<path d="M144.20,241.60L144.20,261.30" stroke="#1a1a1a" stroke-width="1.0"/>
<path d="M144.20,261.30L160.90,261.30" stroke="#1a1a1a" stroke-width="1.0"/>
<path d="M142.00,243.00L144.20,238.60L146.40,243.00Z" fill="#1a1a1a"/>
<path d="M158.80,259.20L163.20,261.30L158.80,263.40Z" fill="#1a1a1a"/>
<text transform="translate(166.40,264.00) scale(0.77,1.05)" font-size="7.0" text-anchor="start" font-weight="bold" fill="#222">H3Cit-alexa488</text>
<text transform="translate(146.10,223.40) rotate(-90) scale(0.98,1.18)" font-size="6.0" text-anchor="middle" font-weight="bold" fill="#222">MP0-PE</text>
<path d="M271.50,239.20V173.50H342.50V239.20" fill="none" stroke="#8a8a8a" stroke-width="1.1"/>
<path d="M271.50,173.50L271.50,239.20" stroke="#6a6a6a" stroke-width="1.1"/>
<path d="M271.50,239.20L342.50,239.20" stroke="#6a6a6a" stroke-width="1.1"/>
<path d="M316.50,173.50L316.50,239.20" stroke="#666" stroke-width="1.0"/>
<path d="M271.50,204.30L342.50,204.30" stroke="#666" stroke-width="1.0"/>
<path d="M289.0,236.5L289.0,236.5L297.0,237.5L297.0,237.5L297.0,237.5L306.0,229.0L306.0,229.0L306.0,229.0L311.0,219.0L311.0,219.0L311.0,219.0L303.0,217.0L303.0,217.0L303.0,217.0L297.0,219.0L297.0,219.0L297.0,219.0L292.0,228.0L292.0,228.0L292.0,228.0L289.0,236.5L289.0,236.5Z" fill="#9ccc9c" opacity="0.55"/><path d="M297.5 217.6h0.8v0.8h-0.8zM317.6 189.7h0.8v0.8h-0.8zM311.4 196.2h0.8v0.8h-0.8zM320.9 199.4h0.8v0.8h-0.8zM318.9 200.5h0.8v0.8h-0.8zM318.3 203.1h0.8v0.8h-0.8zM298.5 223.6h0.8v0.8h-0.8zM315.4 192.8h0.8v0.8h-0.8zM300.0 208.5h0.8v0.8h-0.8zM320.4 189.6h0.8v0.8h-0.8zM300.4 224.7h0.8v0.8h-0.8zM309.5 199.4h0.8v0.8h-0.8zM298.0 219.2h0.8v0.8h-0.8zM320.7 195.2h0.8v0.8h-0.8zM314.9 193.2h0.8v0.8h-0.8zM322.3 189.8h0.8v0.8h-0.8zM322.3 189.7h0.8v0.8h-0.8zM306.0 201.0h0.8v0.8h-0.8zM303.4 205.0h0.8v0.8h-0.8zM312.7 194.9h0.8v0.8h-0.8zM317.9 190.4h0.8v0.8h-0.8zM300.1 208.9h0.8v0.8h-0.8zM306.3 224.0h0.8v0.8h-0.8zM305.5 200.8h0.8v0.8h-0.8zM311.6 195.6h0.8v0.8h-0.8zM310.1 197.0h0.8v0.8h-0.8zM320.8 195.5h0.8v0.8h-0.8zM312.6 218.3h0.8v0.8h-0.8zM319.8 202.4h0.8v0.8h-0.8zM297.4 222.3h0.8v0.8h-0.8zM316.7 192.1h0.8v0.8h-0.8zM320.0 188.5h0.8v0.8h-0.8zM299.1 212.3h0.8v0.8h-0.8zM314.0 216.0h0.8v0.8h-0.8zM318.5 205.6h0.8v0.8h-0.8zM317.3 207.0h0.8v0.8h-0.8zM321.4 199.2h0.8v0.8h-0.8zM312.9 217.1h0.8v0.8h-0.8zM303.3 205.5h0.8v0.8h-0.8zM306.0 201.8h0.8v0.8h-0.8zM303.1 204.3h0.8v0.8h-0.8zM300.8 206.8h0.8v0.8h-0.8zM317.5 205.8h0.8v0.8h-0.8zM318.3 203.0h0.8v0.8h-0.8zM318.6 201.6h0.8v0.8h-0.8zM299.1 212.9h0.8v0.8h-0.8zM320.3 189.2h0.8v0.8h-0.8zM309.8 222.2h0.8v0.8h-0.8zM306.5 225.3h0.8v0.8h-0.8zM302.0 226.0h0.8v0.8h-0.8zM309.0 221.3h0.8v0.8h-0.8zM299.7 210.5h0.8v0.8h-0.8zM296.6 223.2h0.8v0.8h-0.8zM297.4 220.9h0.8v0.8h-0.8zM298.1 215.4h0.8v0.8h-0.8zM320.3 196.5h0.8v0.8h-0.8zM314.1 217.2h0.8v0.8h-0.8zM320.1 198.4h0.8v0.8h-0.8zM319.5 205.5h0.8v0.8h-0.8zM321.0 199.0h0.8v0.8h-0.8zM311.0 219.6h0.8v0.8h-0.8zM303.5 204.9h0.8v0.8h-0.8zM296.6 221.4h0.8v0.8h-0.8zM299.0 216.4h0.8v0.8h-0.8zM301.6 226.8h0.8v0.8h-0.8zM298.8 218.3h0.8v0.8h-0.8zM319.1 202.2h0.8v0.8h-0.8zM313.3 195.5h0.8v0.8h-0.8zM309.3 220.6h0.8v0.8h-0.8zM300.5 226.1h0.8v0.8h-0.8zM297.4 222.8h0.8v0.8h-0.8zM303.0 206.2h0.8v0.8h-0.8zM306.0 201.7h0.8v0.8h-0.8zM297.8 219.5h0.8v0.8h-0.8zM316.2 191.8h0.8v0.8h-0.8zM321.7 192.8h0.8v0.8h-0.8zM320.9 190.4h0.8v0.8h-0.8zM300.1 207.8h0.8v0.8h-0.8zM313.0 216.6h0.8v0.8h-0.8zM307.6 199.9h0.8v0.8h-0.8zM317.2 211.1h0.8v0.8h-0.8zM314.3 213.3h0.8v0.8h-0.8zM320.1 188.5h0.8v0.8h-0.8zM308.8 222.4h0.8v0.8h-0.8zM322.4 194.1h0.8v0.8h-0.8zM313.8 193.7h0.8v0.8h-0.8zM299.4 226.3h0.8v0.8h-0.8zM319.0 205.9h0.8v0.8h-0.8zM298.0 220.7h0.8v0.8h-0.8zM296.7 223.3h0.8v0.8h-0.8zM308.5 223.9h0.8v0.8h-0.8zM310.6 221.5h0.8v0.8h-0.8zM297.5 221.9h0.8v0.8h-0.8zM300.3 224.6h0.8v0.8h-0.8zM300.0 208.0h0.8v0.8h-0.8zM312.8 218.1h0.8v0.8h-0.8zM307.4 198.8h0.8v0.8h-0.8zM318.3 190.9h0.8v0.8h-0.8zM298.5 220.9h0.8v0.8h-0.8zM320.6 196.1h0.8v0.8h-0.8zM321.5 194.9h0.8v0.8h-0.8zM307.7 223.4h0.8v0.8h-0.8zM303.6 204.8h0.8v0.8h-0.8zM305.4 200.9h0.8v0.8h-0.8zM317.6 191.1h0.8v0.8h-0.8zM312.2 219.6h0.8v0.8h-0.8zM297.0 222.6h0.8v0.8h-0.8zM302.6 204.3h0.8v0.8h-0.8zM314.0 193.1h0.8v0.8h-0.8zM312.8 218.7h0.8v0.8h-0.8zM298.2 220.5h0.8v0.8h-0.8zM297.9 222.1h0.8v0.8h-0.8zM308.4 224.8h0.8v0.8h-0.8zM302.8 220.4h0.8v0.8h-0.8zM306.9 218.8h0.8v0.8h-0.8zM293.4 231.2h0.8v0.8h-0.8zM302.7 221.2h0.8v0.8h-0.8zM301.2 232.3h0.8v0.8h-0.8zM295.2 225.0h0.8v0.8h-0.8zM300.0 220.6h0.8v0.8h-0.8zM293.8 230.2h0.8v0.8h-0.8zM304.1 223.7h0.8v0.8h-0.8zM290.5 236.3h0.8v0.8h-0.8zM301.5 233.4h0.8v0.8h-0.8zM301.0 222.1h0.8v0.8h-0.8zM295.5 226.5h0.8v0.8h-0.8zM305.0 223.6h0.8v0.8h-0.8zM291.3 234.7h0.8v0.8h-0.8zM295.4 227.8h0.8v0.8h-0.8zM304.6 218.4h0.8v0.8h-0.8zM295.4 223.2h0.8v0.8h-0.8zM299.9 224.3h0.8v0.8h-0.8zM291.1 230.0h0.8v0.8h-0.8zM300.9 228.1h0.8v0.8h-0.8zM308.7 220.4h0.8v0.8h-0.8zM295.4 224.6h0.8v0.8h-0.8zM299.2 224.7h0.8v0.8h-0.8zM298.1 232.0h0.8v0.8h-0.8zM302.7 229.5h0.8v0.8h-0.8zM297.7 219.8h0.8v0.8h-0.8zM299.4 229.6h0.8v0.8h-0.8zM302.3 227.8h0.8v0.8h-0.8zM307.1 225.3h0.8v0.8h-0.8zM295.8 228.4h0.8v0.8h-0.8zM294.5 234.1h0.8v0.8h-0.8zM301.4 230.3h0.8v0.8h-0.8zM289.7 235.5h0.8v0.8h-0.8zM299.9 222.1h0.8v0.8h-0.8zM298.9 222.0h0.8v0.8h-0.8zM301.8 228.7h0.8v0.8h-0.8zM305.8 221.2h0.8v0.8h-0.8zM296.3 233.6h0.8v0.8h-0.8zM305.6 223.6h0.8v0.8h-0.8zM308.8 218.8h0.8v0.8h-0.8zM299.6 234.5h0.8v0.8h-0.8zM300.2 225.8h0.8v0.8h-0.8zM301.7 218.7h0.8v0.8h-0.8zM304.6 230.1h0.8v0.8h-0.8zM300.8 225.6h0.8v0.8h-0.8zM300.2 220.4h0.8v0.8h-0.8zM291.6 228.2h0.8v0.8h-0.8zM294.1 233.0h0.8v0.8h-0.8zM303.0 229.7h0.8v0.8h-0.8zM294.5 227.9h0.8v0.8h-0.8zM303.9 222.7h0.8v0.8h-0.8zM301.1 223.3h0.8v0.8h-0.8zM300.4 231.8h0.8v0.8h-0.8zM296.1 230.1h0.8v0.8h-0.8zM299.6 229.2h0.8v0.8h-0.8zM290.1 235.4h0.8v0.8h-0.8zM321.2 190.9h0.8v0.8h-0.8zM321.3 189.6h0.8v0.8h-0.8zM320.9 189.2h0.8v0.8h-0.8zM321.0 188.9h0.8v0.8h-0.8zM325.8 187.1h0.8v0.8h-0.8zM322.2 188.3h0.8v0.8h-0.8zM323.7 188.2h0.8v0.8h-0.8zM321.6 191.0h0.8v0.8h-0.8zM321.7 190.5h0.8v0.8h-0.8zM320.0 192.3h0.8v0.8h-0.8zM320.9 189.8h0.8v0.8h-0.8zM321.9 189.6h0.8v0.8h-0.8zM319.7 190.7h0.8v0.8h-0.8zM323.5 188.9h0.8v0.8h-0.8zM322.8 186.8h0.8v0.8h-0.8zM324.6 188.0h0.8v0.8h-0.8zM323.8 188.5h0.8v0.8h-0.8zM324.7 184.8h0.8v0.8h-0.8zM320.7 192.1h0.8v0.8h-0.8zM319.8 189.3h0.8v0.8h-0.8zM322.7 188.3h0.8v0.8h-0.8zM325.3 185.6h0.8v0.8h-0.8zM323.4 186.6h0.8v0.8h-0.8zM322.8 186.3h0.8v0.8h-0.8zM321.5 188.8h0.8v0.8h-0.8zM321.8 189.8h0.8v0.8h-0.8zM321.4 191.1h0.8v0.8h-0.8zM325.2 185.3h0.8v0.8h-0.8zM321.5 190.6h0.8v0.8h-0.8zM322.9 189.8h0.8v0.8h-0.8zM320.7 192.1h0.8v0.8h-0.8zM323.5 186.3h0.8v0.8h-0.8zM324.4 186.9h0.8v0.8h-0.8zM323.1 189.3h0.8v0.8h-0.8zM322.3 189.8h0.8v0.8h-0.8z" fill="#86c286" opacity="0.75"/><path d="M298.8,221.9L301.1,224.7L305.8,223.7L310.8,217.8L314.7,210.9L314.7,210.9L317.2,204.9L317.2,204.9L319.2,197.9L319.2,197.9L321.2,192.1L320.0,190.9L317.2,192.7L312.2,197.7L312.2,197.7L306.7,202.7L302.8,207.7L300.3,214.1L298.8,221.9Z" fill="#287c2f"/><path d="M306.8 203.3h0.9v0.9h-0.9zM314.4 194.2h0.9v0.9h-0.9zM299.0 220.4h0.9v0.9h-0.9zM302.3 207.7h0.9v0.9h-0.9zM316.4 209.2h0.9v0.9h-0.9zM308.0 221.7h0.9v0.9h-0.9zM299.3 221.0h0.9v0.9h-0.9zM316.7 205.5h0.9v0.9h-0.9zM318.4 193.1h0.9v0.9h-0.9zM304.5 206.0h0.9v0.9h-0.9zM313.8 211.1h0.9v0.9h-0.9zM302.9 206.0h0.9v0.9h-0.9zM316.6 209.0h0.9v0.9h-0.9zM302.6 210.4h0.9v0.9h-0.9zM318.2 191.9h0.9v0.9h-0.9zM301.5 224.2h0.9v0.9h-0.9zM299.8 216.1h0.9v0.9h-0.9zM300.5 217.6h0.9v0.9h-0.9zM302.3 224.4h0.9v0.9h-0.9zM300.6 210.5h0.9v0.9h-0.9zM317.5 191.3h0.9v0.9h-0.9zM317.7 205.6h0.9v0.9h-0.9zM311.4 217.3h0.9v0.9h-0.9zM306.2 223.0h0.9v0.9h-0.9zM314.8 209.1h0.9v0.9h-0.9zM319.1 196.1h0.9v0.9h-0.9zM301.2 213.9h0.9v0.9h-0.9zM300.6 210.8h0.9v0.9h-0.9zM314.5 210.4h0.9v0.9h-0.9zM318.9 199.0h0.9v0.9h-0.9zM305.3 205.3h0.9v0.9h-0.9zM317.5 202.3h0.9v0.9h-0.9zM316.7 203.3h0.9v0.9h-0.9zM308.0 201.7h0.9v0.9h-0.9zM311.1 199.1h0.9v0.9h-0.9zM318.2 193.2h0.9v0.9h-0.9zM315.5 207.1h0.9v0.9h-0.9zM298.8 222.4h0.9v0.9h-0.9zM317.9 191.8h0.9v0.9h-0.9zM308.3 220.0h0.9v0.9h-0.9zM300.7 212.8h0.9v0.9h-0.9zM318.0 193.1h0.9v0.9h-0.9zM304.4 207.0h0.9v0.9h-0.9zM317.6 204.8h0.9v0.9h-0.9zM303.3 207.7h0.9v0.9h-0.9zM303.3 225.1h0.9v0.9h-0.9zM311.5 218.3h0.9v0.9h-0.9zM312.5 214.5h0.9v0.9h-0.9zM298.9 222.9h0.9v0.9h-0.9zM316.2 209.9h0.9v0.9h-0.9zM299.2 223.6h0.9v0.9h-0.9zM321.9 193.3h0.9v0.9h-0.9zM320.8 195.2h0.9v0.9h-0.9zM307.3 222.7h0.9v0.9h-0.9zM316.6 192.0h0.9v0.9h-0.9zM318.2 200.6h0.9v0.9h-0.9zM309.8 198.7h0.9v0.9h-0.9zM320.7 196.2h0.9v0.9h-0.9zM310.9 216.2h0.9v0.9h-0.9zM307.4 201.3h0.9v0.9h-0.9zM306.2 202.3h0.9v0.9h-0.9zM304.6 223.7h0.9v0.9h-0.9zM318.7 199.5h0.9v0.9h-0.9zM305.7 223.0h0.9v0.9h-0.9zM314.4 210.7h0.9v0.9h-0.9zM315.8 207.8h0.9v0.9h-0.9zM306.8 201.6h0.9v0.9h-0.9zM301.5 209.4h0.9v0.9h-0.9zM320.8 194.7h0.9v0.9h-0.9zM308.0 200.6h0.9v0.9h-0.9zM316.9 203.1h0.9v0.9h-0.9zM300.2 224.3h0.9v0.9h-0.9zM303.0 205.9h0.9v0.9h-0.9zM302.9 205.8h0.9v0.9h-0.9zM313.1 213.8h0.9v0.9h-0.9zM318.8 202.4h0.9v0.9h-0.9zM319.8 199.1h0.9v0.9h-0.9zM319.7 195.4h0.9v0.9h-0.9zM301.5 211.4h0.9v0.9h-0.9zM298.3 219.8h0.9v0.9h-0.9zM299.2 220.6h0.9v0.9h-0.9zM304.6 223.3h0.9v0.9h-0.9zM306.2 203.8h0.9v0.9h-0.9zM299.7 223.7h0.9v0.9h-0.9zM314.9 209.2h0.9v0.9h-0.9zM319.1 190.4h0.9v0.9h-0.9zM306.2 222.5h0.9v0.9h-0.9zM309.3 200.9h0.9v0.9h-0.9zM319.4 190.7h0.9v0.9h-0.9zM299.7 218.3h0.9v0.9h-0.9zM315.4 208.6h0.9v0.9h-0.9zM305.7 202.5h0.9v0.9h-0.9zM299.6 218.2h0.9v0.9h-0.9zM315.4 193.3h0.9v0.9h-0.9zM314.4 196.6h0.9v0.9h-0.9zM312.7 215.5h0.9v0.9h-0.9zM304.1 207.3h0.9v0.9h-0.9zM299.8 222.2h0.9v0.9h-0.9zM314.5 196.1h0.9v0.9h-0.9zM306.6 202.6h0.9v0.9h-0.9zM309.0 199.6h0.9v0.9h-0.9zM311.6 197.9h0.9v0.9h-0.9zM319.6 196.0h0.9v0.9h-0.9zM306.9 202.6h0.9v0.9h-0.9zM311.2 215.3h0.9v0.9h-0.9zM319.6 191.9h0.9v0.9h-0.9zM311.9 198.6h0.9v0.9h-0.9zM307.0 222.1h0.9v0.9h-0.9zM298.6 223.0h0.9v0.9h-0.9zM317.5 206.9h0.9v0.9h-0.9zM310.7 199.9h0.9v0.9h-0.9zM314.7 210.4h0.9v0.9h-0.9zM318.7 203.8h0.9v0.9h-0.9zM320.0 193.6h0.9v0.9h-0.9zM320.8 193.8h0.9v0.9h-0.9zM305.0 223.5h0.9v0.9h-0.9zM306.8 203.7h0.9v0.9h-0.9zM318.9 202.5h0.9v0.9h-0.9zM315.4 211.7h0.9v0.9h-0.9zM298.9 219.2h0.9v0.9h-0.9zM302.7 207.7h0.9v0.9h-0.9zM318.6 192.0h0.9v0.9h-0.9zM302.4 225.0h0.9v0.9h-0.9zM305.8 223.6h0.9v0.9h-0.9zM303.3 224.9h0.9v0.9h-0.9zM300.6 215.0h0.9v0.9h-0.9zM313.1 214.3h0.9v0.9h-0.9zM311.3 217.8h0.9v0.9h-0.9zM319.8 195.4h0.9v0.9h-0.9zM317.7 201.7h0.9v0.9h-0.9zM303.1 206.6h0.9v0.9h-0.9zM315.2 193.4h0.9v0.9h-0.9zM319.4 199.1h0.9v0.9h-0.9zM302.9 210.1h0.9v0.9h-0.9zM306.4 222.1h0.9v0.9h-0.9zM310.7 198.9h0.9v0.9h-0.9zM310.4 218.2h0.9v0.9h-0.9zM315.1 208.9h0.9v0.9h-0.9zM301.7 224.1h0.9v0.9h-0.9zM312.1 216.6h0.9v0.9h-0.9zM313.6 211.9h0.9v0.9h-0.9zM301.0 223.7h0.9v0.9h-0.9zM299.4 214.9h0.9v0.9h-0.9zM298.2 221.1h0.9v0.9h-0.9zM304.9 204.8h0.9v0.9h-0.9zM300.4 214.5h0.9v0.9h-0.9zM299.0 215.1h0.9v0.9h-0.9zM300.2 218.1h0.9v0.9h-0.9zM305.0 205.2h0.9v0.9h-0.9zM318.6 191.2h0.9v0.9h-0.9zM314.5 212.5h0.9v0.9h-0.9zM300.9 223.0h0.9v0.9h-0.9zM311.8 216.5h0.9v0.9h-0.9zM321.2 190.8h0.9v0.9h-0.9zM316.2 206.7h0.9v0.9h-0.9zM305.4 224.1h0.9v0.9h-0.9zM319.8 195.1h0.9v0.9h-0.9zM318.5 202.4h0.9v0.9h-0.9zM307.2 222.9h0.9v0.9h-0.9zM317.3 192.6h0.9v0.9h-0.9zM316.3 208.3h0.9v0.9h-0.9zM315.3 211.8h0.9v0.9h-0.9zM304.6 224.5h0.9v0.9h-0.9zM316.8 193.1h0.9v0.9h-0.9zM314.7 211.8h0.9v0.9h-0.9zM314.7 196.3h0.9v0.9h-0.9zM317.1 207.8h0.9v0.9h-0.9zM314.3 212.0h0.9v0.9h-0.9zM319.1 197.3h0.9v0.9h-0.9zM300.6 210.8h0.9v0.9h-0.9zM302.1 210.3h0.9v0.9h-0.9zM307.2 223.4h0.9v0.9h-0.9zM315.2 207.3h0.9v0.9h-0.9zM309.6 200.8h0.9v0.9h-0.9zM311.6 214.5h0.9v0.9h-0.9zM300.1 220.2h0.9v0.9h-0.9zM306.6 204.3h0.9v0.9h-0.9zM315.9 207.0h0.9v0.9h-0.9zM322.1 191.7h0.9v0.9h-0.9zM312.4 198.9h0.9v0.9h-0.9zM321.1 190.6h0.9v0.9h-0.9zM321.1 192.0h0.9v0.9h-0.9zM309.3 220.0h0.9v0.9h-0.9zM300.9 212.9h0.9v0.9h-0.9zM307.9 222.7h0.9v0.9h-0.9zM320.2 193.6h0.9v0.9h-0.9zM300.6 214.2h0.9v0.9h-0.9zM298.1 221.9h0.9v0.9h-0.9zM318.6 201.8h0.9v0.9h-0.9zM304.3 205.5h0.9v0.9h-0.9zM307.4 220.6h0.9v0.9h-0.9zM299.2 216.2h0.9v0.9h-0.9zM314.7 209.1h0.9v0.9h-0.9zM316.8 206.0h0.9v0.9h-0.9zM310.1 217.1h0.9v0.9h-0.9zM319.9 194.9h0.9v0.9h-0.9zM314.4 196.8h0.9v0.9h-0.9zM320.0 196.0h0.9v0.9h-0.9zM320.2 193.2h0.9v0.9h-0.9zM319.2 200.6h0.9v0.9h-0.9zM303.1 218.9h0.9v0.9h-0.9zM291.1 234.2h0.9v0.9h-0.9zM298.9 231.0h0.9v0.9h-0.9zM290.9 234.0h0.9v0.9h-0.9zM301.9 218.0h0.9v0.9h-0.9zM291.9 231.9h0.9v0.9h-0.9zM294.2 224.0h0.9v0.9h-0.9zM304.4 230.2h0.9v0.9h-0.9zM297.4 229.5h0.9v0.9h-0.9zM298.3 220.3h0.9v0.9h-0.9zM308.2 224.1h0.9v0.9h-0.9zM306.1 222.7h0.9v0.9h-0.9zM291.7 233.5h0.9v0.9h-0.9zM304.4 221.4h0.9v0.9h-0.9zM291.8 231.8h0.9v0.9h-0.9zM291.9 232.5h0.9v0.9h-0.9zM294.1 224.5h0.9v0.9h-0.9zM301.5 221.8h0.9v0.9h-0.9zM303.1 226.4h0.9v0.9h-0.9zM298.8 234.9h0.9v0.9h-0.9zM296.2 235.3h0.9v0.9h-0.9zM292.0 229.7h0.9v0.9h-0.9zM297.7 224.4h0.9v0.9h-0.9zM301.9 226.9h0.9v0.9h-0.9zM299.8 224.7h0.9v0.9h-0.9zM304.3 222.6h0.9v0.9h-0.9zM300.7 226.2h0.9v0.9h-0.9zM295.3 235.8h0.9v0.9h-0.9zM296.9 232.2h0.9v0.9h-0.9zM299.1 219.4h0.9v0.9h-0.9zM303.5 230.3h0.9v0.9h-0.9zM296.1 222.0h0.9v0.9h-0.9zM302.0 228.0h0.9v0.9h-0.9zM296.2 227.3h0.9v0.9h-0.9zM301.1 225.5h0.9v0.9h-0.9zM297.6 226.8h0.9v0.9h-0.9zM300.2 226.7h0.9v0.9h-0.9zM296.5 231.8h0.9v0.9h-0.9zM290.3 233.1h0.9v0.9h-0.9zM292.0 236.4h0.9v0.9h-0.9zM302.5 224.6h0.9v0.9h-0.9zM297.6 235.7h0.9v0.9h-0.9zM303.0 220.0h0.9v0.9h-0.9zM303.3 231.0h0.9v0.9h-0.9zM303.7 224.9h0.9v0.9h-0.9zM303.4 223.4h0.9v0.9h-0.9zM298.2 219.6h0.9v0.9h-0.9zM296.0 225.1h0.9v0.9h-0.9zM303.1 219.0h0.9v0.9h-0.9zM297.5 234.1h0.9v0.9h-0.9zM303.2 231.6h0.9v0.9h-0.9zM302.3 228.2h0.9v0.9h-0.9zM303.3 220.3h0.9v0.9h-0.9zM307.5 226.2h0.9v0.9h-0.9zM301.4 222.9h0.9v0.9h-0.9zM294.7 227.7h0.9v0.9h-0.9zM296.1 225.7h0.9v0.9h-0.9zM301.3 222.3h0.9v0.9h-0.9zM291.8 232.0h0.9v0.9h-0.9zM292.8 235.6h0.9v0.9h-0.9zM296.8 219.6h0.9v0.9h-0.9zM303.2 221.8h0.9v0.9h-0.9zM294.1 236.0h0.9v0.9h-0.9zM303.5 225.5h0.9v0.9h-0.9zM304.2 228.7h0.9v0.9h-0.9zM293.4 227.3h0.9v0.9h-0.9zM297.1 232.9h0.9v0.9h-0.9zM293.0 232.7h0.9v0.9h-0.9zM294.6 235.8h0.9v0.9h-0.9zM308.4 218.3h0.9v0.9h-0.9zM302.8 225.6h0.9v0.9h-0.9zM300.3 230.4h0.9v0.9h-0.9zM303.3 228.9h0.9v0.9h-0.9zM299.5 233.7h0.9v0.9h-0.9zM302.0 217.6h0.9v0.9h-0.9zM306.7 223.1h0.9v0.9h-0.9zM300.1 218.4h0.9v0.9h-0.9zM302.0 222.3h0.9v0.9h-0.9zM308.9 222.7h0.9v0.9h-0.9zM307.8 224.9h0.9v0.9h-0.9zM309.1 223.4h0.9v0.9h-0.9zM303.4 219.7h0.9v0.9h-0.9zM295.1 235.2h0.9v0.9h-0.9zM299.6 221.0h0.9v0.9h-0.9zM303.6 220.3h0.9v0.9h-0.9zM306.5 217.9h0.9v0.9h-0.9zM294.5 235.5h0.9v0.9h-0.9zM306.2 218.2h0.9v0.9h-0.9zM302.1 219.5h0.9v0.9h-0.9zM296.6 234.7h0.9v0.9h-0.9zM299.6 227.7h0.9v0.9h-0.9zM303.4 217.2h0.9v0.9h-0.9zM301.6 222.1h0.9v0.9h-0.9zM301.1 233.4h0.9v0.9h-0.9zM292.8 230.4h0.9v0.9h-0.9zM309.9 221.0h0.9v0.9h-0.9zM297.4 229.5h0.9v0.9h-0.9zM303.4 231.7h0.9v0.9h-0.9zM301.5 225.6h0.9v0.9h-0.9zM299.0 220.1h0.9v0.9h-0.9zM307.4 226.5h0.9v0.9h-0.9zM304.3 218.9h0.9v0.9h-0.9zM304.5 225.4h0.9v0.9h-0.9zM305.4 222.6h0.9v0.9h-0.9zM292.4 231.3h0.9v0.9h-0.9zM296.0 229.0h0.9v0.9h-0.9zM298.8 225.8h0.9v0.9h-0.9zM296.2 222.3h0.9v0.9h-0.9zM305.3 227.8h0.9v0.9h-0.9zM308.4 221.5h0.9v0.9h-0.9zM302.7 220.5h0.9v0.9h-0.9zM296.1 220.6h0.9v0.9h-0.9zM294.8 223.0h0.9v0.9h-0.9zM309.3 221.4h0.9v0.9h-0.9zM293.2 233.0h0.9v0.9h-0.9zM305.4 224.2h0.9v0.9h-0.9zM302.1 226.8h0.9v0.9h-0.9zM296.1 224.0h0.9v0.9h-0.9zM307.1 222.7h0.9v0.9h-0.9zM304.6 217.1h0.9v0.9h-0.9zM306.4 220.6h0.9v0.9h-0.9zM296.1 221.4h0.9v0.9h-0.9zM295.1 236.8h0.9v0.9h-0.9zM292.8 227.2h0.9v0.9h-0.9zM297.0 227.5h0.9v0.9h-0.9zM306.0 227.5h0.9v0.9h-0.9zM299.2 235.0h0.9v0.9h-0.9zM303.0 228.3h0.9v0.9h-0.9zM305.1 217.9h0.9v0.9h-0.9zM301.0 225.7h0.9v0.9h-0.9zM296.2 237.6h0.9v0.9h-0.9zM292.0 230.7h0.9v0.9h-0.9zM309.8 219.7h0.9v0.9h-0.9zM305.6 218.6h0.9v0.9h-0.9zM298.4 230.1h0.9v0.9h-0.9zM290.1 233.7h0.9v0.9h-0.9zM299.4 225.5h0.9v0.9h-0.9zM295.3 223.9h0.9v0.9h-0.9zM303.0 227.3h0.9v0.9h-0.9zM296.3 228.5h0.9v0.9h-0.9zM308.0 218.6h0.9v0.9h-0.9zM303.4 221.8h0.9v0.9h-0.9zM293.5 228.6h0.9v0.9h-0.9zM301.8 227.0h0.9v0.9h-0.9zM301.1 217.6h0.9v0.9h-0.9zM305.4 228.8h0.9v0.9h-0.9zM292.0 235.4h0.9v0.9h-0.9zM297.9 227.5h0.9v0.9h-0.9zM296.0 222.9h0.9v0.9h-0.9zM300.4 224.2h0.9v0.9h-0.9zM305.1 229.7h0.9v0.9h-0.9zM293.2 236.3h0.9v0.9h-0.9zM296.3 235.6h0.9v0.9h-0.9zM303.7 220.0h0.9v0.9h-0.9zM307.3 224.5h0.9v0.9h-0.9zM296.5 233.0h0.9v0.9h-0.9zM303.6 229.9h0.9v0.9h-0.9zM295.3 228.3h0.9v0.9h-0.9zM298.2 235.2h0.9v0.9h-0.9zM296.7 237.6h0.9v0.9h-0.9zM301.3 228.5h0.9v0.9h-0.9zM294.8 222.5h0.9v0.9h-0.9zM304.3 220.6h0.9v0.9h-0.9zM302.2 230.4h0.9v0.9h-0.9zM297.3 222.9h0.9v0.9h-0.9zM296.8 228.1h0.9v0.9h-0.9zM290.3 233.9h0.9v0.9h-0.9zM290.3 234.3h0.9v0.9h-0.9zM296.8 234.8h0.9v0.9h-0.9zM294.4 233.5h0.9v0.9h-0.9zM302.1 217.9h0.9v0.9h-0.9zM290.6 236.9h0.9v0.9h-0.9zM302.9 219.9h0.9v0.9h-0.9zM297.6 231.7h0.9v0.9h-0.9zM296.9 227.7h0.9v0.9h-0.9zM293.9 230.8h0.9v0.9h-0.9zM296.8 221.5h0.9v0.9h-0.9zM299.0 234.4h0.9v0.9h-0.9zM300.5 219.1h0.9v0.9h-0.9zM299.7 222.8h0.9v0.9h-0.9zM305.1 226.1h0.9v0.9h-0.9zM297.1 222.9h0.9v0.9h-0.9zM302.5 221.5h0.9v0.9h-0.9zM304.6 221.0h0.9v0.9h-0.9zM307.4 225.5h0.9v0.9h-0.9zM298.1 232.8h0.9v0.9h-0.9zM305.4 222.0h0.9v0.9h-0.9zM297.4 220.7h0.9v0.9h-0.9zM295.6 237.1h0.9v0.9h-0.9zM304.4 228.7h0.9v0.9h-0.9zM310.3 220.0h0.9v0.9h-0.9zM296.7 236.4h0.9v0.9h-0.9zM297.9 228.4h0.9v0.9h-0.9zM309.6 220.6h0.9v0.9h-0.9zM296.9 229.1h0.9v0.9h-0.9zM303.6 228.4h0.9v0.9h-0.9zM295.2 229.6h0.9v0.9h-0.9zM297.6 234.9h0.9v0.9h-0.9zM298.1 235.4h0.9v0.9h-0.9zM294.4 235.3h0.9v0.9h-0.9zM322.1 187.2h0.9v0.9h-0.9zM322.0 188.3h0.9v0.9h-0.9zM323.0 188.5h0.9v0.9h-0.9zM324.0 185.3h0.9v0.9h-0.9zM324.1 188.3h0.9v0.9h-0.9zM324.2 185.3h0.9v0.9h-0.9zM322.1 189.5h0.9v0.9h-0.9zM323.2 188.7h0.9v0.9h-0.9zM321.6 190.6h0.9v0.9h-0.9zM319.6 190.7h0.9v0.9h-0.9z" fill="#1c6523"/><path d="M302.6 219.6h1.0v1.0h-1.0zM303.3 208.5h1.0v1.0h-1.0zM313.0 210.1h1.0v1.0h-1.0zM313.2 198.8h1.0v1.0h-1.0zM307.7 215.3h1.0v1.0h-1.0zM305.5 219.7h1.0v1.0h-1.0zM302.9 218.5h1.0v1.0h-1.0zM312.1 204.0h1.0v1.0h-1.0zM312.6 203.6h1.0v1.0h-1.0zM300.2 221.7h1.0v1.0h-1.0zM313.1 207.4h1.0v1.0h-1.0zM308.0 218.8h1.0v1.0h-1.0zM317.1 200.7h1.0v1.0h-1.0zM300.4 218.0h1.0v1.0h-1.0zM312.1 202.6h1.0v1.0h-1.0zM302.0 222.2h1.0v1.0h-1.0zM302.0 219.3h1.0v1.0h-1.0zM307.2 212.4h1.0v1.0h-1.0zM306.9 211.6h1.0v1.0h-1.0zM311.1 211.5h1.0v1.0h-1.0zM305.3 220.6h1.0v1.0h-1.0zM312.4 202.6h1.0v1.0h-1.0zM304.1 221.4h1.0v1.0h-1.0zM308.7 203.2h1.0v1.0h-1.0zM300.3 218.9h1.0v1.0h-1.0zM313.7 203.9h1.0v1.0h-1.0zM309.0 214.2h1.0v1.0h-1.0zM309.7 212.3h1.0v1.0h-1.0zM305.1 206.3h1.0v1.0h-1.0zM314.2 199.5h1.0v1.0h-1.0zM311.1 203.7h1.0v1.0h-1.0zM310.5 206.0h1.0v1.0h-1.0zM301.3 215.5h1.0v1.0h-1.0zM316.4 198.9h1.0v1.0h-1.0zM303.9 222.1h1.0v1.0h-1.0zM312.5 211.1h1.0v1.0h-1.0zM309.5 210.6h1.0v1.0h-1.0zM313.9 200.0h1.0v1.0h-1.0zM313.9 205.7h1.0v1.0h-1.0zM308.8 215.6h1.0v1.0h-1.0zM308.9 204.2h1.0v1.0h-1.0zM313.6 201.1h1.0v1.0h-1.0zM302.5 212.4h1.0v1.0h-1.0zM312.2 204.3h1.0v1.0h-1.0zM308.2 203.0h1.0v1.0h-1.0zM303.6 214.3h1.0v1.0h-1.0zM310.5 204.4h1.0v1.0h-1.0zM315.8 197.9h1.0v1.0h-1.0zM308.3 218.9h1.0v1.0h-1.0zM309.3 203.2h1.0v1.0h-1.0zM309.3 209.3h1.0v1.0h-1.0zM304.2 218.4h1.0v1.0h-1.0zM312.8 200.2h1.0v1.0h-1.0zM305.8 205.3h1.0v1.0h-1.0zM306.7 210.9h1.0v1.0h-1.0zM303.2 218.7h1.0v1.0h-1.0zM306.9 206.5h1.0v1.0h-1.0zM305.9 215.7h1.0v1.0h-1.0zM307.2 219.1h1.0v1.0h-1.0zM304.7 208.9h1.0v1.0h-1.0zM312.3 211.0h1.0v1.0h-1.0zM305.6 214.2h1.0v1.0h-1.0zM309.9 203.0h1.0v1.0h-1.0zM303.4 210.2h1.0v1.0h-1.0zM307.5 208.5h1.0v1.0h-1.0zM303.8 221.5h1.0v1.0h-1.0zM317.8 199.4h1.0v1.0h-1.0zM315.1 197.9h1.0v1.0h-1.0zM310.5 213.7h1.0v1.0h-1.0zM310.5 205.6h1.0v1.0h-1.0zM307.6 220.1h1.0v1.0h-1.0zM301.9 219.0h1.0v1.0h-1.0zM310.5 211.0h1.0v1.0h-1.0zM317.5 195.5h1.0v1.0h-1.0zM302.5 214.6h1.0v1.0h-1.0zM306.2 209.9h1.0v1.0h-1.0zM315.3 197.6h1.0v1.0h-1.0zM311.0 204.7h1.0v1.0h-1.0zM304.8 217.9h1.0v1.0h-1.0zM311.4 214.9h1.0v1.0h-1.0zM317.5 193.6h1.0v1.0h-1.0zM309.2 204.1h1.0v1.0h-1.0zM318.4 195.9h1.0v1.0h-1.0zM311.5 214.2h1.0v1.0h-1.0zM305.3 212.9h1.0v1.0h-1.0zM315.0 207.9h1.0v1.0h-1.0zM308.2 211.2h1.0v1.0h-1.0zM304.3 211.4h1.0v1.0h-1.0zM318.7 196.7h1.0v1.0h-1.0zM304.4 208.1h1.0v1.0h-1.0z" fill="#15521b" opacity="0.8"/><path d="M301.5 220.8h0.9v0.9h-0.9zM310.0 207.1h0.9v0.9h-0.9zM308.8 212.8h0.9v0.9h-0.9zM304.0 211.3h0.9v0.9h-0.9zM309.7 205.2h0.9v0.9h-0.9zM306.9 208.0h0.9v0.9h-0.9zM307.8 210.5h0.9v0.9h-0.9zM311.8 202.9h0.9v0.9h-0.9zM305.4 212.7h0.9v0.9h-0.9zM314.5 207.0h0.9v0.9h-0.9zM312.3 203.0h0.9v0.9h-0.9zM304.0 217.6h0.9v0.9h-0.9zM310.2 213.1h0.9v0.9h-0.9zM315.1 201.6h0.9v0.9h-0.9zM307.3 213.1h0.9v0.9h-0.9zM306.0 221.6h0.9v0.9h-0.9zM308.4 216.0h0.9v0.9h-0.9zM315.5 205.4h0.9v0.9h-0.9zM316.4 200.0h0.9v0.9h-0.9zM305.9 218.0h0.9v0.9h-0.9zM308.9 218.2h0.9v0.9h-0.9zM312.1 213.1h0.9v0.9h-0.9zM313.0 209.6h0.9v0.9h-0.9zM309.2 205.2h0.9v0.9h-0.9zM309.9 207.1h0.9v0.9h-0.9zM316.4 196.4h0.9v0.9h-0.9zM306.0 214.0h0.9v0.9h-0.9zM316.6 203.5h0.9v0.9h-0.9zM307.9 206.8h0.9v0.9h-0.9zM313.1 198.2h0.9v0.9h-0.9zM317.9 195.9h0.9v0.9h-0.9zM311.5 200.5h0.9v0.9h-0.9zM311.8 200.7h0.9v0.9h-0.9zM307.6 203.1h0.9v0.9h-0.9zM304.8 212.9h0.9v0.9h-0.9zM318.5 193.7h0.9v0.9h-0.9zM309.7 209.5h0.9v0.9h-0.9zM315.5 205.4h0.9v0.9h-0.9zM306.6 221.5h0.9v0.9h-0.9zM306.3 215.4h0.9v0.9h-0.9zM314.8 208.5h0.9v0.9h-0.9zM306.7 220.2h0.9v0.9h-0.9zM300.8 215.2h0.9v0.9h-0.9zM304.8 211.3h0.9v0.9h-0.9zM307.1 208.0h0.9v0.9h-0.9zM310.1 205.6h0.9v0.9h-0.9zM301.5 212.9h0.9v0.9h-0.9zM315.3 195.9h0.9v0.9h-0.9zM317.2 201.8h0.9v0.9h-0.9zM306.7 215.4h0.9v0.9h-0.9zM317.0 201.9h0.9v0.9h-0.9zM316.7 201.4h0.9v0.9h-0.9zM313.6 209.7h0.9v0.9h-0.9zM307.8 217.0h0.9v0.9h-0.9zM312.4 209.2h0.9v0.9h-0.9zM314.0 199.6h0.9v0.9h-0.9zM317.3 196.7h0.9v0.9h-0.9zM315.4 207.4h0.9v0.9h-0.9zM303.5 213.0h0.9v0.9h-0.9zM307.8 203.4h0.9v0.9h-0.9zM311.2 206.4h0.9v0.9h-0.9zM303.2 218.9h0.9v0.9h-0.9zM301.2 217.4h0.9v0.9h-0.9zM303.9 213.3h0.9v0.9h-0.9zM306.0 218.5h0.9v0.9h-0.9zM305.9 216.9h0.9v0.9h-0.9zM319.3 192.5h0.9v0.9h-0.9zM314.7 196.2h0.9v0.9h-0.9zM306.7 221.2h0.9v0.9h-0.9zM318.0 196.2h0.9v0.9h-0.9z" fill="#63aa63" opacity="0.8"/>
<path d="M268.50,179.49L271.50,179.49" stroke="#444" stroke-width="1.0"/>
<path d="M268.50,193.97L271.50,193.97" stroke="#444" stroke-width="1.0"/>
<path d="M268.50,208.75L271.50,208.75" stroke="#444" stroke-width="1.0"/>
<path d="M268.50,224.92L271.50,224.92" stroke="#444" stroke-width="1.0"/>
<path d="M268.50,233.71L271.50,233.71" stroke="#444" stroke-width="1.0"/>
<path d="M269.30,189.61L271.50,189.61" stroke="#777" stroke-width="0.6"/>
<path d="M269.30,187.06L271.50,187.06" stroke="#777" stroke-width="0.6"/>
<path d="M269.30,185.25L271.50,185.25" stroke="#777" stroke-width="0.6"/>
<path d="M269.30,183.85L271.50,183.85" stroke="#777" stroke-width="0.6"/>
<path d="M269.30,182.70L271.50,182.70" stroke="#777" stroke-width="0.6"/>
<path d="M269.30,181.73L271.50,181.73" stroke="#777" stroke-width="0.6"/>
<path d="M269.30,180.89L271.50,180.89" stroke="#777" stroke-width="0.6"/>
<path d="M269.30,180.15L271.50,180.15" stroke="#777" stroke-width="0.6"/>
<path d="M269.30,204.30L271.50,204.30" stroke="#777" stroke-width="0.6"/>
<path d="M269.30,201.70L271.50,201.70" stroke="#777" stroke-width="0.6"/>
<path d="M269.30,199.85L271.50,199.85" stroke="#777" stroke-width="0.6"/>
<path d="M269.30,198.42L271.50,198.42" stroke="#777" stroke-width="0.6"/>
<path d="M269.30,197.25L271.50,197.25" stroke="#777" stroke-width="0.6"/>
<path d="M269.30,196.26L271.50,196.26" stroke="#777" stroke-width="0.6"/>
<path d="M269.30,195.40L271.50,195.40" stroke="#777" stroke-width="0.6"/>
<path d="M269.30,194.65L271.50,194.65" stroke="#777" stroke-width="0.6"/>
<path d="M269.30,220.05L271.50,220.05" stroke="#777" stroke-width="0.6"/>
<path d="M269.30,217.20L271.50,217.20" stroke="#777" stroke-width="0.6"/>
<path d="M269.30,215.18L271.50,215.18" stroke="#777" stroke-width="0.6"/>
<path d="M269.30,213.62L271.50,213.62" stroke="#777" stroke-width="0.6"/>
<path d="M269.30,212.33L271.50,212.33" stroke="#777" stroke-width="0.6"/>
<path d="M269.30,211.25L271.50,211.25" stroke="#777" stroke-width="0.6"/>
<path d="M269.30,210.31L271.50,210.31" stroke="#777" stroke-width="0.6"/>
<path d="M269.30,209.49L271.50,209.49" stroke="#777" stroke-width="0.6"/>
<path d="M269.30,226.92L271.50,226.92" stroke="#777" stroke-width="0.6"/>
<path d="M269.30,228.92L271.50,228.92" stroke="#777" stroke-width="0.6"/>
<path d="M269.30,230.91L271.50,230.91" stroke="#777" stroke-width="0.6"/>
<path d="M269.30,236.20L271.50,236.20" stroke="#777" stroke-width="0.6"/>
<path d="M269.30,238.00L271.50,238.00" stroke="#777" stroke-width="0.6"/>
<path d="M281.49,239.20L281.49,242.40" stroke="#444" stroke-width="1.0"/>
<path d="M286.48,239.20L286.48,242.40" stroke="#444" stroke-width="1.0"/>
<path d="M302.66,239.20L302.66,242.40" stroke="#444" stroke-width="1.0"/>
<path d="M318.93,239.20L318.93,242.40" stroke="#444" stroke-width="1.0"/>
<path d="M335.11,239.20L335.11,242.40" stroke="#444" stroke-width="1.0"/>
<path d="M291.35,239.20L291.35,241.80" stroke="#777" stroke-width="0.6"/>
<path d="M294.20,239.20L294.20,241.80" stroke="#777" stroke-width="0.6"/>
<path d="M296.22,239.20L296.22,241.80" stroke="#777" stroke-width="0.6"/>
<path d="M297.79,239.20L297.79,241.80" stroke="#777" stroke-width="0.6"/>
<path d="M299.07,239.20L299.07,241.80" stroke="#777" stroke-width="0.6"/>
<path d="M300.15,239.20L300.15,241.80" stroke="#777" stroke-width="0.6"/>
<path d="M301.09,239.20L301.09,241.80" stroke="#777" stroke-width="0.6"/>
<path d="M301.92,239.20L301.92,241.80" stroke="#777" stroke-width="0.6"/>
<path d="M307.56,239.20L307.56,241.80" stroke="#777" stroke-width="0.6"/>
<path d="M310.42,239.20L310.42,241.80" stroke="#777" stroke-width="0.6"/>
<path d="M312.46,239.20L312.46,241.80" stroke="#777" stroke-width="0.6"/>
<path d="M314.03,239.20L314.03,241.80" stroke="#777" stroke-width="0.6"/>
<path d="M315.32,239.20L315.32,241.80" stroke="#777" stroke-width="0.6"/>
<path d="M316.41,239.20L316.41,241.80" stroke="#777" stroke-width="0.6"/>
<path d="M317.36,239.20L317.36,241.80" stroke="#777" stroke-width="0.6"/>
<path d="M318.19,239.20L318.19,241.80" stroke="#777" stroke-width="0.6"/>
<path d="M323.80,239.20L323.80,241.80" stroke="#777" stroke-width="0.6"/>
<path d="M326.65,239.20L326.65,241.80" stroke="#777" stroke-width="0.6"/>
<path d="M328.67,239.20L328.67,241.80" stroke="#777" stroke-width="0.6"/>
<path d="M330.24,239.20L330.24,241.80" stroke="#777" stroke-width="0.6"/>
<path d="M331.52,239.20L331.52,241.80" stroke="#777" stroke-width="0.6"/>
<path d="M332.60,239.20L332.60,241.80" stroke="#777" stroke-width="0.6"/>
<path d="M333.54,239.20L333.54,241.80" stroke="#777" stroke-width="0.6"/>
<path d="M334.37,239.20L334.37,241.80" stroke="#777" stroke-width="0.6"/>
<path d="M273.40,239.20L273.40,241.80" stroke="#666" stroke-width="0.7"/>
<path d="M276.89,239.20L276.89,241.80" stroke="#666" stroke-width="0.7"/>
<path d="M283.28,239.20L283.28,241.80" stroke="#666" stroke-width="0.7"/>
<path d="M284.68,239.20L284.68,241.80" stroke="#666" stroke-width="0.7"/>
<text transform="translate(266.80,181.39) scale(1.14,1)" font-size="5.5" text-anchor="end" fill="#1e1e1e">10<tspan font-size="3.9" dy="-2.3">5</tspan></text>
<text transform="translate(266.80,195.87) scale(1.14,1)" font-size="5.5" text-anchor="end" fill="#1e1e1e">10<tspan font-size="3.9" dy="-2.3">4</tspan></text>
<text transform="translate(266.80,210.65) scale(1.14,1)" font-size="5.5" text-anchor="end" fill="#1e1e1e">10<tspan font-size="3.9" dy="-2.3">3</tspan></text>
<text transform="translate(266.80,226.82) scale(1.14,1)" font-size="5.5" text-anchor="end" fill="#1e1e1e">10<tspan font-size="3.9" dy="-2.3">2</tspan></text>
<text transform="translate(266.20,236.39) scale(1.14,1)" font-size="5.5" text-anchor="end" fill="#1e1e1e">0</text>
<text transform="translate(279.89,252.40) scale(1.14,1)" font-size="5.5" fill="#1e1e1e">0</text>
<text transform="translate(282.48,252.40) scale(1.14,1)" font-size="5.5" text-anchor="start" fill="#1e1e1e">10<tspan font-size="3.9" dy="-2.3">2</tspan></text>
<text transform="translate(297.46,252.40) scale(1.14,1)" font-size="5.5" text-anchor="start" fill="#1e1e1e">10<tspan font-size="3.9" dy="-2.3">3</tspan></text>
<text transform="translate(314.94,252.40) scale(1.14,1)" font-size="5.5" text-anchor="start" fill="#1e1e1e">10<tspan font-size="3.9" dy="-2.3">4</tspan></text>
<text transform="translate(331.22,252.40) scale(1.14,1)" font-size="5.5" text-anchor="start" fill="#1e1e1e">10<tspan font-size="3.9" dy="-2.3">5</tspan></text>
<text transform="translate(300.06,197.00) scale(1.08,1.0)" font-size="5.8" text-anchor="start" fill="#1c1c1c" stroke="#1c1c1c" stroke-width="0.2">Q1</text>
<text transform="translate(322.70,197.00) scale(1.08,1.0)" font-size="5.8" text-anchor="start" fill="#1c1c1c" stroke="#1c1c1c" stroke-width="0.2">Q2</text>
<text transform="translate(323.20,214.00) scale(1.08,1.0)" font-size="5.8" text-anchor="start" fill="#1c1c1c" stroke="#1c1c1c" stroke-width="0.2">Q4</text>
<text transform="translate(300.06,214.00) scale(1.08,1.0)" font-size="5.8" text-anchor="start" fill="#1a3d1c" stroke="#1a3d1c" stroke-width="0.2">Q3</text>
<text transform="translate(340.10,182.80)" font-size="8.0" text-anchor="end" fill="#1c1c1c" stroke="#1c1c1c" stroke-width="0.2">7.9%</text>
<path d="M252.20,241.60L252.20,261.30" stroke="#1a1a1a" stroke-width="1.0"/>
<path d="M252.20,261.30L269.60,261.30" stroke="#1a1a1a" stroke-width="1.0"/>
<path d="M250.00,243.00L252.20,238.60L254.40,243.00Z" fill="#1a1a1a"/>
<path d="M267.50,259.20L271.90,261.30L267.50,263.40Z" fill="#1a1a1a"/>
<text transform="translate(275.10,264.00) scale(0.77,1.05)" font-size="7.0" text-anchor="start" font-weight="bold" fill="#222">H3Cit-alexa488</text>
<text transform="translate(254.10,223.40) rotate(-90) scale(0.98,1.18)" font-size="6.0" text-anchor="middle" font-weight="bold" fill="#222">MP0-PE</text>
<path d="M52.80,41.20L126.00,41.20" stroke="#3a3a3a" stroke-width="1.2"/>
<path d="M163.70,41.20L236.30,41.20" stroke="#3a3a3a" stroke-width="1.2"/>
<path d="M271.20,41.20L342.30,41.20" stroke="#3a3a3a" stroke-width="1.2"/>
<text transform="translate(89.30,36.40)" font-size="7.7" text-anchor="middle" fill="#1c1c1c" stroke="#1c1c1c" stroke-width="0.2">Control</text>
<text transform="translate(200.10,27.20)" font-size="7.7" text-anchor="middle" fill="#1c1c1c" stroke="#1c1c1c" stroke-width="0.2">iTTP</text>
<text transform="translate(199.90,36.80)" font-size="7.7" text-anchor="middle" fill="#1c1c1c" stroke="#1c1c1c" stroke-width="0.2">on admission</text>
<text transform="translate(307.00,27.20)" font-size="7.7" text-anchor="middle" fill="#1c1c1c" stroke="#1c1c1c" stroke-width="0.2">iTTP</text>
<text transform="translate(307.00,36.80)" font-size="7.7" text-anchor="middle" fill="#1c1c1c" stroke="#1c1c1c" stroke-width="0.2">following therapy</text>
<path d="M21.50,56.00L21.50,119.80" stroke="#444" stroke-width="1.2"/>
<path d="M21.40,178.50L21.40,241.80" stroke="#444" stroke-width="1.2"/>
<text transform="translate(16.90,87.80) rotate(-90)" font-size="7.2" text-anchor="middle" fill="#1c1c1c" stroke="#1c1c1c" stroke-width="0.2">Untreated</text>
<text transform="translate(17.20,210.50) rotate(-90)" font-size="7.5" text-anchor="middle" fill="#1c1c1c" stroke="#1c1c1c" stroke-width="0.2">Stx-2</text>
<rect x="393.20" y="126.80" width="24.50" height="11.00" fill="#c8c5cb"/>
<rect x="430.00" y="80.26" width="25.00" height="57.54" fill="#c8c5cb"/>
<rect x="467.30" y="134.00" width="24.50" height="3.80" fill="#d9dae2"/>
<path d="M380.60,32.05L380.60,137.80" stroke="#2e2e2e" stroke-width="1.3"/>
<path d="M377.80,35.05L380.60,35.05" stroke="#2e2e2e" stroke-width="1.1"/>
<text transform="translate(375.10,37.95) scale(1.22,1.0)" font-size="6.8" text-anchor="end" fill="#1c1c1c" stroke="#1c1c1c" stroke-width="0.2">20</text>
<path d="M377.80,60.74L380.60,60.74" stroke="#2e2e2e" stroke-width="1.1"/>
<text transform="translate(375.10,63.64) scale(1.22,1.0)" font-size="6.8" text-anchor="end" fill="#1c1c1c" stroke="#1c1c1c" stroke-width="0.2">15</text>
<path d="M377.80,86.42L380.60,86.42" stroke="#2e2e2e" stroke-width="1.1"/>
<text transform="translate(375.10,89.33) scale(1.22,1.0)" font-size="6.8" text-anchor="end" fill="#1c1c1c" stroke="#1c1c1c" stroke-width="0.2">10</text>
<path d="M377.80,112.11L380.60,112.11" stroke="#2e2e2e" stroke-width="1.1"/>
<text transform="translate(375.10,115.01) scale(1.22,1.0)" font-size="6.8" text-anchor="end" fill="#1c1c1c" stroke="#1c1c1c" stroke-width="0.2">5</text>
<path d="M377.80,137.80L380.60,137.80" stroke="#2e2e2e" stroke-width="1.1"/>
<text transform="translate(375.10,140.70) scale(1.22,1.0)" font-size="6.8" text-anchor="end" fill="#1c1c1c" stroke="#1c1c1c" stroke-width="0.2">0</text>
<path d="M380.00,137.80L504.00,137.80" stroke="#2e2e2e" stroke-width="1.3"/>
<path d="M405.30,137.80L405.30,140.40" stroke="#2e2e2e" stroke-width="1.1"/>
<path d="M442.10,137.80L442.10,140.40" stroke="#2e2e2e" stroke-width="1.1"/>
<path d="M479.30,137.80L479.30,140.40" stroke="#2e2e2e" stroke-width="1.1"/>
<path d="M405.30,123.10L405.30,133.35" stroke="#202020" stroke-width="1.1"/>
<path d="M398.90,123.10L411.70,123.10" stroke="#202020" stroke-width="1.2"/>
<path d="M398.90,133.35L411.70,133.35" stroke="#202020" stroke-width="1.2"/>
<circle cx="396.90" cy="122.50" r="1.95" fill="#16396f"/>
<circle cx="405.30" cy="123.50" r="1.95" fill="#16396f"/>
<circle cx="413.70" cy="125.30" r="1.95" fill="#16396f"/>
<circle cx="405.30" cy="128.70" r="1.95" fill="#16396f"/>
<circle cx="401.25" cy="133.35" r="1.95" fill="#16396f"/>
<circle cx="409.90" cy="133.35" r="1.95" fill="#16396f"/>
<path d="M442.10,57.30L442.10,115.50" stroke="#202020" stroke-width="1.1"/>
<path d="M435.20,57.30L449.00,57.30" stroke="#202020" stroke-width="1.2"/>
<path d="M435.20,115.50L449.00,115.50" stroke="#202020" stroke-width="1.2"/>
<rect x="440.10" y="49.90" width="4.0" height="4.0" fill="#16396f"/>
<rect x="440.10" y="57.70" width="4.0" height="4.0" fill="#16396f"/>
<rect x="440.10" y="69.90" width="4.0" height="4.0" fill="#16396f"/>
<rect x="440.10" y="86.00" width="4.0" height="4.0" fill="#16396f"/>
<rect x="440.10" y="111.25" width="4.0" height="4.0" fill="#16396f"/>
<rect x="440.10" y="119.25" width="4.0" height="4.0" fill="#16396f"/>
<path d="M479.30,124.20L479.30,134.50" stroke="#202020" stroke-width="1.1"/>
<path d="M472.40,124.20L486.00,124.20" stroke="#202020" stroke-width="1.2"/>
<path d="M479.30,102.11L481.40,106.10L477.20,106.10Z" fill="#16396f"/>
<path d="M469.20,128.81L471.30,132.80L467.10,132.80Z" fill="#16396f"/>
<path d="M469.20,133.61L471.30,137.60L467.10,137.60Z" fill="#16396f"/>
<path d="M476.20,130.21L478.30,134.20L474.10,134.20Z" fill="#16396f"/>
<path d="M482.70,132.11L484.80,136.10L480.60,136.10Z" fill="#16396f"/>
<path d="M489.90,131.91L492.00,135.90L487.80,135.90Z" fill="#16396f"/>
<path d="M405.20,47.00V41.40H442.10V47.20" fill="none" stroke="#333" stroke-width="1.1"/>
<circle cx="423.65" cy="37.20" r="0.9" fill="#222"/>
<path d="M442.10,41.40V34.70H479.30V40.30" fill="none" stroke="#333" stroke-width="1.1"/>
<circle cx="460.70" cy="30.40" r="0.9" fill="#222"/>
<text transform="translate(405.50,150.90)" font-size="7.5" text-anchor="middle" fill="#1c1c1c" stroke="#1c1c1c" stroke-width="0.2">Control</text>
<text transform="translate(405.50,159.90)" font-size="7.5" text-anchor="middle" fill="#1c1c1c" stroke="#1c1c1c" stroke-width="0.2">(n = 6)</text>
<text transform="translate(442.30,150.90)" font-size="7.5" text-anchor="middle" fill="#1c1c1c" stroke="#1c1c1c" stroke-width="0.2">On</text>
<text transform="translate(442.30,159.90)" font-size="7.5" text-anchor="middle" fill="#1c1c1c" stroke="#1c1c1c" stroke-width="0.2">admission</text>
<text transform="translate(442.30,168.90)" font-size="7.5" text-anchor="middle" fill="#1c1c1c" stroke="#1c1c1c" stroke-width="0.2">(n = 6)</text>
<text transform="translate(479.50,150.90)" font-size="7.5" text-anchor="middle" fill="#1c1c1c" stroke="#1c1c1c" stroke-width="0.2">Following</text>
<text transform="translate(479.50,159.90)" font-size="7.5" text-anchor="middle" fill="#1c1c1c" stroke="#1c1c1c" stroke-width="0.2">Therapy</text>
<text transform="translate(479.50,168.90)" font-size="7.5" text-anchor="middle" fill="#1c1c1c" stroke="#1c1c1c" stroke-width="0.2">(n = 6)</text>
<text transform="translate(359.50,85.20) rotate(-90) scale(0.98,1.0)" font-size="7.0" text-anchor="middle" font-weight="bold" fill="#1c1c1c">MPO+/CitH3+ (%)</text>
<path d="M44.00,299.10L44.00,413.30" stroke="#2e2e2e" stroke-width="1.3"/>
<path d="M41.20,413.30L44.00,413.30" stroke="#2e2e2e" stroke-width="1.1"/>
<text transform="translate(38.00,416.20) scale(1.22,1.0)" font-size="6.8" text-anchor="end" fill="#1c1c1c" stroke="#1c1c1c" stroke-width="0.2">0</text>
<path d="M41.20,397.41L44.00,397.41" stroke="#2e2e2e" stroke-width="1.1"/>
<text transform="translate(38.00,400.31) scale(1.22,1.0)" font-size="6.8" text-anchor="end" fill="#1c1c1c" stroke="#1c1c1c" stroke-width="0.2">500</text>
<path d="M41.20,381.53L44.00,381.53" stroke="#2e2e2e" stroke-width="1.1"/>
<text transform="translate(38.00,384.43) scale(1.22,1.0)" font-size="6.8" text-anchor="end" fill="#1c1c1c" stroke="#1c1c1c" stroke-width="0.2">1000</text>
<path d="M41.20,365.64L44.00,365.64" stroke="#2e2e2e" stroke-width="1.1"/>
<text transform="translate(38.00,368.54) scale(1.22,1.0)" font-size="6.8" text-anchor="end" fill="#1c1c1c" stroke="#1c1c1c" stroke-width="0.2">1500</text>
<path d="M41.20,349.76L44.00,349.76" stroke="#2e2e2e" stroke-width="1.1"/>
<text transform="translate(38.00,352.66) scale(1.22,1.0)" font-size="6.8" text-anchor="end" fill="#1c1c1c" stroke="#1c1c1c" stroke-width="0.2">2000</text>
<path d="M41.20,333.87L44.00,333.87" stroke="#2e2e2e" stroke-width="1.1"/>
<text transform="translate(38.00,336.77) scale(1.22,1.0)" font-size="6.8" text-anchor="end" fill="#1c1c1c" stroke="#1c1c1c" stroke-width="0.2">2500</text>
<path d="M41.20,317.99L44.00,317.99" stroke="#2e2e2e" stroke-width="1.1"/>
<text transform="translate(38.00,320.89) scale(1.22,1.0)" font-size="6.8" text-anchor="end" fill="#1c1c1c" stroke="#1c1c1c" stroke-width="0.2">3000</text>
<path d="M41.20,302.10L44.00,302.10" stroke="#2e2e2e" stroke-width="1.1"/>
<text transform="translate(38.00,305.00) scale(1.22,1.0)" font-size="6.8" text-anchor="end" fill="#1c1c1c" stroke="#1c1c1c" stroke-width="0.2">3500</text>
<path d="M43.40,413.30L132.40,413.30" stroke="#2e2e2e" stroke-width="1.3"/>
<path d="M69.00,413.30L69.00,415.90" stroke="#2e2e2e" stroke-width="1.1"/>
<path d="M106.80,413.30L106.80,415.90" stroke="#2e2e2e" stroke-width="1.1"/>
<path d="M69.00,313.22L106.80,400.91" stroke="#151515" stroke-width="0.95"/>
<path d="M69.00,333.87L106.80,401.54" stroke="#151515" stroke-width="0.95"/>
<path d="M69.00,348.80L106.80,403.77" stroke="#151515" stroke-width="0.95"/>
<path d="M69.00,383.12L106.80,401.86" stroke="#151515" stroke-width="0.95"/>
<path d="M69.00,384.07L106.80,403.13" stroke="#151515" stroke-width="0.95"/>
<path d="M69.00,391.70L106.80,409.81" stroke="#151515" stroke-width="0.95"/>
<path d="M69.00,392.97L106.80,410.44" stroke="#151515" stroke-width="0.95"/>
<path d="M69.00,400.59L106.80,411.39" stroke="#151515" stroke-width="0.95"/>
<path d="M69.00,402.18L106.80,402.50" stroke="#151515" stroke-width="0.95"/>
<path d="M69.00,403.77L106.80,409.49" stroke="#151515" stroke-width="0.95"/>
<path d="M69.00,404.72L106.80,400.59" stroke="#151515" stroke-width="0.95"/>
<path d="M69.00,405.67L106.80,410.76" stroke="#151515" stroke-width="0.95"/>
<path d="M69.00,407.26L106.80,404.09" stroke="#151515" stroke-width="0.95"/>
<path d="M69.00,408.53L106.80,405.67" stroke="#151515" stroke-width="0.95"/>
<circle cx="69.00" cy="313.22" r="2.0" fill="#c8173c"/>
<circle cx="69.00" cy="333.87" r="2.0" fill="#c8173c"/>
<circle cx="69.00" cy="348.80" r="2.0" fill="#c8173c"/>
<circle cx="69.00" cy="377.72" r="2.0" fill="#c8173c"/>
<circle cx="69.00" cy="383.12" r="2.0" fill="#c8173c"/>
<circle cx="69.00" cy="384.07" r="2.0" fill="#c8173c"/>
<circle cx="69.00" cy="391.70" r="2.0" fill="#c8173c"/>
<circle cx="69.00" cy="392.97" r="2.0" fill="#c8173c"/>
<circle cx="69.00" cy="399.00" r="2.0" fill="#c8173c"/>
<circle cx="69.00" cy="400.59" r="2.0" fill="#c8173c"/>
<circle cx="69.00" cy="402.18" r="2.0" fill="#c8173c"/>
<circle cx="69.00" cy="403.77" r="2.0" fill="#c8173c"/>
<circle cx="69.00" cy="404.72" r="2.0" fill="#c8173c"/>
<circle cx="69.00" cy="405.67" r="2.0" fill="#c8173c"/>
<circle cx="69.00" cy="406.63" r="2.0" fill="#c8173c"/>
<circle cx="69.00" cy="407.26" r="2.0" fill="#c8173c"/>
<circle cx="69.00" cy="407.90" r="2.0" fill="#c8173c"/>
<circle cx="69.00" cy="408.53" r="2.0" fill="#c8173c"/>
<rect x="105.00" y="398.47" width="3.6" height="3.6" fill="#1e4d8c"/>
<rect x="105.00" y="399.11" width="3.6" height="3.6" fill="#1e4d8c"/>
<rect x="105.00" y="399.74" width="3.6" height="3.6" fill="#1e4d8c"/>
<rect x="105.00" y="400.38" width="3.6" height="3.6" fill="#1e4d8c"/>
<rect x="105.00" y="401.02" width="3.6" height="3.6" fill="#1e4d8c"/>
<rect x="105.00" y="401.97" width="3.6" height="3.6" fill="#1e4d8c"/>
<rect x="105.00" y="402.92" width="3.6" height="3.6" fill="#1e4d8c"/>
<rect x="105.00" y="403.87" width="3.6" height="3.6" fill="#1e4d8c"/>
<rect x="105.00" y="405.15" width="3.6" height="3.6" fill="#1e4d8c"/>
<rect x="105.00" y="406.42" width="3.6" height="3.6" fill="#1e4d8c"/>
<rect x="105.00" y="407.69" width="3.6" height="3.6" fill="#1e4d8c"/>
<rect x="105.00" y="408.96" width="3.6" height="3.6" fill="#1e4d8c"/>
<rect x="105.00" y="409.91" width="3.6" height="3.6" fill="#1e4d8c"/>
<rect x="105.00" y="410.86" width="3.6" height="3.6" fill="#1e4d8c"/>
<path d="M69.50,304.60V302.00H106.40V304.60" fill="none" stroke="#333" stroke-width="1.1"/>
<circle cx="86.45" cy="297.90" r="0.9" fill="#222"/>
<circle cx="89.45" cy="297.90" r="0.9" fill="#222"/>
<text transform="translate(13.60,356.10) rotate(-90) scale(0.98,1.0)" font-size="7.0" text-anchor="middle" font-weight="bold" fill="#1c1c1c">MPO (pg/mL)</text>
<text transform="translate(69.40,425.60)" font-size="7.5" text-anchor="middle" fill="#1c1c1c" stroke="#1c1c1c" stroke-width="0.2">Acute</text>
<text transform="translate(69.40,434.60)" font-size="7.5" text-anchor="middle" fill="#1c1c1c" stroke="#1c1c1c" stroke-width="0.2">(n = 18)</text>
<text transform="translate(107.00,425.60)" font-size="7.5" text-anchor="middle" fill="#1c1c1c" stroke="#1c1c1c" stroke-width="0.2">Remission</text>
<text transform="translate(107.00,434.60)" font-size="7.5" text-anchor="middle" fill="#1c1c1c" stroke="#1c1c1c" stroke-width="0.2">(n = 14)</text>
<rect x="183.00" y="393.70" width="24.20" height="19.60" fill="#c8c5cb"/>
<rect x="221.40" y="360.10" width="24.60" height="53.20" fill="#c8c5cb"/>
<path d="M169.50,298.30L169.50,413.30" stroke="#2e2e2e" stroke-width="1.3"/>
<path d="M166.70,413.30L169.50,413.30" stroke="#2e2e2e" stroke-width="1.1"/>
<text transform="translate(164.00,416.20) scale(1.22,1.0)" font-size="6.8" text-anchor="end" fill="#1c1c1c" stroke="#1c1c1c" stroke-width="0.2">0</text>
<path d="M166.70,394.63L169.50,394.63" stroke="#2e2e2e" stroke-width="1.1"/>
<text transform="translate(164.00,397.53) scale(1.22,1.0)" font-size="6.8" text-anchor="end" fill="#1c1c1c" stroke="#1c1c1c" stroke-width="0.2">2</text>
<path d="M166.70,375.97L169.50,375.97" stroke="#2e2e2e" stroke-width="1.1"/>
<text transform="translate(164.00,378.87) scale(1.22,1.0)" font-size="6.8" text-anchor="end" fill="#1c1c1c" stroke="#1c1c1c" stroke-width="0.2">4</text>
<path d="M166.70,357.30L169.50,357.30" stroke="#2e2e2e" stroke-width="1.1"/>
<text transform="translate(164.00,360.20) scale(1.22,1.0)" font-size="6.8" text-anchor="end" fill="#1c1c1c" stroke="#1c1c1c" stroke-width="0.2">6</text>
<path d="M166.70,338.63L169.50,338.63" stroke="#2e2e2e" stroke-width="1.1"/>
<text transform="translate(164.00,341.53) scale(1.22,1.0)" font-size="6.8" text-anchor="end" fill="#1c1c1c" stroke="#1c1c1c" stroke-width="0.2">8</text>
<path d="M166.70,319.97L169.50,319.97" stroke="#2e2e2e" stroke-width="1.1"/>
<text transform="translate(164.00,322.87) scale(1.22,1.0)" font-size="6.8" text-anchor="end" fill="#1c1c1c" stroke="#1c1c1c" stroke-width="0.2">10</text>
<path d="M166.70,301.30L169.50,301.30" stroke="#2e2e2e" stroke-width="1.1"/>
<text transform="translate(164.00,304.20) scale(1.22,1.0)" font-size="6.8" text-anchor="end" fill="#1c1c1c" stroke="#1c1c1c" stroke-width="0.2">12</text>
<path d="M168.90,413.30L259.50,413.30" stroke="#2e2e2e" stroke-width="1.3"/>
<path d="M195.00,413.30L195.00,415.90" stroke="#2e2e2e" stroke-width="1.1"/>
<path d="M233.90,413.30L233.90,415.90" stroke="#2e2e2e" stroke-width="1.1"/>
<path d="M194.60,386.00L194.60,405.00" stroke="#202020" stroke-width="1.1"/>
<path d="M190.20,386.00L199.00,386.00" stroke="#202020" stroke-width="1.2"/>
<path d="M190.20,405.00L199.00,405.00" stroke="#202020" stroke-width="1.2"/>
<path d="M190.75,383.81L192.85,387.80L188.65,387.80Z" fill="#16396f"/>
<circle cx="198.75" cy="385.00" r="1.95" fill="#16396f"/>
<circle cx="198.25" cy="390.00" r="1.95" fill="#16396f"/>
<circle cx="194.50" cy="396.20" r="1.95" fill="#16396f"/>
<circle cx="190.75" cy="405.00" r="1.95" fill="#16396f"/>
<circle cx="198.25" cy="405.00" r="1.95" fill="#16396f"/>
<path d="M233.90,336.10L233.90,372.80" stroke="#202020" stroke-width="1.1"/>
<path d="M227.10,336.10L240.70,336.10" stroke="#202020" stroke-width="1.2"/>
<path d="M227.10,372.80L240.70,372.80" stroke="#202020" stroke-width="1.2"/>
<rect x="232.15" y="313.05" width="3.5" height="3.5" fill="#16396f"/>
<rect x="232.15" y="341.45" width="3.5" height="3.5" fill="#16396f"/>
<rect x="232.15" y="353.45" width="3.5" height="3.5" fill="#16396f"/>
<rect x="232.15" y="362.75" width="3.5" height="3.5" fill="#16396f"/>
<rect x="232.15" y="369.05" width="3.5" height="3.5" fill="#16396f"/>
<rect x="232.15" y="378.95" width="3.5" height="3.5" fill="#16396f"/>
<path d="M194.70,311.80V308.50H233.60V311.80" fill="none" stroke="#333" stroke-width="1.1"/>
<circle cx="212.65" cy="304.20" r="0.9" fill="#222"/>
<circle cx="215.65" cy="304.20" r="0.9" fill="#222"/>
<text transform="translate(148.80,354.60) rotate(-90) scale(0.98,1.0)" font-size="7.0" text-anchor="middle" font-weight="bold" fill="#1c1c1c">MPO+/CitH3+ (%)</text>
<text transform="translate(195.00,425.60)" font-size="7.5" text-anchor="middle" fill="#1c1c1c" stroke="#1c1c1c" stroke-width="0.2">Control</text>
<text transform="translate(195.00,434.60)" font-size="7.5" text-anchor="middle" fill="#1c1c1c" stroke="#1c1c1c" stroke-width="0.2">(n = 6)</text>
<text transform="translate(234.00,425.60)" font-size="7.5" text-anchor="middle" fill="#1c1c1c" stroke="#1c1c1c" stroke-width="0.2">Control</text>
<text transform="translate(234.00,434.60)" font-size="7.5" text-anchor="middle" fill="#1c1c1c" stroke="#1c1c1c" stroke-width="0.2">+Stx (n = 6)</text>
<rect x="310.00" y="377.72" width="24.70" height="35.58" fill="#c8c5cb"/>
<rect x="348.20" y="374.86" width="24.40" height="38.44" fill="#c8c5cb"/>
<path d="M296.30,299.10L296.30,413.30" stroke="#2e2e2e" stroke-width="1.3"/>
<path d="M293.50,413.30L296.30,413.30" stroke="#2e2e2e" stroke-width="1.1"/>
<text transform="translate(290.80,416.20) scale(1.22,1.0)" font-size="6.8" text-anchor="end" fill="#1c1c1c" stroke="#1c1c1c" stroke-width="0.2">0</text>
<path d="M293.50,397.41L296.30,397.41" stroke="#2e2e2e" stroke-width="1.1"/>
<text transform="translate(290.80,400.31) scale(1.22,1.0)" font-size="6.8" text-anchor="end" fill="#1c1c1c" stroke="#1c1c1c" stroke-width="0.2">5</text>
<path d="M293.50,381.53L296.30,381.53" stroke="#2e2e2e" stroke-width="1.1"/>
<text transform="translate(290.80,384.43) scale(1.22,1.0)" font-size="6.8" text-anchor="end" fill="#1c1c1c" stroke="#1c1c1c" stroke-width="0.2">10</text>
<path d="M293.50,365.64L296.30,365.64" stroke="#2e2e2e" stroke-width="1.1"/>
<text transform="translate(290.80,368.54) scale(1.22,1.0)" font-size="6.8" text-anchor="end" fill="#1c1c1c" stroke="#1c1c1c" stroke-width="0.2">15</text>
<path d="M293.50,349.76L296.30,349.76" stroke="#2e2e2e" stroke-width="1.1"/>
<text transform="translate(290.80,352.66) scale(1.22,1.0)" font-size="6.8" text-anchor="end" fill="#1c1c1c" stroke="#1c1c1c" stroke-width="0.2">20</text>
<path d="M293.50,333.87L296.30,333.87" stroke="#2e2e2e" stroke-width="1.1"/>
<text transform="translate(290.80,336.77) scale(1.22,1.0)" font-size="6.8" text-anchor="end" fill="#1c1c1c" stroke="#1c1c1c" stroke-width="0.2">25</text>
<path d="M293.50,317.99L296.30,317.99" stroke="#2e2e2e" stroke-width="1.1"/>
<text transform="translate(290.80,320.89) scale(1.22,1.0)" font-size="6.8" text-anchor="end" fill="#1c1c1c" stroke="#1c1c1c" stroke-width="0.2">30</text>
<path d="M293.50,302.10L296.30,302.10" stroke="#2e2e2e" stroke-width="1.1"/>
<text transform="translate(290.80,305.00) scale(1.22,1.0)" font-size="6.8" text-anchor="end" fill="#1c1c1c" stroke="#1c1c1c" stroke-width="0.2">35</text>
<path d="M295.70,413.30L386.70,413.30" stroke="#2e2e2e" stroke-width="1.3"/>
<path d="M322.30,413.30L322.30,415.90" stroke="#2e2e2e" stroke-width="1.1"/>
<path d="M360.40,413.30L360.40,415.90" stroke="#2e2e2e" stroke-width="1.1"/>
<path d="M322.30,363.50L322.30,399.20" stroke="#202020" stroke-width="1.1"/>
<path d="M315.70,363.50L328.90,363.50" stroke="#202020" stroke-width="1.2"/>
<path d="M315.70,399.20L328.90,399.20" stroke="#202020" stroke-width="1.2"/>
<circle cx="322.30" cy="360.75" r="1.95" fill="#16396f"/>
<circle cx="322.30" cy="372.00" r="1.95" fill="#16396f"/>
<circle cx="322.30" cy="382.00" r="1.95" fill="#16396f"/>
<circle cx="322.30" cy="402.50" r="1.95" fill="#16396f"/>
<circle cx="322.30" cy="365.00" r="1.95" fill="#16396f"/>
<path d="M322.30,395.61L324.40,399.60L320.20,399.60Z" fill="#16396f"/>
<path d="M360.40,330.50L360.40,391.20" stroke="#202020" stroke-width="1.1"/>
<path d="M353.80,330.50L367.00,330.50" stroke="#202020" stroke-width="1.2"/>
<path d="M353.80,391.20L367.00,391.20" stroke="#202020" stroke-width="1.2"/>
<rect x="358.65" y="310.25" width="3.5" height="3.5" fill="#16396f"/>
<rect x="358.65" y="335.85" width="3.5" height="3.5" fill="#16396f"/>
<rect x="358.65" y="361.95" width="3.5" height="3.5" fill="#16396f"/>
<rect x="354.55" y="383.45" width="3.5" height="3.5" fill="#16396f"/>
<rect x="362.15" y="383.45" width="3.5" height="3.5" fill="#16396f"/>
<rect x="358.75" y="405.25" width="3.5" height="3.5" fill="#16396f"/>
<path d="M322.40,307.10V304.40H360.80V307.10" fill="none" stroke="#333" stroke-width="1.1"/>
<text transform="translate(341.60,301.50)" font-size="7.5" text-anchor="middle" fill="#1c1c1c" stroke="#1c1c1c" stroke-width="0.2">n.s.</text>
<text transform="translate(276.70,355.10) rotate(-90) scale(0.98,1.0)" font-size="7.0" text-anchor="middle" font-weight="bold" fill="#1c1c1c">MPO+/CitH3+ (%)</text>
<text transform="translate(321.00,425.60)" font-size="7.5" text-anchor="middle" fill="#1c1c1c" stroke="#1c1c1c" stroke-width="0.2">iTTP</text>
<text transform="translate(321.00,434.60)" font-size="7.5" text-anchor="middle" fill="#1c1c1c" stroke="#1c1c1c" stroke-width="0.2">(n = 6)</text>
<text transform="translate(360.50,425.60)" font-size="7.5" text-anchor="middle" fill="#1c1c1c" stroke="#1c1c1c" stroke-width="0.2">iTTP+Stx</text>
<text transform="translate(360.50,434.60)" font-size="7.5" text-anchor="middle" fill="#1c1c1c" stroke="#1c1c1c" stroke-width="0.2">(n = 6)</text>
<path d="M307.00,439.50L377.00,439.50" stroke="#4a4a4a" stroke-width="1.1"/>
<text transform="translate(342.50,449.20)" font-size="7.5" text-anchor="middle" fill="#1c1c1c" stroke="#1c1c1c" stroke-width="0.2">Acute</text>
<rect x="436.00" y="408.95" width="25.00" height="4.35" fill="#d6d8de"/>
<rect x="475.00" y="375.41" width="24.30" height="37.89" fill="#c8c5cb"/>
<path d="M423.50,298.50L423.50,413.30" stroke="#2e2e2e" stroke-width="1.3"/>
<path d="M420.70,413.30L423.50,413.30" stroke="#2e2e2e" stroke-width="1.1"/>
<text transform="translate(418.00,416.20) scale(1.22,1.0)" font-size="6.8" text-anchor="end" fill="#1c1c1c" stroke="#1c1c1c" stroke-width="0.2">0</text>
<path d="M420.70,394.67L423.50,394.67" stroke="#2e2e2e" stroke-width="1.1"/>
<text transform="translate(418.00,397.57) scale(1.22,1.0)" font-size="6.8" text-anchor="end" fill="#1c1c1c" stroke="#1c1c1c" stroke-width="0.2">3</text>
<path d="M420.70,376.03L423.50,376.03" stroke="#2e2e2e" stroke-width="1.1"/>
<text transform="translate(418.00,378.93) scale(1.22,1.0)" font-size="6.8" text-anchor="end" fill="#1c1c1c" stroke="#1c1c1c" stroke-width="0.2">6</text>
<path d="M420.70,357.40L423.50,357.40" stroke="#2e2e2e" stroke-width="1.1"/>
<text transform="translate(418.00,360.30) scale(1.22,1.0)" font-size="6.8" text-anchor="end" fill="#1c1c1c" stroke="#1c1c1c" stroke-width="0.2">9</text>
<path d="M420.70,338.77L423.50,338.77" stroke="#2e2e2e" stroke-width="1.1"/>
<text transform="translate(418.00,341.67) scale(1.22,1.0)" font-size="6.8" text-anchor="end" fill="#1c1c1c" stroke="#1c1c1c" stroke-width="0.2">12</text>
<path d="M420.70,320.13L423.50,320.13" stroke="#2e2e2e" stroke-width="1.1"/>
<text transform="translate(418.00,323.03) scale(1.22,1.0)" font-size="6.8" text-anchor="end" fill="#1c1c1c" stroke="#1c1c1c" stroke-width="0.2">15</text>
<path d="M420.70,301.50L423.50,301.50" stroke="#2e2e2e" stroke-width="1.1"/>
<text transform="translate(418.00,304.40) scale(1.22,1.0)" font-size="6.8" text-anchor="end" fill="#1c1c1c" stroke="#1c1c1c" stroke-width="0.2">18</text>
<path d="M422.90,413.30L513.40,413.30" stroke="#2e2e2e" stroke-width="1.3"/>
<path d="M448.70,413.30L448.70,415.90" stroke="#2e2e2e" stroke-width="1.1"/>
<path d="M487.30,413.30L487.30,415.90" stroke="#2e2e2e" stroke-width="1.1"/>
<path d="M448.75,396.25L448.75,409.50" stroke="#202020" stroke-width="1.1"/>
<path d="M442.50,396.25L455.50,396.25" stroke="#202020" stroke-width="1.2"/>
<circle cx="448.75" cy="371.75" r="1.95" fill="#16396f"/>
<circle cx="438.00" cy="404.25" r="1.95" fill="#16396f"/>
<circle cx="445.00" cy="406.75" r="1.95" fill="#16396f"/>
<circle cx="438.00" cy="410.00" r="1.95" fill="#16396f"/>
<circle cx="452.50" cy="408.75" r="1.95" fill="#16396f"/>
<circle cx="460.00" cy="408.25" r="1.95" fill="#16396f"/>
<path d="M487.20,342.40L487.20,380.70" stroke="#202020" stroke-width="1.1"/>
<path d="M480.70,342.40L493.70,342.40" stroke="#202020" stroke-width="1.2"/>
<path d="M480.70,380.70L493.70,380.70" stroke="#202020" stroke-width="1.2"/>
<rect x="485.45" y="314.25" width="3.5" height="3.5" fill="#16396f"/>
<rect x="485.45" y="349.15" width="3.5" height="3.5" fill="#16396f"/>
<rect x="485.45" y="371.85" width="3.5" height="3.5" fill="#16396f"/>
<rect x="481.15" y="375.55" width="3.5" height="3.5" fill="#16396f"/>
<rect x="488.85" y="377.55" width="3.5" height="3.5" fill="#16396f"/>
<rect x="485.45" y="384.65" width="3.5" height="3.5" fill="#16396f"/>
<path d="M448.00,311.10V304.80H487.20V308.80" fill="none" stroke="#333" stroke-width="1.1"/>
<circle cx="467.60" cy="300.80" r="0.9" fill="#222"/>
<text transform="translate(402.90,355.30) rotate(-90) scale(0.98,1.0)" font-size="7.0" text-anchor="middle" font-weight="bold" fill="#1c1c1c">MPO+/CitH3+ (%)</text>
<text transform="translate(447.80,425.60)" font-size="7.5" text-anchor="middle" fill="#1c1c1c" stroke="#1c1c1c" stroke-width="0.2">iTTP</text>
<text transform="translate(447.80,434.60)" font-size="7.5" text-anchor="middle" fill="#1c1c1c" stroke="#1c1c1c" stroke-width="0.2">(n = 6)</text>
<text transform="translate(487.50,425.60)" font-size="7.5" text-anchor="middle" fill="#1c1c1c" stroke="#1c1c1c" stroke-width="0.2">iTTP+Stx</text>
<text transform="translate(487.50,434.60)" font-size="7.5" text-anchor="middle" fill="#1c1c1c" stroke="#1c1c1c" stroke-width="0.2">(n = 6)</text>
<path d="M434.50,440.00L504.50,440.00" stroke="#6a6a6a" stroke-width="1.2"/>
<text transform="translate(469.50,449.20)" font-size="7.5" text-anchor="middle" fill="#1c1c1c" stroke="#1c1c1c" stroke-width="0.2">Remission</text>
</svg></div>
</body></html>
